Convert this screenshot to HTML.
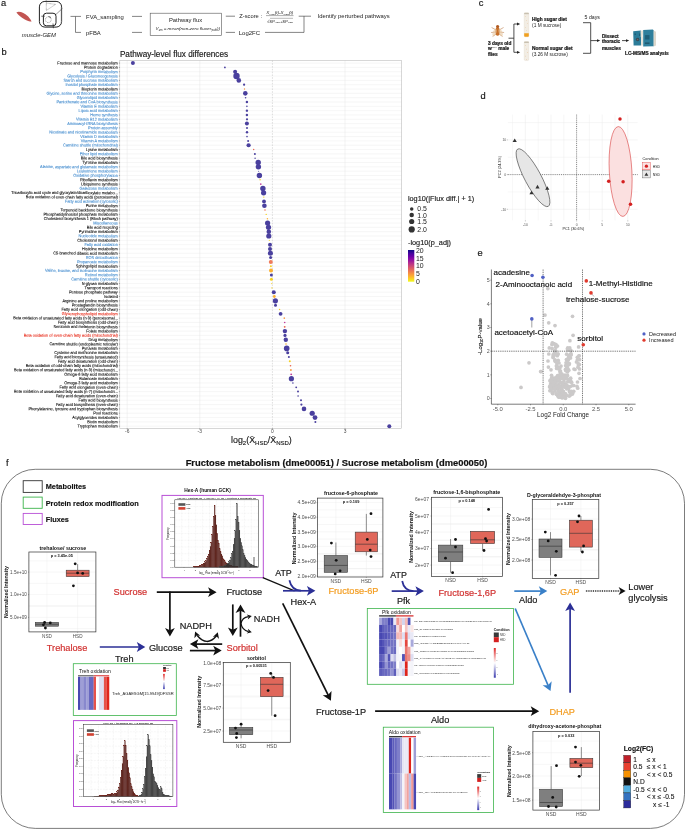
<!DOCTYPE html>
<html><head><meta charset="utf-8"><style>
html,body{margin:0;padding:0;background:#fff;}
svg{display:block;will-change:transform;}
text{font-family:"Liberation Sans", sans-serif;}
</style></head><body>
<svg width="685" height="829" viewBox="0 0 685 829" font-family='"Liberation Sans", sans-serif'>
<rect x="0" y="0" width="685" height="829" fill="#fff"/>
<text x="0.90" y="6.10" font-size="9.3" text-anchor="start" fill="#1a1a1a" stroke="#1a1a1a" stroke-width="0.186" >a</text>
<path d="M16.4,12.4 C18.5,10.6 24,12.2 28.2,16.6 C30,18.6 31,20.4 31.6,21.6 C27.5,21.2 21.5,18.6 16.4,12.4 Z" fill="#c25552"/>
<rect x="39.4" y="1.4" width="22.2" height="25.7" rx="5.5" fill="none" stroke="#222" stroke-width="1.0"/>
<path d="M61.2,7 L61.2,23" stroke="#999" stroke-width="0.6"/>
<rect x="43.4" y="13.2" width="12.6" height="12.6" rx="3" fill="none" stroke="#222" stroke-width="1.0"/>
<path d="M46.3,3.1 L55.5,4.4 L46.3,10.5 Z M46.3,0 L46.3,3.1" fill="none" stroke="#444" stroke-width="0.45" stroke-dasharray="0.8,0.5"/>
<circle cx="48.3" cy="19.7" r="2.9" fill="none" stroke="#555" stroke-width="0.5" stroke-dasharray="1,0.6"/>
<path d="M56,14.4 L62.5,8.3" stroke="#333" stroke-width="0.5"/>
<path d="M41.3,16.2 L44.8,16.2 M53,23.5 L53.4,28.2 M48.5,16.5 L51,17.5" stroke="#222" stroke-width="0.7"/>
<text x="21.80" y="36.71" font-size="5.9" text-anchor="start" font-style="italic" fill="#222" >muscle-GEM</text>
<path d="M70.5,16.4 L75.5,16.4 M75.5,16.4 L75.5,32.4 L81,32.4 M75.5,16.4 L81,16.4" fill="none" stroke="#333" stroke-width="0.6"/>
<text x="86.10" y="18.50" font-size="5.87" text-anchor="start" fill="#222" >FVA_sampling</text>
<text x="86.10" y="34.80" font-size="5.87" text-anchor="start" fill="#222" >pFBA</text>
<line x1="132.00" y1="16.40" x2="142.00" y2="16.40" stroke="#333" stroke-width="0.6" />
<line x1="132.00" y1="32.40" x2="142.00" y2="32.40" stroke="#333" stroke-width="0.6" />
<rect x="150.20" y="13.20" width="71.40" height="22.30" fill="none" stroke="#555" stroke-width="0.6" />
<text x="185.50" y="21.80" font-size="5.87" text-anchor="middle" fill="#222" >Pathway flux</text>
<text x="155.6" y="30.1" font-size="4.4" font-style="italic" fill="#222" textLength="64.5" lengthAdjust="spacingAndGlyphs">V<tspan font-size="2.6" dy="0.9">um</tspan><tspan dy="-0.9"> = mean(non-zero fluxes</tspan><tspan font-size="2.6" dy="0.9">path</tspan><tspan dy="-0.9">))</tspan></text>
<line x1="225.80" y1="16.20" x2="235.00" y2="16.20" stroke="#333" stroke-width="0.6" />
<line x1="225.80" y1="32.40" x2="235.00" y2="32.40" stroke="#333" stroke-width="0.6" />
<text x="239.30" y="18.26" font-size="5.75" text-anchor="start" fill="#222" >Z-score :</text>
<text x="266.3" y="14.2" font-size="4.3" font-style="italic" fill="#222" textLength="27" lengthAdjust="spacingAndGlyphs">X̄<tspan font-size="2.5" dy="0.8">HSD</tspan><tspan dy="-0.8">(t)-X̄</tspan><tspan font-size="2.5" dy="0.8">NSD</tspan><tspan dy="-0.8">(t)</tspan></text>
<line x1="266.00" y1="15.60" x2="293.50" y2="15.60" stroke="#333" stroke-width="0.4" />
<text x="267" y="22.6" font-size="4.3" font-style="italic" fill="#222" textLength="26" lengthAdjust="spacingAndGlyphs">√<tspan>SP</tspan><tspan font-size="2.5" dy="0.8">HSD</tspan><tspan dy="-0.8">+SP</tspan><tspan font-size="2.5" dy="0.8">NSD</tspan></text>
<line x1="270.00" y1="18.30" x2="293.00" y2="18.30" stroke="#333" stroke-width="0.35" />
<text x="238.80" y="34.83" font-size="5.96" text-anchor="start" fill="#222" >Log2FC</text>
<path d="M298.7,16.2 L311,16.2 M265,32.4 L304,32.4 L304,16.2" fill="none" stroke="#333" stroke-width="0.6"/>
<text x="317.60" y="18.30" font-size="5.87" text-anchor="start" fill="#222" >Identify perturbed pathways</text>
<text x="1.40" y="54.80" font-size="9.3" text-anchor="start" fill="#1a1a1a" stroke="#1a1a1a" stroke-width="0.186" >b</text>
<text x="119.90" y="57.30" font-size="8.2" text-anchor="start" fill="#1a1a1a" stroke="#1a1a1a" stroke-width="0.164" >Pathway-level flux differences</text>
<rect x="119.80" y="60.40" width="281.80" height="367.90" fill="#fff" stroke="none" stroke-width="1" />
<line x1="119.80" y1="63.10" x2="401.60" y2="63.10" stroke="#ebebeb" stroke-width="0.45" />
<line x1="119.80" y1="67.42" x2="401.60" y2="67.42" stroke="#ebebeb" stroke-width="0.45" />
<line x1="119.80" y1="71.75" x2="401.60" y2="71.75" stroke="#ebebeb" stroke-width="0.45" />
<line x1="119.80" y1="76.07" x2="401.60" y2="76.07" stroke="#ebebeb" stroke-width="0.45" />
<line x1="119.80" y1="80.39" x2="401.60" y2="80.39" stroke="#ebebeb" stroke-width="0.45" />
<line x1="119.80" y1="84.71" x2="401.60" y2="84.71" stroke="#ebebeb" stroke-width="0.45" />
<line x1="119.80" y1="89.04" x2="401.60" y2="89.04" stroke="#ebebeb" stroke-width="0.45" />
<line x1="119.80" y1="93.36" x2="401.60" y2="93.36" stroke="#ebebeb" stroke-width="0.45" />
<line x1="119.80" y1="97.68" x2="401.60" y2="97.68" stroke="#ebebeb" stroke-width="0.45" />
<line x1="119.80" y1="102.00" x2="401.60" y2="102.00" stroke="#ebebeb" stroke-width="0.45" />
<line x1="119.80" y1="106.33" x2="401.60" y2="106.33" stroke="#ebebeb" stroke-width="0.45" />
<line x1="119.80" y1="110.65" x2="401.60" y2="110.65" stroke="#ebebeb" stroke-width="0.45" />
<line x1="119.80" y1="114.97" x2="401.60" y2="114.97" stroke="#ebebeb" stroke-width="0.45" />
<line x1="119.80" y1="119.29" x2="401.60" y2="119.29" stroke="#ebebeb" stroke-width="0.45" />
<line x1="119.80" y1="123.62" x2="401.60" y2="123.62" stroke="#ebebeb" stroke-width="0.45" />
<line x1="119.80" y1="127.94" x2="401.60" y2="127.94" stroke="#ebebeb" stroke-width="0.45" />
<line x1="119.80" y1="132.26" x2="401.60" y2="132.26" stroke="#ebebeb" stroke-width="0.45" />
<line x1="119.80" y1="136.58" x2="401.60" y2="136.58" stroke="#ebebeb" stroke-width="0.45" />
<line x1="119.80" y1="140.91" x2="401.60" y2="140.91" stroke="#ebebeb" stroke-width="0.45" />
<line x1="119.80" y1="145.23" x2="401.60" y2="145.23" stroke="#ebebeb" stroke-width="0.45" />
<line x1="119.80" y1="149.55" x2="401.60" y2="149.55" stroke="#ebebeb" stroke-width="0.45" />
<line x1="119.80" y1="153.88" x2="401.60" y2="153.88" stroke="#ebebeb" stroke-width="0.45" />
<line x1="119.80" y1="158.20" x2="401.60" y2="158.20" stroke="#ebebeb" stroke-width="0.45" />
<line x1="119.80" y1="162.52" x2="401.60" y2="162.52" stroke="#ebebeb" stroke-width="0.45" />
<line x1="119.80" y1="166.84" x2="401.60" y2="166.84" stroke="#ebebeb" stroke-width="0.45" />
<line x1="119.80" y1="171.17" x2="401.60" y2="171.17" stroke="#ebebeb" stroke-width="0.45" />
<line x1="119.80" y1="175.49" x2="401.60" y2="175.49" stroke="#ebebeb" stroke-width="0.45" />
<line x1="119.80" y1="179.81" x2="401.60" y2="179.81" stroke="#ebebeb" stroke-width="0.45" />
<line x1="119.80" y1="184.13" x2="401.60" y2="184.13" stroke="#ebebeb" stroke-width="0.45" />
<line x1="119.80" y1="188.46" x2="401.60" y2="188.46" stroke="#ebebeb" stroke-width="0.45" />
<line x1="119.80" y1="192.78" x2="401.60" y2="192.78" stroke="#ebebeb" stroke-width="0.45" />
<line x1="119.80" y1="197.10" x2="401.60" y2="197.10" stroke="#ebebeb" stroke-width="0.45" />
<line x1="119.80" y1="201.42" x2="401.60" y2="201.42" stroke="#ebebeb" stroke-width="0.45" />
<line x1="119.80" y1="205.75" x2="401.60" y2="205.75" stroke="#ebebeb" stroke-width="0.45" />
<line x1="119.80" y1="210.07" x2="401.60" y2="210.07" stroke="#ebebeb" stroke-width="0.45" />
<line x1="119.80" y1="214.39" x2="401.60" y2="214.39" stroke="#ebebeb" stroke-width="0.45" />
<line x1="119.80" y1="218.71" x2="401.60" y2="218.71" stroke="#ebebeb" stroke-width="0.45" />
<line x1="119.80" y1="223.04" x2="401.60" y2="223.04" stroke="#ebebeb" stroke-width="0.45" />
<line x1="119.80" y1="227.36" x2="401.60" y2="227.36" stroke="#ebebeb" stroke-width="0.45" />
<line x1="119.80" y1="231.68" x2="401.60" y2="231.68" stroke="#ebebeb" stroke-width="0.45" />
<line x1="119.80" y1="236.00" x2="401.60" y2="236.00" stroke="#ebebeb" stroke-width="0.45" />
<line x1="119.80" y1="240.33" x2="401.60" y2="240.33" stroke="#ebebeb" stroke-width="0.45" />
<line x1="119.80" y1="244.65" x2="401.60" y2="244.65" stroke="#ebebeb" stroke-width="0.45" />
<line x1="119.80" y1="248.97" x2="401.60" y2="248.97" stroke="#ebebeb" stroke-width="0.45" />
<line x1="119.80" y1="253.30" x2="401.60" y2="253.30" stroke="#ebebeb" stroke-width="0.45" />
<line x1="119.80" y1="257.62" x2="401.60" y2="257.62" stroke="#ebebeb" stroke-width="0.45" />
<line x1="119.80" y1="261.94" x2="401.60" y2="261.94" stroke="#ebebeb" stroke-width="0.45" />
<line x1="119.80" y1="266.26" x2="401.60" y2="266.26" stroke="#ebebeb" stroke-width="0.45" />
<line x1="119.80" y1="270.59" x2="401.60" y2="270.59" stroke="#ebebeb" stroke-width="0.45" />
<line x1="119.80" y1="274.91" x2="401.60" y2="274.91" stroke="#ebebeb" stroke-width="0.45" />
<line x1="119.80" y1="279.23" x2="401.60" y2="279.23" stroke="#ebebeb" stroke-width="0.45" />
<line x1="119.80" y1="283.55" x2="401.60" y2="283.55" stroke="#ebebeb" stroke-width="0.45" />
<line x1="119.80" y1="287.88" x2="401.60" y2="287.88" stroke="#ebebeb" stroke-width="0.45" />
<line x1="119.80" y1="292.20" x2="401.60" y2="292.20" stroke="#ebebeb" stroke-width="0.45" />
<line x1="119.80" y1="296.52" x2="401.60" y2="296.52" stroke="#ebebeb" stroke-width="0.45" />
<line x1="119.80" y1="300.84" x2="401.60" y2="300.84" stroke="#ebebeb" stroke-width="0.45" />
<line x1="119.80" y1="305.17" x2="401.60" y2="305.17" stroke="#ebebeb" stroke-width="0.45" />
<line x1="119.80" y1="309.49" x2="401.60" y2="309.49" stroke="#ebebeb" stroke-width="0.45" />
<line x1="119.80" y1="313.81" x2="401.60" y2="313.81" stroke="#ebebeb" stroke-width="0.45" />
<line x1="119.80" y1="318.13" x2="401.60" y2="318.13" stroke="#ebebeb" stroke-width="0.45" />
<line x1="119.80" y1="322.46" x2="401.60" y2="322.46" stroke="#ebebeb" stroke-width="0.45" />
<line x1="119.80" y1="326.78" x2="401.60" y2="326.78" stroke="#ebebeb" stroke-width="0.45" />
<line x1="119.80" y1="331.10" x2="401.60" y2="331.10" stroke="#ebebeb" stroke-width="0.45" />
<line x1="119.80" y1="335.42" x2="401.60" y2="335.42" stroke="#ebebeb" stroke-width="0.45" />
<line x1="119.80" y1="339.75" x2="401.60" y2="339.75" stroke="#ebebeb" stroke-width="0.45" />
<line x1="119.80" y1="344.07" x2="401.60" y2="344.07" stroke="#ebebeb" stroke-width="0.45" />
<line x1="119.80" y1="348.39" x2="401.60" y2="348.39" stroke="#ebebeb" stroke-width="0.45" />
<line x1="119.80" y1="352.72" x2="401.60" y2="352.72" stroke="#ebebeb" stroke-width="0.45" />
<line x1="119.80" y1="357.04" x2="401.60" y2="357.04" stroke="#ebebeb" stroke-width="0.45" />
<line x1="119.80" y1="361.36" x2="401.60" y2="361.36" stroke="#ebebeb" stroke-width="0.45" />
<line x1="119.80" y1="365.68" x2="401.60" y2="365.68" stroke="#ebebeb" stroke-width="0.45" />
<line x1="119.80" y1="370.01" x2="401.60" y2="370.01" stroke="#ebebeb" stroke-width="0.45" />
<line x1="119.80" y1="374.33" x2="401.60" y2="374.33" stroke="#ebebeb" stroke-width="0.45" />
<line x1="119.80" y1="378.65" x2="401.60" y2="378.65" stroke="#ebebeb" stroke-width="0.45" />
<line x1="119.80" y1="382.97" x2="401.60" y2="382.97" stroke="#ebebeb" stroke-width="0.45" />
<line x1="119.80" y1="387.30" x2="401.60" y2="387.30" stroke="#ebebeb" stroke-width="0.45" />
<line x1="119.80" y1="391.62" x2="401.60" y2="391.62" stroke="#ebebeb" stroke-width="0.45" />
<line x1="119.80" y1="395.94" x2="401.60" y2="395.94" stroke="#ebebeb" stroke-width="0.45" />
<line x1="119.80" y1="400.26" x2="401.60" y2="400.26" stroke="#ebebeb" stroke-width="0.45" />
<line x1="119.80" y1="404.59" x2="401.60" y2="404.59" stroke="#ebebeb" stroke-width="0.45" />
<line x1="119.80" y1="408.91" x2="401.60" y2="408.91" stroke="#ebebeb" stroke-width="0.45" />
<line x1="119.80" y1="413.23" x2="401.60" y2="413.23" stroke="#ebebeb" stroke-width="0.45" />
<line x1="119.80" y1="417.55" x2="401.60" y2="417.55" stroke="#ebebeb" stroke-width="0.45" />
<line x1="119.80" y1="421.88" x2="401.60" y2="421.88" stroke="#ebebeb" stroke-width="0.45" />
<line x1="119.80" y1="426.20" x2="401.60" y2="426.20" stroke="#ebebeb" stroke-width="0.45" />
<line x1="127.20" y1="60.40" x2="127.20" y2="428.30" stroke="#e4e4e4" stroke-width="0.45" />
<line x1="199.80" y1="60.40" x2="199.80" y2="428.30" stroke="#e4e4e4" stroke-width="0.45" />
<line x1="345.00" y1="60.40" x2="345.00" y2="428.30" stroke="#e4e4e4" stroke-width="0.45" />
<line x1="272.40" y1="60.40" x2="272.40" y2="428.30" stroke="#bdbdbd" stroke-width="0.5" stroke-dasharray="1.6,1.2"/>
<rect x="119.80" y="60.40" width="281.80" height="367.90" fill="none" stroke="#b0b0b0" stroke-width="0.5" />
<line x1="118.90" y1="63.10" x2="119.80" y2="63.10" stroke="#333" stroke-width="0.4" />
<g transform="translate(117.8,64.50) rotate(0.1) scale(1,1.08)"><text x="0" y="0" font-size="3.89" text-anchor="end" fill="#111" stroke="#111" stroke-width="0.1">Fructose and mannose metabolism</text></g>
<line x1="118.90" y1="67.42" x2="119.80" y2="67.42" stroke="#333" stroke-width="0.4" />
<g transform="translate(117.8,68.82) rotate(0.1) scale(1,1.08)"><text x="0" y="0" font-size="3.89" text-anchor="end" fill="#111" stroke="#111" stroke-width="0.1">Protein degradation</text></g>
<line x1="118.90" y1="71.75" x2="119.80" y2="71.75" stroke="#333" stroke-width="0.4" />
<g transform="translate(117.8,73.15) rotate(0.1) scale(1,1.08)"><text x="0" y="0" font-size="3.89" text-anchor="end" fill="#4a90d0" stroke="#4a90d0" stroke-width="0.1">Porphyrin metabolism</text></g>
<line x1="118.90" y1="76.07" x2="119.80" y2="76.07" stroke="#333" stroke-width="0.4" />
<g transform="translate(117.8,77.47) rotate(0.1) scale(1,1.08)"><text x="0" y="0" font-size="3.89" text-anchor="end" fill="#4a90d0" stroke="#4a90d0" stroke-width="0.1">Glycolysis / Gluconeogenesis</text></g>
<line x1="118.90" y1="80.39" x2="119.80" y2="80.39" stroke="#333" stroke-width="0.4" />
<g transform="translate(117.8,81.79) rotate(0.1) scale(1,1.08)"><text x="0" y="0" font-size="3.89" text-anchor="end" fill="#4a90d0" stroke="#4a90d0" stroke-width="0.1">Starch and sucrose metabolism</text></g>
<line x1="118.90" y1="84.71" x2="119.80" y2="84.71" stroke="#333" stroke-width="0.4" />
<g transform="translate(117.8,86.11) rotate(0.1) scale(1,1.08)"><text x="0" y="0" font-size="3.89" text-anchor="end" fill="#4a90d0" stroke="#4a90d0" stroke-width="0.1">Inositol phosphate metabolism</text></g>
<line x1="118.90" y1="89.04" x2="119.80" y2="89.04" stroke="#333" stroke-width="0.4" />
<g transform="translate(117.8,90.44) rotate(0.1) scale(1,1.08)"><text x="0" y="0" font-size="3.89" text-anchor="end" fill="#111" stroke="#111" stroke-width="0.1">Biopterin metabolism</text></g>
<line x1="118.90" y1="93.36" x2="119.80" y2="93.36" stroke="#333" stroke-width="0.4" />
<g transform="translate(117.8,94.76) rotate(0.1) scale(1,1.08)"><text x="0" y="0" font-size="3.89" text-anchor="end" fill="#4a90d0" stroke="#4a90d0" stroke-width="0.1">Glycine, serine and threonine metabolism</text></g>
<line x1="118.90" y1="97.68" x2="119.80" y2="97.68" stroke="#333" stroke-width="0.4" />
<g transform="translate(117.8,99.08) rotate(0.1) scale(1,1.08)"><text x="0" y="0" font-size="3.89" text-anchor="end" fill="#4a90d0" stroke="#4a90d0" stroke-width="0.1">Glycerolipid metabolism</text></g>
<line x1="118.90" y1="102.00" x2="119.80" y2="102.00" stroke="#333" stroke-width="0.4" />
<g transform="translate(117.8,103.40) rotate(0.1) scale(1,1.08)"><text x="0" y="0" font-size="3.89" text-anchor="end" fill="#4a90d0" stroke="#4a90d0" stroke-width="0.1">Pantothenate and CoA biosynthesis</text></g>
<line x1="118.90" y1="106.33" x2="119.80" y2="106.33" stroke="#333" stroke-width="0.4" />
<g transform="translate(117.8,107.73) rotate(0.1) scale(1,1.08)"><text x="0" y="0" font-size="3.89" text-anchor="end" fill="#4a90d0" stroke="#4a90d0" stroke-width="0.1">Vitamin E metabolism</text></g>
<line x1="118.90" y1="110.65" x2="119.80" y2="110.65" stroke="#333" stroke-width="0.4" />
<g transform="translate(117.8,112.05) rotate(0.1) scale(1,1.08)"><text x="0" y="0" font-size="3.89" text-anchor="end" fill="#4a90d0" stroke="#4a90d0" stroke-width="0.1">Lipoic acid metabolism</text></g>
<line x1="118.90" y1="114.97" x2="119.80" y2="114.97" stroke="#333" stroke-width="0.4" />
<g transform="translate(117.8,116.37) rotate(0.1) scale(1,1.08)"><text x="0" y="0" font-size="3.89" text-anchor="end" fill="#4a90d0" stroke="#4a90d0" stroke-width="0.1">Heme synthesis</text></g>
<line x1="118.90" y1="119.29" x2="119.80" y2="119.29" stroke="#333" stroke-width="0.4" />
<g transform="translate(117.8,120.69) rotate(0.1) scale(1,1.08)"><text x="0" y="0" font-size="3.89" text-anchor="end" fill="#4a90d0" stroke="#4a90d0" stroke-width="0.1">Vitamin B12 metabolism</text></g>
<line x1="118.90" y1="123.62" x2="119.80" y2="123.62" stroke="#333" stroke-width="0.4" />
<g transform="translate(117.8,125.02) rotate(0.1) scale(1,1.08)"><text x="0" y="0" font-size="3.89" text-anchor="end" fill="#4a90d0" stroke="#4a90d0" stroke-width="0.1">Aminoacyl-tRNA biosynthesis</text></g>
<line x1="118.90" y1="127.94" x2="119.80" y2="127.94" stroke="#333" stroke-width="0.4" />
<g transform="translate(117.8,129.34) rotate(0.1) scale(1,1.08)"><text x="0" y="0" font-size="3.89" text-anchor="end" fill="#4a90d0" stroke="#4a90d0" stroke-width="0.1">Protein assembly</text></g>
<line x1="118.90" y1="132.26" x2="119.80" y2="132.26" stroke="#333" stroke-width="0.4" />
<g transform="translate(117.8,133.66) rotate(0.1) scale(1,1.08)"><text x="0" y="0" font-size="3.89" text-anchor="end" fill="#4a90d0" stroke="#4a90d0" stroke-width="0.1">Nicotinate and nicotinamide metabolism</text></g>
<line x1="118.90" y1="136.58" x2="119.80" y2="136.58" stroke="#333" stroke-width="0.4" />
<g transform="translate(117.8,137.98) rotate(0.1) scale(1,1.08)"><text x="0" y="0" font-size="3.89" text-anchor="end" fill="#4a90d0" stroke="#4a90d0" stroke-width="0.1">Vitamin D metabolism</text></g>
<line x1="118.90" y1="140.91" x2="119.80" y2="140.91" stroke="#333" stroke-width="0.4" />
<g transform="translate(117.8,142.31) rotate(0.1) scale(1,1.08)"><text x="0" y="0" font-size="3.89" text-anchor="end" fill="#4a90d0" stroke="#4a90d0" stroke-width="0.1">Vitamin A metabolism</text></g>
<line x1="118.90" y1="145.23" x2="119.80" y2="145.23" stroke="#333" stroke-width="0.4" />
<g transform="translate(117.8,146.63) rotate(0.1) scale(1,1.08)"><text x="0" y="0" font-size="3.89" text-anchor="end" fill="#4a90d0" stroke="#4a90d0" stroke-width="0.1">Carnitine shuttle (mitochondrial)</text></g>
<line x1="118.90" y1="149.55" x2="119.80" y2="149.55" stroke="#333" stroke-width="0.4" />
<g transform="translate(117.8,150.95) rotate(0.1) scale(1,1.08)"><text x="0" y="0" font-size="3.89" text-anchor="end" fill="#111" stroke="#111" stroke-width="0.1">Lysine metabolism</text></g>
<line x1="118.90" y1="153.88" x2="119.80" y2="153.88" stroke="#333" stroke-width="0.4" />
<g transform="translate(117.8,155.28) rotate(0.1) scale(1,1.08)"><text x="0" y="0" font-size="3.89" text-anchor="end" fill="#4a90d0" stroke="#4a90d0" stroke-width="0.1">Ether lipid metabolism</text></g>
<line x1="118.90" y1="158.20" x2="119.80" y2="158.20" stroke="#333" stroke-width="0.4" />
<g transform="translate(117.8,159.60) rotate(0.1) scale(1,1.08)"><text x="0" y="0" font-size="3.89" text-anchor="end" fill="#111" stroke="#111" stroke-width="0.1">Bile acid biosynthesis</text></g>
<line x1="118.90" y1="162.52" x2="119.80" y2="162.52" stroke="#333" stroke-width="0.4" />
<g transform="translate(117.8,163.92) rotate(0.1) scale(1,1.08)"><text x="0" y="0" font-size="3.89" text-anchor="end" fill="#111" stroke="#111" stroke-width="0.1">Tyrosine metabolism</text></g>
<line x1="118.90" y1="166.84" x2="119.80" y2="166.84" stroke="#333" stroke-width="0.4" />
<g transform="translate(117.8,168.24) rotate(0.1) scale(1,1.08)"><text x="0" y="0" font-size="3.89" text-anchor="end" fill="#4a90d0" stroke="#4a90d0" stroke-width="0.1">Alanine, aspartate and glutamate metabolism</text></g>
<line x1="118.90" y1="171.17" x2="119.80" y2="171.17" stroke="#333" stroke-width="0.4" />
<g transform="translate(117.8,172.57) rotate(0.1) scale(1,1.08)"><text x="0" y="0" font-size="3.89" text-anchor="end" fill="#4a90d0" stroke="#4a90d0" stroke-width="0.1">Leukotriene metabolism</text></g>
<line x1="118.90" y1="175.49" x2="119.80" y2="175.49" stroke="#333" stroke-width="0.4" />
<g transform="translate(117.8,176.89) rotate(0.1) scale(1,1.08)"><text x="0" y="0" font-size="3.89" text-anchor="end" fill="#4a90d0" stroke="#4a90d0" stroke-width="0.1">Oxidative phosphorylation</text></g>
<line x1="118.90" y1="179.81" x2="119.80" y2="179.81" stroke="#333" stroke-width="0.4" />
<g transform="translate(117.8,181.21) rotate(0.1) scale(1,1.08)"><text x="0" y="0" font-size="3.89" text-anchor="end" fill="#111" stroke="#111" stroke-width="0.1">Riboflavin metabolism</text></g>
<line x1="118.90" y1="184.13" x2="119.80" y2="184.13" stroke="#333" stroke-width="0.4" />
<g transform="translate(117.8,185.53) rotate(0.1) scale(1,1.08)"><text x="0" y="0" font-size="3.89" text-anchor="end" fill="#111" stroke="#111" stroke-width="0.1">Ubiquinone synthesis</text></g>
<line x1="118.90" y1="188.46" x2="119.80" y2="188.46" stroke="#333" stroke-width="0.4" />
<g transform="translate(117.8,189.86) rotate(0.1) scale(1,1.08)"><text x="0" y="0" font-size="3.89" text-anchor="end" fill="#4a90d0" stroke="#4a90d0" stroke-width="0.1">Galactose metabolism</text></g>
<line x1="118.90" y1="192.78" x2="119.80" y2="192.78" stroke="#333" stroke-width="0.4" />
<g transform="translate(117.8,194.18) rotate(0.1) scale(1,1.08)"><text x="0" y="0" font-size="3.89" text-anchor="end" fill="#111" stroke="#111" stroke-width="0.1">Tricarboxylic acid cycle and glyoxylate/dicarboxylate metabo...</text></g>
<line x1="118.90" y1="197.10" x2="119.80" y2="197.10" stroke="#333" stroke-width="0.4" />
<g transform="translate(117.8,198.50) rotate(0.1) scale(1,1.08)"><text x="0" y="0" font-size="3.89" text-anchor="end" fill="#111" stroke="#111" stroke-width="0.1">Beta oxidation of even-chain fatty acids (peroxisomal)</text></g>
<line x1="118.90" y1="201.42" x2="119.80" y2="201.42" stroke="#333" stroke-width="0.4" />
<g transform="translate(117.8,202.82) rotate(0.1) scale(1,1.08)"><text x="0" y="0" font-size="3.89" text-anchor="end" fill="#4a90d0" stroke="#4a90d0" stroke-width="0.1">Fatty acid activation (cytosolic)</text></g>
<line x1="118.90" y1="205.75" x2="119.80" y2="205.75" stroke="#333" stroke-width="0.4" />
<g transform="translate(117.8,207.15) rotate(0.1) scale(1,1.08)"><text x="0" y="0" font-size="3.89" text-anchor="end" fill="#111" stroke="#111" stroke-width="0.1">Purine metabolism</text></g>
<line x1="118.90" y1="210.07" x2="119.80" y2="210.07" stroke="#333" stroke-width="0.4" />
<g transform="translate(117.8,211.47) rotate(0.1) scale(1,1.08)"><text x="0" y="0" font-size="3.89" text-anchor="end" fill="#111" stroke="#111" stroke-width="0.1">Terpenoid backbone biosynthesis</text></g>
<line x1="118.90" y1="214.39" x2="119.80" y2="214.39" stroke="#333" stroke-width="0.4" />
<g transform="translate(117.8,215.79) rotate(0.1) scale(1,1.08)"><text x="0" y="0" font-size="3.89" text-anchor="end" fill="#111" stroke="#111" stroke-width="0.1">Phosphatidylinositol phosphate metabolism</text></g>
<line x1="118.90" y1="218.71" x2="119.80" y2="218.71" stroke="#333" stroke-width="0.4" />
<g transform="translate(117.8,220.11) rotate(0.1) scale(1,1.08)"><text x="0" y="0" font-size="3.89" text-anchor="end" fill="#111" stroke="#111" stroke-width="0.1">Cholesterol biosynthesis 1 (Bloch pathway)</text></g>
<line x1="118.90" y1="223.04" x2="119.80" y2="223.04" stroke="#333" stroke-width="0.4" />
<g transform="translate(117.8,224.44) rotate(0.1) scale(1,1.08)"><text x="0" y="0" font-size="3.89" text-anchor="end" fill="#4a90d0" stroke="#4a90d0" stroke-width="0.1">Miscellaneous</text></g>
<line x1="118.90" y1="227.36" x2="119.80" y2="227.36" stroke="#333" stroke-width="0.4" />
<g transform="translate(117.8,228.76) rotate(0.1) scale(1,1.08)"><text x="0" y="0" font-size="3.89" text-anchor="end" fill="#111" stroke="#111" stroke-width="0.1">Bile acid recycling</text></g>
<line x1="118.90" y1="231.68" x2="119.80" y2="231.68" stroke="#333" stroke-width="0.4" />
<g transform="translate(117.8,233.08) rotate(0.1) scale(1,1.08)"><text x="0" y="0" font-size="3.89" text-anchor="end" fill="#111" stroke="#111" stroke-width="0.1">Pyrimidine metabolism</text></g>
<line x1="118.90" y1="236.00" x2="119.80" y2="236.00" stroke="#333" stroke-width="0.4" />
<g transform="translate(117.8,237.40) rotate(0.1) scale(1,1.08)"><text x="0" y="0" font-size="3.89" text-anchor="end" fill="#4a90d0" stroke="#4a90d0" stroke-width="0.1">Nucleotide metabolism</text></g>
<line x1="118.90" y1="240.33" x2="119.80" y2="240.33" stroke="#333" stroke-width="0.4" />
<g transform="translate(117.8,241.73) rotate(0.1) scale(1,1.08)"><text x="0" y="0" font-size="3.89" text-anchor="end" fill="#111" stroke="#111" stroke-width="0.1">Cholesterol metabolism</text></g>
<line x1="118.90" y1="244.65" x2="119.80" y2="244.65" stroke="#333" stroke-width="0.4" />
<g transform="translate(117.8,246.05) rotate(0.1) scale(1,1.08)"><text x="0" y="0" font-size="3.89" text-anchor="end" fill="#4a90d0" stroke="#4a90d0" stroke-width="0.1">Fatty acid oxidation</text></g>
<line x1="118.90" y1="248.97" x2="119.80" y2="248.97" stroke="#333" stroke-width="0.4" />
<g transform="translate(117.8,250.37) rotate(0.1) scale(1,1.08)"><text x="0" y="0" font-size="3.89" text-anchor="end" fill="#111" stroke="#111" stroke-width="0.1">Histidine metabolism</text></g>
<line x1="118.90" y1="253.30" x2="119.80" y2="253.30" stroke="#333" stroke-width="0.4" />
<g transform="translate(117.8,254.70) rotate(0.1) scale(1,1.08)"><text x="0" y="0" font-size="3.89" text-anchor="end" fill="#111" stroke="#111" stroke-width="0.1">C5-branched dibasic acid metabolism</text></g>
<line x1="118.90" y1="257.62" x2="119.80" y2="257.62" stroke="#333" stroke-width="0.4" />
<g transform="translate(117.8,259.02) rotate(0.1) scale(1,1.08)"><text x="0" y="0" font-size="3.89" text-anchor="end" fill="#4a90d0" stroke="#4a90d0" stroke-width="0.1">ROS detoxification</text></g>
<line x1="118.90" y1="261.94" x2="119.80" y2="261.94" stroke="#333" stroke-width="0.4" />
<g transform="translate(117.8,263.34) rotate(0.1) scale(1,1.08)"><text x="0" y="0" font-size="3.89" text-anchor="end" fill="#4a90d0" stroke="#4a90d0" stroke-width="0.1">Propanoate metabolism</text></g>
<line x1="118.90" y1="266.26" x2="119.80" y2="266.26" stroke="#333" stroke-width="0.4" />
<g transform="translate(117.8,267.66) rotate(0.1) scale(1,1.08)"><text x="0" y="0" font-size="3.89" text-anchor="end" fill="#111" stroke="#111" stroke-width="0.1">Sphingolipid metabolism</text></g>
<line x1="118.90" y1="270.59" x2="119.80" y2="270.59" stroke="#333" stroke-width="0.4" />
<g transform="translate(117.8,271.99) rotate(0.1) scale(1,1.08)"><text x="0" y="0" font-size="3.89" text-anchor="end" fill="#4a90d0" stroke="#4a90d0" stroke-width="0.1">Valine, leucine, and isoleucine metabolism</text></g>
<line x1="118.90" y1="274.91" x2="119.80" y2="274.91" stroke="#333" stroke-width="0.4" />
<g transform="translate(117.8,276.31) rotate(0.1) scale(1,1.08)"><text x="0" y="0" font-size="3.89" text-anchor="end" fill="#4a90d0" stroke="#4a90d0" stroke-width="0.1">Retinol metabolism</text></g>
<line x1="118.90" y1="279.23" x2="119.80" y2="279.23" stroke="#333" stroke-width="0.4" />
<g transform="translate(117.8,280.63) rotate(0.1) scale(1,1.08)"><text x="0" y="0" font-size="3.89" text-anchor="end" fill="#4a90d0" stroke="#4a90d0" stroke-width="0.1">Carnitine shuttle (cytosolic)</text></g>
<line x1="118.90" y1="283.55" x2="119.80" y2="283.55" stroke="#333" stroke-width="0.4" />
<g transform="translate(117.8,284.95) rotate(0.1) scale(1,1.08)"><text x="0" y="0" font-size="3.89" text-anchor="end" fill="#111" stroke="#111" stroke-width="0.1">N-glycan metabolism</text></g>
<line x1="118.90" y1="287.88" x2="119.80" y2="287.88" stroke="#333" stroke-width="0.4" />
<g transform="translate(117.8,289.28) rotate(0.1) scale(1,1.08)"><text x="0" y="0" font-size="3.89" text-anchor="end" fill="#111" stroke="#111" stroke-width="0.1">Transport reactions</text></g>
<line x1="118.90" y1="292.20" x2="119.80" y2="292.20" stroke="#333" stroke-width="0.4" />
<g transform="translate(117.8,293.60) rotate(0.1) scale(1,1.08)"><text x="0" y="0" font-size="3.89" text-anchor="end" fill="#111" stroke="#111" stroke-width="0.1">Pentose phosphate pathway</text></g>
<line x1="118.90" y1="296.52" x2="119.80" y2="296.52" stroke="#333" stroke-width="0.4" />
<g transform="translate(117.8,297.92) rotate(0.1) scale(1,1.08)"><text x="0" y="0" font-size="3.89" text-anchor="end" fill="#111" stroke="#111" stroke-width="0.1">Isolated</text></g>
<line x1="118.90" y1="300.84" x2="119.80" y2="300.84" stroke="#333" stroke-width="0.4" />
<g transform="translate(117.8,302.24) rotate(0.1) scale(1,1.08)"><text x="0" y="0" font-size="3.89" text-anchor="end" fill="#111" stroke="#111" stroke-width="0.1">Arginine and proline metabolism</text></g>
<line x1="118.90" y1="305.17" x2="119.80" y2="305.17" stroke="#333" stroke-width="0.4" />
<g transform="translate(117.8,306.57) rotate(0.1) scale(1,1.08)"><text x="0" y="0" font-size="3.89" text-anchor="end" fill="#111" stroke="#111" stroke-width="0.1">Prostaglandin biosynthesis</text></g>
<line x1="118.90" y1="309.49" x2="119.80" y2="309.49" stroke="#333" stroke-width="0.4" />
<g transform="translate(117.8,310.89) rotate(0.1) scale(1,1.08)"><text x="0" y="0" font-size="3.89" text-anchor="end" fill="#111" stroke="#111" stroke-width="0.1">Fatty acid elongation (odd-chain)</text></g>
<line x1="118.90" y1="313.81" x2="119.80" y2="313.81" stroke="#333" stroke-width="0.4" />
<g transform="translate(117.8,315.21) rotate(0.1) scale(1,1.08)"><text x="0" y="0" font-size="3.89" text-anchor="end" fill="#e8301f" stroke="#e8301f" stroke-width="0.1">Glycerophospholipid metabolism</text></g>
<line x1="118.90" y1="318.13" x2="119.80" y2="318.13" stroke="#333" stroke-width="0.4" />
<g transform="translate(117.8,319.53) rotate(0.1) scale(1,1.08)"><text x="0" y="0" font-size="3.89" text-anchor="end" fill="#111" stroke="#111" stroke-width="0.1">Beta oxidation of unsaturated fatty acids (n-9) (peroxisomal...</text></g>
<line x1="118.90" y1="322.46" x2="119.80" y2="322.46" stroke="#333" stroke-width="0.4" />
<g transform="translate(117.8,323.86) rotate(0.1) scale(1,1.08)"><text x="0" y="0" font-size="3.89" text-anchor="end" fill="#111" stroke="#111" stroke-width="0.1">Fatty acid biosynthesis (odd-chain)</text></g>
<line x1="118.90" y1="326.78" x2="119.80" y2="326.78" stroke="#333" stroke-width="0.4" />
<g transform="translate(117.8,328.18) rotate(0.1) scale(1,1.08)"><text x="0" y="0" font-size="3.89" text-anchor="end" fill="#111" stroke="#111" stroke-width="0.1">Serotonin and melatonin biosynthesis</text></g>
<line x1="118.90" y1="331.10" x2="119.80" y2="331.10" stroke="#333" stroke-width="0.4" />
<g transform="translate(117.8,332.50) rotate(0.1) scale(1,1.08)"><text x="0" y="0" font-size="3.89" text-anchor="end" fill="#111" stroke="#111" stroke-width="0.1">Folate metabolism</text></g>
<line x1="118.90" y1="335.42" x2="119.80" y2="335.42" stroke="#333" stroke-width="0.4" />
<g transform="translate(117.8,336.82) rotate(0.1) scale(1,1.08)"><text x="0" y="0" font-size="3.89" text-anchor="end" fill="#e8301f" stroke="#e8301f" stroke-width="0.1">Beta oxidation of even-chain fatty acids (mitochondrial)</text></g>
<line x1="118.90" y1="339.75" x2="119.80" y2="339.75" stroke="#333" stroke-width="0.4" />
<g transform="translate(117.8,341.15) rotate(0.1) scale(1,1.08)"><text x="0" y="0" font-size="3.89" text-anchor="end" fill="#111" stroke="#111" stroke-width="0.1">Drug metabolism</text></g>
<line x1="118.90" y1="344.07" x2="119.80" y2="344.07" stroke="#333" stroke-width="0.4" />
<g transform="translate(117.8,345.47) rotate(0.1) scale(1,1.08)"><text x="0" y="0" font-size="3.89" text-anchor="end" fill="#111" stroke="#111" stroke-width="0.1">Carnitine shuttle (endoplasmic reticular)</text></g>
<line x1="118.90" y1="348.39" x2="119.80" y2="348.39" stroke="#333" stroke-width="0.4" />
<g transform="translate(117.8,349.79) rotate(0.1) scale(1,1.08)"><text x="0" y="0" font-size="3.89" text-anchor="end" fill="#111" stroke="#111" stroke-width="0.1">Pyruvate metabolism</text></g>
<line x1="118.90" y1="352.72" x2="119.80" y2="352.72" stroke="#333" stroke-width="0.4" />
<g transform="translate(117.8,354.12) rotate(0.1) scale(1,1.08)"><text x="0" y="0" font-size="3.89" text-anchor="end" fill="#111" stroke="#111" stroke-width="0.1">Cysteine and methionine metabolism</text></g>
<line x1="118.90" y1="357.04" x2="119.80" y2="357.04" stroke="#333" stroke-width="0.4" />
<g transform="translate(117.8,358.44) rotate(0.1) scale(1,1.08)"><text x="0" y="0" font-size="3.89" text-anchor="end" fill="#111" stroke="#111" stroke-width="0.1">Fatty acid biosynthesis (unsaturated)</text></g>
<line x1="118.90" y1="361.36" x2="119.80" y2="361.36" stroke="#333" stroke-width="0.4" />
<g transform="translate(117.8,362.76) rotate(0.1) scale(1,1.08)"><text x="0" y="0" font-size="3.89" text-anchor="end" fill="#111" stroke="#111" stroke-width="0.1">Fatty acid desaturation (odd-chain)</text></g>
<line x1="118.90" y1="365.68" x2="119.80" y2="365.68" stroke="#333" stroke-width="0.4" />
<g transform="translate(117.8,367.08) rotate(0.1) scale(1,1.08)"><text x="0" y="0" font-size="3.89" text-anchor="end" fill="#111" stroke="#111" stroke-width="0.1">Beta oxidation of odd-chain fatty acids (mitochondrial)</text></g>
<line x1="118.90" y1="370.01" x2="119.80" y2="370.01" stroke="#333" stroke-width="0.4" />
<g transform="translate(117.8,371.41) rotate(0.1) scale(1,1.08)"><text x="0" y="0" font-size="3.89" text-anchor="end" fill="#111" stroke="#111" stroke-width="0.1">Beta oxidation of unsaturated fatty acids (n-9) (mitochondri...</text></g>
<line x1="118.90" y1="374.33" x2="119.80" y2="374.33" stroke="#333" stroke-width="0.4" />
<g transform="translate(117.8,375.73) rotate(0.1) scale(1,1.08)"><text x="0" y="0" font-size="3.89" text-anchor="end" fill="#111" stroke="#111" stroke-width="0.1">Omega-6 fatty acid metabolism</text></g>
<line x1="118.90" y1="378.65" x2="119.80" y2="378.65" stroke="#333" stroke-width="0.4" />
<g transform="translate(117.8,380.05) rotate(0.1) scale(1,1.08)"><text x="0" y="0" font-size="3.89" text-anchor="end" fill="#111" stroke="#111" stroke-width="0.1">Butanoate metabolism</text></g>
<line x1="118.90" y1="382.97" x2="119.80" y2="382.97" stroke="#333" stroke-width="0.4" />
<g transform="translate(117.8,384.37) rotate(0.1) scale(1,1.08)"><text x="0" y="0" font-size="3.89" text-anchor="end" fill="#111" stroke="#111" stroke-width="0.1">Omega-3 fatty acid metabolism</text></g>
<line x1="118.90" y1="387.30" x2="119.80" y2="387.30" stroke="#333" stroke-width="0.4" />
<g transform="translate(117.8,388.70) rotate(0.1) scale(1,1.08)"><text x="0" y="0" font-size="3.89" text-anchor="end" fill="#111" stroke="#111" stroke-width="0.1">Fatty acid elongation (even-chain)</text></g>
<line x1="118.90" y1="391.62" x2="119.80" y2="391.62" stroke="#333" stroke-width="0.4" />
<g transform="translate(117.8,393.02) rotate(0.1) scale(1,1.08)"><text x="0" y="0" font-size="3.89" text-anchor="end" fill="#111" stroke="#111" stroke-width="0.1">Beta oxidation of unsaturated fatty acids (n-7) (mitochondri...</text></g>
<line x1="118.90" y1="395.94" x2="119.80" y2="395.94" stroke="#333" stroke-width="0.4" />
<g transform="translate(117.8,397.34) rotate(0.1) scale(1,1.08)"><text x="0" y="0" font-size="3.89" text-anchor="end" fill="#111" stroke="#111" stroke-width="0.1">Fatty acid desaturation (even-chain)</text></g>
<line x1="118.90" y1="400.26" x2="119.80" y2="400.26" stroke="#333" stroke-width="0.4" />
<g transform="translate(117.8,401.66) rotate(0.1) scale(1,1.08)"><text x="0" y="0" font-size="3.89" text-anchor="end" fill="#111" stroke="#111" stroke-width="0.1">Fatty acid biosynthesis</text></g>
<line x1="118.90" y1="404.59" x2="119.80" y2="404.59" stroke="#333" stroke-width="0.4" />
<g transform="translate(117.8,405.99) rotate(0.1) scale(1,1.08)"><text x="0" y="0" font-size="3.89" text-anchor="end" fill="#111" stroke="#111" stroke-width="0.1">Fatty acid biosynthesis (even-chain)</text></g>
<line x1="118.90" y1="408.91" x2="119.80" y2="408.91" stroke="#333" stroke-width="0.4" />
<g transform="translate(117.8,410.31) rotate(0.1) scale(1,1.08)"><text x="0" y="0" font-size="3.89" text-anchor="end" fill="#111" stroke="#111" stroke-width="0.1">Phenylalanine, tyrosine and tryptophan biosynthesis</text></g>
<line x1="118.90" y1="413.23" x2="119.80" y2="413.23" stroke="#333" stroke-width="0.4" />
<g transform="translate(117.8,414.63) rotate(0.1) scale(1,1.08)"><text x="0" y="0" font-size="3.89" text-anchor="end" fill="#111" stroke="#111" stroke-width="0.1">Pool reactions</text></g>
<line x1="118.90" y1="417.55" x2="119.80" y2="417.55" stroke="#333" stroke-width="0.4" />
<g transform="translate(117.8,418.95) rotate(0.1) scale(1,1.08)"><text x="0" y="0" font-size="3.89" text-anchor="end" fill="#111" stroke="#111" stroke-width="0.1">Acylglycerides metabolism</text></g>
<line x1="118.90" y1="421.88" x2="119.80" y2="421.88" stroke="#333" stroke-width="0.4" />
<g transform="translate(117.8,423.28) rotate(0.1) scale(1,1.08)"><text x="0" y="0" font-size="3.89" text-anchor="end" fill="#111" stroke="#111" stroke-width="0.1">Biotin metabolism</text></g>
<line x1="118.90" y1="426.20" x2="119.80" y2="426.20" stroke="#333" stroke-width="0.4" />
<g transform="translate(117.8,427.60) rotate(0.1) scale(1,1.08)"><text x="0" y="0" font-size="3.89" text-anchor="end" fill="#111" stroke="#111" stroke-width="0.1">Tryptophan metabolism</text></g>
<line x1="127.20" y1="428.30" x2="127.20" y2="429.30" stroke="#333" stroke-width="0.4" />
<text x="127.20" y="433.30" font-size="4.9" text-anchor="middle" fill="#4d4d4d" >-6</text>
<line x1="199.80" y1="428.30" x2="199.80" y2="429.30" stroke="#333" stroke-width="0.4" />
<text x="199.80" y="433.30" font-size="4.9" text-anchor="middle" fill="#4d4d4d" >-3</text>
<line x1="272.40" y1="428.30" x2="272.40" y2="429.30" stroke="#333" stroke-width="0.4" />
<text x="272.40" y="433.30" font-size="4.9" text-anchor="middle" fill="#4d4d4d" >0</text>
<line x1="345.00" y1="428.30" x2="345.00" y2="429.30" stroke="#333" stroke-width="0.4" />
<text x="345.00" y="433.30" font-size="4.9" text-anchor="middle" fill="#4d4d4d" >3</text>
<text x="231" y="443.2" font-size="8.9" fill="#1a1a1a" stroke="#1a1a1a" stroke-width="0.15">log<tspan font-size="6" dy="1.6">2</tspan><tspan dy="-1.6">(X̄</tspan><tspan font-size="6" dy="1.6">HSD</tspan><tspan dy="-1.6">/X̄</tspan><tspan font-size="6" dy="1.6">NSD</tspan><tspan dy="-1.6">)</tspan></text>
<circle cx="132.90" cy="63.10" r="2.00" fill="#4a409e" stroke="none" stroke-width="0" />
<circle cx="224.90" cy="67.42" r="0.90" fill="#4a409e" stroke="none" stroke-width="0" />
<circle cx="235.10" cy="71.75" r="2.00" fill="#4a409e" stroke="none" stroke-width="0" />
<circle cx="236.50" cy="76.07" r="3.20" fill="#4a409e" stroke="none" stroke-width="0" />
<circle cx="238.80" cy="80.39" r="2.30" fill="#4a409e" stroke="none" stroke-width="0" />
<circle cx="244.10" cy="84.71" r="1.10" fill="#4a409e" stroke="none" stroke-width="0" />
<circle cx="244.50" cy="89.04" r="0.70" fill="#f89540" stroke="none" stroke-width="0" />
<circle cx="245.30" cy="93.36" r="2.30" fill="#4a409e" stroke="none" stroke-width="0" />
<circle cx="245.60" cy="97.68" r="0.80" fill="#4a409e" stroke="none" stroke-width="0" />
<circle cx="246.90" cy="102.00" r="1.20" fill="#4a409e" stroke="none" stroke-width="0" />
<circle cx="246.90" cy="106.33" r="0.80" fill="#4a409e" stroke="none" stroke-width="0" />
<circle cx="246.90" cy="110.65" r="1.20" fill="#4a409e" stroke="none" stroke-width="0" />
<circle cx="246.90" cy="114.97" r="1.20" fill="#4a409e" stroke="none" stroke-width="0" />
<circle cx="247.00" cy="119.29" r="1.10" fill="#4a409e" stroke="none" stroke-width="0" />
<circle cx="246.90" cy="123.62" r="2.00" fill="#4a409e" stroke="none" stroke-width="0" />
<circle cx="247.00" cy="127.94" r="1.00" fill="#4a409e" stroke="none" stroke-width="0" />
<circle cx="247.00" cy="132.26" r="1.20" fill="#4a409e" stroke="none" stroke-width="0" />
<circle cx="247.00" cy="136.58" r="0.80" fill="#4a409e" stroke="none" stroke-width="0" />
<circle cx="248.10" cy="140.91" r="1.00" fill="#4a409e" stroke="none" stroke-width="0" />
<circle cx="248.60" cy="145.23" r="2.10" fill="#4a409e" stroke="none" stroke-width="0" />
<circle cx="253.70" cy="149.55" r="0.70" fill="#e8604a" stroke="none" stroke-width="0" />
<circle cx="254.90" cy="153.88" r="1.00" fill="#4a409e" stroke="none" stroke-width="0" />
<circle cx="255.10" cy="158.20" r="0.70" fill="#4a409e" stroke="none" stroke-width="0" />
<circle cx="258.20" cy="162.52" r="2.70" fill="#4a409e" stroke="none" stroke-width="0" />
<circle cx="258.40" cy="166.84" r="2.70" fill="#4a409e" stroke="none" stroke-width="0" />
<circle cx="258.60" cy="171.17" r="0.50" fill="#4a409e" stroke="none" stroke-width="0" />
<circle cx="259.40" cy="175.49" r="2.70" fill="#4a409e" stroke="none" stroke-width="0" />
<circle cx="260.10" cy="179.81" r="0.70" fill="#f5d020" stroke="none" stroke-width="0" />
<circle cx="260.80" cy="184.13" r="0.80" fill="#c03a9a" stroke="none" stroke-width="0" />
<circle cx="262.90" cy="188.46" r="2.70" fill="#4a409e" stroke="none" stroke-width="0" />
<circle cx="263.60" cy="192.78" r="2.60" fill="#4a409e" stroke="none" stroke-width="0" />
<circle cx="263.80" cy="197.10" r="0.70" fill="#f5d020" stroke="none" stroke-width="0" />
<circle cx="264.00" cy="201.42" r="1.90" fill="#4a409e" stroke="none" stroke-width="0" />
<circle cx="264.40" cy="205.75" r="2.30" fill="#4a409e" stroke="none" stroke-width="0" />
<circle cx="265.00" cy="210.07" r="0.80" fill="#f07a5a" stroke="none" stroke-width="0" />
<circle cx="266.20" cy="214.39" r="0.70" fill="#f5d020" stroke="none" stroke-width="0" />
<circle cx="267.40" cy="218.71" r="0.70" fill="#fbb030" stroke="none" stroke-width="0" />
<circle cx="267.60" cy="223.04" r="2.60" fill="#4a409e" stroke="none" stroke-width="0" />
<circle cx="268.50" cy="227.36" r="2.60" fill="#4a409e" stroke="none" stroke-width="0" />
<circle cx="268.80" cy="231.68" r="2.30" fill="#4a409e" stroke="none" stroke-width="0" />
<circle cx="268.80" cy="236.00" r="2.60" fill="#4a409e" stroke="none" stroke-width="0" />
<circle cx="269.30" cy="240.33" r="0.60" fill="#f5d020" stroke="none" stroke-width="0" />
<circle cx="270.00" cy="244.65" r="2.00" fill="#4a409e" stroke="none" stroke-width="0" />
<circle cx="270.00" cy="248.97" r="2.00" fill="#4a409e" stroke="none" stroke-width="0" />
<circle cx="270.40" cy="253.30" r="2.50" fill="#4a409e" stroke="none" stroke-width="0" />
<circle cx="270.60" cy="257.62" r="1.50" fill="#4a409e" stroke="none" stroke-width="0" />
<circle cx="270.80" cy="261.94" r="2.00" fill="#f07a5a" stroke="none" stroke-width="0" />
<circle cx="270.90" cy="266.26" r="1.00" fill="#f5d020" stroke="none" stroke-width="0" />
<circle cx="271.00" cy="270.59" r="2.00" fill="#fbb030" stroke="none" stroke-width="0" />
<circle cx="271.40" cy="274.91" r="1.50" fill="#4a409e" stroke="none" stroke-width="0" />
<circle cx="271.40" cy="279.23" r="1.50" fill="#f5d020" stroke="none" stroke-width="0" />
<circle cx="271.80" cy="283.55" r="0.60" fill="#f5d020" stroke="none" stroke-width="0" />
<circle cx="271.90" cy="287.88" r="0.60" fill="#f5d020" stroke="none" stroke-width="0" />
<circle cx="273.80" cy="292.20" r="2.00" fill="#4a409e" stroke="none" stroke-width="0" />
<circle cx="274.30" cy="296.52" r="1.40" fill="#fbb030" stroke="none" stroke-width="0" />
<circle cx="275.40" cy="300.84" r="2.60" fill="#4a409e" stroke="none" stroke-width="0" />
<circle cx="275.50" cy="305.17" r="1.50" fill="#4a409e" stroke="none" stroke-width="0" />
<circle cx="279.60" cy="309.49" r="0.70" fill="#f5d020" stroke="none" stroke-width="0" />
<circle cx="280.60" cy="313.81" r="1.90" fill="#4a409e" stroke="none" stroke-width="0" />
<circle cx="284.30" cy="318.13" r="0.80" fill="#f89540" stroke="none" stroke-width="0" />
<circle cx="284.70" cy="322.46" r="0.80" fill="#c03a9a" stroke="none" stroke-width="0" />
<circle cx="284.70" cy="326.78" r="0.90" fill="#e8604a" stroke="none" stroke-width="0" />
<circle cx="284.90" cy="331.10" r="2.20" fill="#4a409e" stroke="none" stroke-width="0" />
<circle cx="285.00" cy="335.42" r="1.60" fill="#4a409e" stroke="none" stroke-width="0" />
<circle cx="285.80" cy="339.75" r="2.20" fill="#4a409e" stroke="none" stroke-width="0" />
<circle cx="286.00" cy="344.07" r="0.80" fill="#fbb030" stroke="none" stroke-width="0" />
<circle cx="286.70" cy="348.39" r="2.80" fill="#4a409e" stroke="none" stroke-width="0" />
<circle cx="287.70" cy="352.72" r="1.50" fill="#4a409e" stroke="none" stroke-width="0" />
<circle cx="288.90" cy="357.04" r="1.00" fill="#4a409e" stroke="none" stroke-width="0" />
<circle cx="289.80" cy="361.36" r="1.00" fill="#f5d020" stroke="none" stroke-width="0" />
<circle cx="290.50" cy="365.68" r="0.80" fill="#e8604a" stroke="none" stroke-width="0" />
<circle cx="290.90" cy="370.01" r="0.90" fill="#f89540" stroke="none" stroke-width="0" />
<circle cx="291.20" cy="374.33" r="0.90" fill="#c03a9a" stroke="none" stroke-width="0" />
<circle cx="291.40" cy="378.65" r="2.60" fill="#4a409e" stroke="none" stroke-width="0" />
<circle cx="292.90" cy="382.97" r="0.80" fill="#4a409e" stroke="none" stroke-width="0" />
<circle cx="296.20" cy="387.30" r="0.90" fill="#4a409e" stroke="none" stroke-width="0" />
<circle cx="298.00" cy="391.62" r="1.00" fill="#4a409e" stroke="none" stroke-width="0" />
<circle cx="298.10" cy="395.94" r="0.80" fill="#4a409e" stroke="none" stroke-width="0" />
<circle cx="301.00" cy="400.26" r="1.00" fill="#4a409e" stroke="none" stroke-width="0" />
<circle cx="301.40" cy="404.59" r="1.10" fill="#4a409e" stroke="none" stroke-width="0" />
<circle cx="304.00" cy="408.91" r="2.30" fill="#4a409e" stroke="none" stroke-width="0" />
<circle cx="312.20" cy="413.23" r="2.60" fill="#4a409e" stroke="none" stroke-width="0" />
<circle cx="315.00" cy="417.55" r="2.40" fill="#4a409e" stroke="none" stroke-width="0" />
<circle cx="315.40" cy="421.88" r="1.00" fill="#4a409e" stroke="none" stroke-width="0" />
<circle cx="389.30" cy="426.20" r="2.00" fill="#4a409e" stroke="none" stroke-width="0" />
<text x="407.90" y="200.60" font-size="7.3" text-anchor="start" fill="#1a1a1a" stroke="#1a1a1a" stroke-width="0.146" >log10(|Flux diff.| + 1)</text>
<circle cx="411.70" cy="208.90" r="1.75" fill="#333" stroke="none" stroke-width="0" />
<text x="417.30" y="211.40" font-size="6.9" text-anchor="start" fill="#1a1a1a" >0.5</text>
<circle cx="411.70" cy="215.10" r="2.25" fill="#333" stroke="none" stroke-width="0" />
<text x="417.30" y="217.60" font-size="6.9" text-anchor="start" fill="#1a1a1a" >1.0</text>
<circle cx="411.70" cy="221.50" r="2.60" fill="#333" stroke="none" stroke-width="0" />
<text x="417.30" y="224.00" font-size="6.9" text-anchor="start" fill="#1a1a1a" >1.5</text>
<circle cx="411.70" cy="229.40" r="3.10" fill="#333" stroke="none" stroke-width="0" />
<text x="417.30" y="231.90" font-size="6.9" text-anchor="start" fill="#1a1a1a" >2.0</text>
<text x="408.00" y="245.20" font-size="7.3" text-anchor="start" fill="#1a1a1a" stroke="#1a1a1a" stroke-width="0.146" >-log10(p_adj)</text>
<defs><linearGradient id="plasma" x1="0" y1="0" x2="0" y2="1"><stop offset="0" stop-color="#0d0887"/><stop offset="0.1" stop-color="#41049d"/><stop offset="0.2" stop-color="#6a00a8"/><stop offset="0.3" stop-color="#8f0da4"/><stop offset="0.4" stop-color="#b12a90"/><stop offset="0.5" stop-color="#cc4778"/><stop offset="0.6" stop-color="#e16462"/><stop offset="0.7" stop-color="#f2844b"/><stop offset="0.8" stop-color="#fca636"/><stop offset="0.9" stop-color="#fcce25"/><stop offset="1" stop-color="#f0f921"/></linearGradient></defs>
<rect x="408.00" y="250.00" width="6.30" height="31.70" fill="url(#plasma)" stroke="none" stroke-width="1" />
<text x="415.90" y="252.65" font-size="6.9" text-anchor="start" fill="#1a1a1a" >20</text>
<text x="415.90" y="260.55" font-size="6.9" text-anchor="start" fill="#1a1a1a" >15</text>
<text x="415.90" y="268.45" font-size="6.9" text-anchor="start" fill="#1a1a1a" >10</text>
<text x="415.90" y="276.35" font-size="6.9" text-anchor="start" fill="#1a1a1a" >5</text>
<text x="415.90" y="284.15" font-size="6.9" text-anchor="start" fill="#1a1a1a" >0</text>
<text x="478.70" y="6.10" font-size="9.3" text-anchor="start" fill="#1a1a1a" stroke="#1a1a1a" stroke-width="0.186" >c</text>
<g transform="translate(497.6,31)"><ellipse cx="0" cy="0.5" rx="2.2" ry="4.2" fill="#c8702a"/><circle cx="0" cy="-4.5" r="1.6" fill="#b05a20"/><path d="M-1.5,-1 L-6,-3.5 M1.5,-1 L6,-3.5 M-1.5,1 L-6.5,1.5 M1.5,1 L6.5,1.5 M-1.5,3 L-5,5.5 M1.5,3 L5,5.5" stroke="#b06830" stroke-width="0.5"/><ellipse cx="-3" cy="1.5" rx="1.8" ry="3.8" fill="#e8c8a0" opacity="0.6" transform="rotate(20 -3 1.5)"/><ellipse cx="3" cy="1.5" rx="1.8" ry="3.8" fill="#e8c8a0" opacity="0.6" transform="rotate(-20 3 1.5)"/></g>
<text x="488.00" y="44.51" font-size="4.78" text-anchor="start" font-weight="bold" fill="#1a1a1a" stroke="#1a1a1a" stroke-width="0.22" >3 days old</text>
<text x="488" y="49.91" font-size="4.78" font-weight="bold" fill="#1a1a1a" stroke="#1a1a1a" stroke-width="0.22">w<tspan font-size="2.4" font-weight="normal" stroke="none" fill="#555" dy="-1.9">1118</tspan><tspan dy="1.9" dx="0.3"> male</tspan></text>
<text x="488.00" y="56.01" font-size="4.78" text-anchor="start" font-weight="bold" fill="#1a1a1a" stroke="#1a1a1a" stroke-width="0.22" >flies</text>
<path d="M508.5,38.2 L513.9,38.2 M513.9,24 L513.9,52.3 M513.9,24 L518,24 M513.9,52.3 L518,52.3" fill="none" stroke="#222" stroke-width="0.8"/>
<path d="M517,22.6 L520.2,24 L517,25.4 Z M517,50.9 L520.2,52.3 L517,53.7 Z" fill="#222"/>
<rect x="524.2" y="12.8" width="4.6" height="23.999999999999996" rx="1.2" fill="#f2ede4" stroke="#d8d0c0" stroke-width="0.3"/>
<rect x="524.2" y="12.8" width="4.6" height="1.4" fill="#c8c0b0"/>
<circle cx="525.3" cy="16.8" r="0.3" fill="#e0a060"/>
<circle cx="526.4" cy="20.3" r="0.3" fill="#e0a060"/>
<circle cx="527.5" cy="23.8" r="0.3" fill="#e0a060"/>
<circle cx="525.3" cy="27.3" r="0.3" fill="#e0a060"/>
<circle cx="526.4" cy="30.8" r="0.3" fill="#e0a060"/>
<path d="M524.2,33.199999999999996 L528.8,33.199999999999996 L528.8,36.0 Q528.8,36.8 528,36.8 L525,36.8 Q524.2,36.8 524.2,36.0 Z" fill="#f0a020"/>
<rect x="524.2" y="41.6" width="4.6" height="18.9" rx="1.2" fill="#f2ede4" stroke="#d8d0c0" stroke-width="0.3"/>
<rect x="524.2" y="41.6" width="4.6" height="1.4" fill="#c8c0b0"/>
<circle cx="525.3" cy="45.6" r="0.3" fill="#e0a060"/>
<circle cx="526.4" cy="49.1" r="0.3" fill="#e0a060"/>
<circle cx="527.5" cy="52.6" r="0.3" fill="#e0a060"/>
<circle cx="525.3" cy="56.1" r="0.3" fill="#e0a060"/>
<circle cx="526.4" cy="59.6" r="0.3" fill="#e0a060"/>
<text x="532.10" y="21.01" font-size="4.78" text-anchor="start" font-weight="bold" fill="#1a1a1a" stroke="#1a1a1a" stroke-width="0.22" >High sugar diet</text>
<text x="532.10" y="26.81" font-size="4.78" text-anchor="start" fill="#222" >(1 M sucrose)</text>
<text x="532.10" y="49.91" font-size="4.78" text-anchor="start" font-weight="bold" fill="#1a1a1a" stroke="#1a1a1a" stroke-width="0.22" >Normal sugar diet</text>
<text x="532.10" y="56.01" font-size="4.78" text-anchor="start" fill="#222" >(3.26 M sucrose)</text>
<text x="584.60" y="19.06" font-size="5.2" text-anchor="start" fill="#222" >5 days</text>
<path d="M583,22.7 L590.7,22.7 L590.7,53.3 L583,53.3 M590.7,40.6 L597.5,40.6" fill="none" stroke="#222" stroke-width="0.8"/>
<path d="M597,39.2 L600.2,40.6 L597,42 Z" fill="#222"/>
<text x="601.90" y="38.00" font-size="4.74" text-anchor="start" font-weight="bold" fill="#1a1a1a" stroke="#1a1a1a" stroke-width="0.22" >Dissect</text>
<text x="601.90" y="43.40" font-size="4.74" text-anchor="start" font-weight="bold" fill="#1a1a1a" stroke="#1a1a1a" stroke-width="0.22" >thoracic</text>
<text x="601.90" y="49.50" font-size="4.74" text-anchor="start" font-weight="bold" fill="#1a1a1a" stroke="#1a1a1a" stroke-width="0.22" >muscles</text>
<path d="M622,40.6 L626.5,40.6" stroke="#222" stroke-width="0.8"/><path d="M626,39.2 L629.2,40.6 L626,42 Z" fill="#222"/>
<g><path d="M633.2,31.2 L640.8,30.6 L641.4,32 L641,45.4 L633.6,45.6 Z" fill="#2b7c99"/><path d="M640.6,30.8 L643.6,30.4 L642.6,36 L643.6,40 L642.8,45.4 L640.8,45.4 L641.6,40 L640.6,36 Z" fill="#e6e2d6"/><path d="M643.2,30 L652.8,29.6 L653.8,30.6 L653.8,46.2 L643.2,46.6 Z" fill="#2f7f9c"/><path d="M653.6,30.4 L656,31.8 L656,45.4 L653.6,46.4 Z" fill="#ddd8cc"/><rect x="645.1" y="35.1" width="4.4" height="4.4" fill="#1f5f78"/><rect x="644.9" y="42.6" width="4.6" height="1.1" fill="#1a4a5e"/><circle cx="637.6" cy="39.5" r="1.8" fill="#3a4a55"/><circle cx="637.6" cy="39.5" r="0.8" fill="#6a6a6a"/><rect x="634.5" y="33.5" width="1.5" height="1.5" fill="#1f5f78"/><rect x="639" y="33.5" width="1.2" height="2.5" fill="#1f5f78"/></g>
<text x="625.00" y="54.91" font-size="4.78" text-anchor="start" font-weight="bold" fill="#1a1a1a" stroke="#1a1a1a" stroke-width="0.22" >LC-MS/MS analysis</text>
<text x="480.40" y="98.90" font-size="9.3" text-anchor="start" fill="#1a1a1a" stroke="#1a1a1a" stroke-width="0.186" >d</text>
<line x1="512.60" y1="114.60" x2="512.60" y2="220.40" stroke="#ececec" stroke-width="0.4" />
<line x1="525.40" y1="114.60" x2="525.40" y2="220.40" stroke="#e6e6e6" stroke-width="0.4" />
<line x1="538.20" y1="114.60" x2="538.20" y2="220.40" stroke="#ececec" stroke-width="0.4" />
<line x1="551.00" y1="114.60" x2="551.00" y2="220.40" stroke="#e6e6e6" stroke-width="0.4" />
<line x1="563.80" y1="114.60" x2="563.80" y2="220.40" stroke="#ececec" stroke-width="0.4" />
<line x1="589.40" y1="114.60" x2="589.40" y2="220.40" stroke="#ececec" stroke-width="0.4" />
<line x1="602.20" y1="114.60" x2="602.20" y2="220.40" stroke="#e6e6e6" stroke-width="0.4" />
<line x1="615.00" y1="114.60" x2="615.00" y2="220.40" stroke="#ececec" stroke-width="0.4" />
<line x1="627.80" y1="114.60" x2="627.80" y2="220.40" stroke="#e6e6e6" stroke-width="0.4" />
<line x1="507.80" y1="209.30" x2="637.70" y2="209.30" stroke="#e6e6e6" stroke-width="0.4" />
<line x1="507.80" y1="191.95" x2="637.70" y2="191.95" stroke="#ececec" stroke-width="0.4" />
<line x1="507.80" y1="157.25" x2="637.70" y2="157.25" stroke="#ececec" stroke-width="0.4" />
<line x1="507.80" y1="139.90" x2="637.70" y2="139.90" stroke="#e6e6e6" stroke-width="0.4" />
<line x1="507.80" y1="122.55" x2="637.70" y2="122.55" stroke="#ececec" stroke-width="0.4" />
<line x1="576.60" y1="114.60" x2="576.60" y2="220.40" stroke="#333" stroke-width="0.6" stroke-dasharray="1,0.9"/>
<line x1="507.80" y1="174.60" x2="637.70" y2="174.60" stroke="#333" stroke-width="0.6" stroke-dasharray="1,0.9"/>
<ellipse cx="533" cy="177.7" rx="8.2" ry="32.5" transform="rotate(-28 533 177.7)" fill="#e6e6e6" stroke="#333" stroke-width="0.55"/>
<ellipse cx="620.6" cy="171.5" rx="11.3" ry="45" transform="rotate(-3 620.6 171.5)" fill="#fbe0e0" stroke="#d63030" stroke-width="0.55"/>
<path d="M514.7,138.4 L516.8,142.0 L512.6,142.0 Z" fill="#333"/>
<path d="M537.5,184.8 L539.6,188.4 L535.4,188.4 Z" fill="#333"/>
<path d="M531.5,190.7 L533.6,194.3 L529.4,194.3 Z" fill="#333"/>
<path d="M547.3,186.2 L549.4,189.8 L545.2,189.8 Z" fill="#333"/>
<circle cx="620.00" cy="118.90" r="1.75" fill="#d42020" stroke="none" stroke-width="0" />
<circle cx="608.70" cy="181.20" r="1.75" fill="#d42020" stroke="none" stroke-width="0" />
<circle cx="623.10" cy="181.80" r="1.75" fill="#d42020" stroke="none" stroke-width="0" />
<circle cx="630.50" cy="204.20" r="1.75" fill="#d42020" stroke="none" stroke-width="0" />
<line x1="506.80" y1="139.90" x2="507.80" y2="139.90" stroke="#444" stroke-width="0.35" />
<text x="506.20" y="141.10" font-size="3.4" text-anchor="end" fill="#555" >10</text>
<line x1="506.80" y1="174.60" x2="507.80" y2="174.60" stroke="#444" stroke-width="0.35" />
<text x="506.20" y="175.80" font-size="3.4" text-anchor="end" fill="#555" >0</text>
<line x1="506.80" y1="209.30" x2="507.80" y2="209.30" stroke="#444" stroke-width="0.35" />
<text x="506.20" y="210.50" font-size="3.4" text-anchor="end" fill="#555" >-10</text>
<line x1="525.40" y1="220.40" x2="525.40" y2="221.40" stroke="#444" stroke-width="0.35" />
<text x="525.40" y="225.50" font-size="3.4" text-anchor="middle" fill="#555" >-10</text>
<line x1="551.00" y1="220.40" x2="551.00" y2="221.40" stroke="#444" stroke-width="0.35" />
<text x="551.00" y="225.50" font-size="3.4" text-anchor="middle" fill="#555" >-5</text>
<line x1="576.60" y1="220.40" x2="576.60" y2="221.40" stroke="#444" stroke-width="0.35" />
<text x="576.60" y="225.50" font-size="3.4" text-anchor="middle" fill="#555" >0</text>
<line x1="602.20" y1="220.40" x2="602.20" y2="221.40" stroke="#444" stroke-width="0.35" />
<text x="602.20" y="225.50" font-size="3.4" text-anchor="middle" fill="#555" >5</text>
<line x1="627.80" y1="220.40" x2="627.80" y2="221.40" stroke="#444" stroke-width="0.35" />
<text x="627.80" y="225.50" font-size="3.4" text-anchor="middle" fill="#555" >10</text>
<text x="573.40" y="229.80" font-size="3.82" text-anchor="middle" fill="#222" >PC1 (30.6%)</text>
<text x="0" y="0" font-size="3.82" text-anchor="middle" fill="#222" transform="translate(500.8,166.8) rotate(-90)">PC2 (24.3%)</text>
<text x="642.50" y="159.70" font-size="3.83" text-anchor="start" fill="#222" >Condition</text>
<rect x="642.60" y="162.60" width="7.60" height="7.20" fill="#fbe1e1" stroke="#d33" stroke-width="0.4" />
<circle cx="646.40" cy="166.20" r="1.60" fill="#d42020" stroke="none" stroke-width="0" />
<rect x="642.60" y="170.70" width="7.60" height="7.20" fill="#e8e8e8" stroke="#555" stroke-width="0.4" />
<path d="M646.4,172.4 L648.3,175.8 L644.5,175.8 Z" fill="#333"/>
<text x="652.70" y="167.50" font-size="3.5" text-anchor="start" fill="#222" >HSD</text>
<text x="652.70" y="175.60" font-size="3.5" text-anchor="start" fill="#222" >NSD</text>
<text x="477.40" y="256.00" font-size="9.3" text-anchor="start" fill="#1a1a1a" stroke="#1a1a1a" stroke-width="0.186" >e</text>
<circle cx="547.80" cy="288.60" r="1.85" fill="#cbc9c9" stroke="none" stroke-width="0" />
<circle cx="545.00" cy="315.10" r="1.85" fill="#cbc9c9" stroke="none" stroke-width="0" />
<circle cx="572.50" cy="316.30" r="1.85" fill="#cbc9c9" stroke="none" stroke-width="0" />
<circle cx="548.70" cy="322.80" r="1.85" fill="#cbc9c9" stroke="none" stroke-width="0" />
<circle cx="555.00" cy="325.60" r="1.85" fill="#cbc9c9" stroke="none" stroke-width="0" />
<circle cx="573.10" cy="335.30" r="1.85" fill="#cbc9c9" stroke="none" stroke-width="0" />
<circle cx="569.90" cy="340.70" r="1.85" fill="#cbc9c9" stroke="none" stroke-width="0" />
<circle cx="578.60" cy="346.90" r="1.85" fill="#cbc9c9" stroke="none" stroke-width="0" />
<circle cx="529.00" cy="362.80" r="1.85" fill="#cbc9c9" stroke="none" stroke-width="0" />
<circle cx="540.70" cy="371.60" r="1.85" fill="#cbc9c9" stroke="none" stroke-width="0" />
<circle cx="521.00" cy="387.40" r="1.85" fill="#cbc9c9" stroke="none" stroke-width="0" />
<circle cx="553.60" cy="343.50" r="1.85" fill="#cbc9c9" stroke="none" stroke-width="0" />
<circle cx="556.00" cy="344.50" r="1.85" fill="#cbc9c9" stroke="none" stroke-width="0" />
<circle cx="557.50" cy="346.00" r="1.85" fill="#cbc9c9" stroke="none" stroke-width="0" />
<circle cx="549.30" cy="347.90" r="1.85" fill="#cbc9c9" stroke="none" stroke-width="0" />
<circle cx="555.50" cy="350.50" r="1.85" fill="#cbc9c9" stroke="none" stroke-width="0" />
<circle cx="554.50" cy="353.10" r="1.85" fill="#cbc9c9" stroke="none" stroke-width="0" />
<circle cx="558.00" cy="354.00" r="1.85" fill="#cbc9c9" stroke="none" stroke-width="0" />
<circle cx="548.80" cy="354.00" r="1.85" fill="#cbc9c9" stroke="none" stroke-width="0" />
<circle cx="553.00" cy="357.50" r="1.85" fill="#cbc9c9" stroke="none" stroke-width="0" />
<circle cx="556.30" cy="361.90" r="1.85" fill="#cbc9c9" stroke="none" stroke-width="0" />
<circle cx="548.00" cy="361.00" r="1.85" fill="#cbc9c9" stroke="none" stroke-width="0" />
<circle cx="559.00" cy="363.00" r="1.85" fill="#cbc9c9" stroke="none" stroke-width="0" />
<circle cx="558.90" cy="368.90" r="1.85" fill="#cbc9c9" stroke="none" stroke-width="0" />
<circle cx="548.40" cy="367.10" r="1.85" fill="#cbc9c9" stroke="none" stroke-width="0" />
<circle cx="551.00" cy="369.80" r="1.85" fill="#cbc9c9" stroke="none" stroke-width="0" />
<circle cx="561.00" cy="366.00" r="1.85" fill="#cbc9c9" stroke="none" stroke-width="0" />
<circle cx="560.50" cy="371.00" r="1.85" fill="#cbc9c9" stroke="none" stroke-width="0" />
<circle cx="541.00" cy="371.50" r="1.85" fill="#cbc9c9" stroke="none" stroke-width="0" />
<circle cx="569.80" cy="347.90" r="1.85" fill="#cbc9c9" stroke="none" stroke-width="0" />
<circle cx="571.00" cy="350.50" r="1.85" fill="#cbc9c9" stroke="none" stroke-width="0" />
<circle cx="569.50" cy="355.00" r="1.85" fill="#cbc9c9" stroke="none" stroke-width="0" />
<circle cx="570.50" cy="358.00" r="1.85" fill="#cbc9c9" stroke="none" stroke-width="0" />
<circle cx="568.50" cy="359.30" r="1.85" fill="#cbc9c9" stroke="none" stroke-width="0" />
<circle cx="567.50" cy="363.00" r="1.85" fill="#cbc9c9" stroke="none" stroke-width="0" />
<circle cx="569.00" cy="364.50" r="1.85" fill="#cbc9c9" stroke="none" stroke-width="0" />
<circle cx="566.80" cy="366.30" r="1.85" fill="#cbc9c9" stroke="none" stroke-width="0" />
<circle cx="566.00" cy="369.50" r="1.85" fill="#cbc9c9" stroke="none" stroke-width="0" />
<circle cx="567.50" cy="371.00" r="1.85" fill="#cbc9c9" stroke="none" stroke-width="0" />
<circle cx="565.00" cy="375.00" r="1.85" fill="#cbc9c9" stroke="none" stroke-width="0" />
<circle cx="566.50" cy="377.00" r="1.85" fill="#cbc9c9" stroke="none" stroke-width="0" />
<circle cx="579.00" cy="355.80" r="1.85" fill="#cbc9c9" stroke="none" stroke-width="0" />
<circle cx="577.30" cy="360.10" r="1.85" fill="#cbc9c9" stroke="none" stroke-width="0" />
<circle cx="576.50" cy="362.00" r="1.85" fill="#cbc9c9" stroke="none" stroke-width="0" />
<circle cx="578.50" cy="365.00" r="1.85" fill="#cbc9c9" stroke="none" stroke-width="0" />
<circle cx="575.00" cy="369.50" r="1.85" fill="#cbc9c9" stroke="none" stroke-width="0" />
<circle cx="579.00" cy="373.30" r="1.85" fill="#cbc9c9" stroke="none" stroke-width="0" />
<circle cx="580.00" cy="378.50" r="1.85" fill="#cbc9c9" stroke="none" stroke-width="0" />
<circle cx="577.50" cy="382.00" r="1.85" fill="#cbc9c9" stroke="none" stroke-width="0" />
<circle cx="577.70" cy="388.20" r="1.85" fill="#cbc9c9" stroke="none" stroke-width="0" />
<circle cx="574.00" cy="369.00" r="1.85" fill="#cbc9c9" stroke="none" stroke-width="0" />
<circle cx="562.00" cy="374.00" r="1.85" fill="#cbc9c9" stroke="none" stroke-width="0" />
<circle cx="563.00" cy="378.00" r="1.85" fill="#cbc9c9" stroke="none" stroke-width="0" />
<circle cx="556.74" cy="378.54" r="1.85" fill="#cbc9c9" stroke="none" stroke-width="0" />
<circle cx="565.58" cy="376.70" r="1.85" fill="#cbc9c9" stroke="none" stroke-width="0" />
<circle cx="562.47" cy="383.59" r="1.85" fill="#cbc9c9" stroke="none" stroke-width="0" />
<circle cx="549.57" cy="386.92" r="1.85" fill="#cbc9c9" stroke="none" stroke-width="0" />
<circle cx="559.46" cy="394.43" r="1.85" fill="#cbc9c9" stroke="none" stroke-width="0" />
<circle cx="551.34" cy="380.25" r="1.85" fill="#cbc9c9" stroke="none" stroke-width="0" />
<circle cx="564.94" cy="397.27" r="1.85" fill="#cbc9c9" stroke="none" stroke-width="0" />
<circle cx="563.58" cy="384.32" r="1.85" fill="#cbc9c9" stroke="none" stroke-width="0" />
<circle cx="571.18" cy="381.81" r="1.85" fill="#cbc9c9" stroke="none" stroke-width="0" />
<circle cx="551.89" cy="377.77" r="1.85" fill="#cbc9c9" stroke="none" stroke-width="0" />
<circle cx="556.33" cy="394.18" r="1.85" fill="#cbc9c9" stroke="none" stroke-width="0" />
<circle cx="552.88" cy="388.67" r="1.85" fill="#cbc9c9" stroke="none" stroke-width="0" />
<circle cx="565.25" cy="383.75" r="1.85" fill="#cbc9c9" stroke="none" stroke-width="0" />
<circle cx="562.79" cy="376.48" r="1.85" fill="#cbc9c9" stroke="none" stroke-width="0" />
<circle cx="566.37" cy="385.05" r="1.85" fill="#cbc9c9" stroke="none" stroke-width="0" />
<circle cx="556.48" cy="388.76" r="1.85" fill="#cbc9c9" stroke="none" stroke-width="0" />
<circle cx="560.24" cy="382.04" r="1.85" fill="#cbc9c9" stroke="none" stroke-width="0" />
<circle cx="569.45" cy="391.43" r="1.85" fill="#cbc9c9" stroke="none" stroke-width="0" />
<circle cx="554.59" cy="388.50" r="1.85" fill="#cbc9c9" stroke="none" stroke-width="0" />
<circle cx="562.18" cy="395.57" r="1.85" fill="#cbc9c9" stroke="none" stroke-width="0" />
<circle cx="567.70" cy="381.77" r="1.85" fill="#cbc9c9" stroke="none" stroke-width="0" />
<circle cx="559.29" cy="392.79" r="1.85" fill="#cbc9c9" stroke="none" stroke-width="0" />
<circle cx="552.10" cy="386.49" r="1.85" fill="#cbc9c9" stroke="none" stroke-width="0" />
<circle cx="568.64" cy="388.47" r="1.85" fill="#cbc9c9" stroke="none" stroke-width="0" />
<circle cx="571.64" cy="382.37" r="1.85" fill="#cbc9c9" stroke="none" stroke-width="0" />
<circle cx="566.77" cy="388.97" r="1.85" fill="#cbc9c9" stroke="none" stroke-width="0" />
<circle cx="563.66" cy="385.72" r="1.85" fill="#cbc9c9" stroke="none" stroke-width="0" />
<circle cx="560.80" cy="390.61" r="1.85" fill="#cbc9c9" stroke="none" stroke-width="0" />
<circle cx="565.47" cy="398.34" r="1.85" fill="#cbc9c9" stroke="none" stroke-width="0" />
<circle cx="570.19" cy="381.69" r="1.85" fill="#cbc9c9" stroke="none" stroke-width="0" />
<circle cx="558.42" cy="390.71" r="1.85" fill="#cbc9c9" stroke="none" stroke-width="0" />
<circle cx="552.54" cy="377.75" r="1.85" fill="#cbc9c9" stroke="none" stroke-width="0" />
<circle cx="551.49" cy="380.82" r="1.85" fill="#cbc9c9" stroke="none" stroke-width="0" />
<circle cx="558.56" cy="395.48" r="1.85" fill="#cbc9c9" stroke="none" stroke-width="0" />
<circle cx="550.18" cy="385.56" r="1.85" fill="#cbc9c9" stroke="none" stroke-width="0" />
<circle cx="562.83" cy="395.76" r="1.85" fill="#cbc9c9" stroke="none" stroke-width="0" />
<circle cx="570.12" cy="395.30" r="1.85" fill="#cbc9c9" stroke="none" stroke-width="0" />
<circle cx="555.52" cy="384.76" r="1.85" fill="#cbc9c9" stroke="none" stroke-width="0" />
<circle cx="557.69" cy="395.78" r="1.85" fill="#cbc9c9" stroke="none" stroke-width="0" />
<circle cx="552.76" cy="380.45" r="1.85" fill="#cbc9c9" stroke="none" stroke-width="0" />
<circle cx="554.30" cy="386.40" r="1.85" fill="#cbc9c9" stroke="none" stroke-width="0" />
<circle cx="563.91" cy="381.17" r="1.85" fill="#cbc9c9" stroke="none" stroke-width="0" />
<circle cx="557.97" cy="388.31" r="1.85" fill="#cbc9c9" stroke="none" stroke-width="0" />
<circle cx="573.73" cy="391.23" r="1.85" fill="#cbc9c9" stroke="none" stroke-width="0" />
<circle cx="561.92" cy="389.51" r="1.85" fill="#cbc9c9" stroke="none" stroke-width="0" />
<circle cx="566.26" cy="376.27" r="1.85" fill="#cbc9c9" stroke="none" stroke-width="0" />
<circle cx="572.29" cy="393.33" r="1.85" fill="#cbc9c9" stroke="none" stroke-width="0" />
<circle cx="571.61" cy="393.75" r="1.85" fill="#cbc9c9" stroke="none" stroke-width="0" />
<circle cx="558.59" cy="384.38" r="1.85" fill="#cbc9c9" stroke="none" stroke-width="0" />
<circle cx="550.80" cy="389.91" r="1.85" fill="#cbc9c9" stroke="none" stroke-width="0" />
<circle cx="553.64" cy="378.81" r="1.85" fill="#cbc9c9" stroke="none" stroke-width="0" />
<circle cx="557.18" cy="376.24" r="1.85" fill="#cbc9c9" stroke="none" stroke-width="0" />
<circle cx="550.74" cy="383.54" r="1.85" fill="#cbc9c9" stroke="none" stroke-width="0" />
<circle cx="564.58" cy="378.49" r="1.85" fill="#cbc9c9" stroke="none" stroke-width="0" />
<circle cx="554.81" cy="383.16" r="1.85" fill="#cbc9c9" stroke="none" stroke-width="0" />
<circle cx="557.83" cy="377.89" r="1.85" fill="#cbc9c9" stroke="none" stroke-width="0" />
<circle cx="560.58" cy="386.37" r="1.85" fill="#cbc9c9" stroke="none" stroke-width="0" />
<circle cx="557.25" cy="381.22" r="1.85" fill="#cbc9c9" stroke="none" stroke-width="0" />
<circle cx="570.38" cy="378.79" r="1.85" fill="#cbc9c9" stroke="none" stroke-width="0" />
<circle cx="562.26" cy="378.45" r="1.85" fill="#cbc9c9" stroke="none" stroke-width="0" />
<circle cx="562.67" cy="375.64" r="1.85" fill="#cbc9c9" stroke="none" stroke-width="0" />
<circle cx="562.26" cy="397.99" r="1.85" fill="#cbc9c9" stroke="none" stroke-width="0" />
<circle cx="571.31" cy="391.36" r="1.85" fill="#cbc9c9" stroke="none" stroke-width="0" />
<circle cx="555.05" cy="383.62" r="1.85" fill="#cbc9c9" stroke="none" stroke-width="0" />
<circle cx="552.51" cy="393.14" r="1.85" fill="#cbc9c9" stroke="none" stroke-width="0" />
<circle cx="562.38" cy="393.31" r="1.85" fill="#cbc9c9" stroke="none" stroke-width="0" />
<circle cx="556.90" cy="380.24" r="1.85" fill="#cbc9c9" stroke="none" stroke-width="0" />
<circle cx="571.02" cy="393.94" r="1.85" fill="#cbc9c9" stroke="none" stroke-width="0" />
<circle cx="570.09" cy="392.39" r="1.85" fill="#cbc9c9" stroke="none" stroke-width="0" />
<circle cx="554.12" cy="387.16" r="1.85" fill="#cbc9c9" stroke="none" stroke-width="0" />
<circle cx="557.60" cy="375.68" r="1.85" fill="#cbc9c9" stroke="none" stroke-width="0" />
<circle cx="555.00" cy="391.27" r="1.85" fill="#cbc9c9" stroke="none" stroke-width="0" />
<circle cx="573.83" cy="385.51" r="1.85" fill="#cbc9c9" stroke="none" stroke-width="0" />
<circle cx="553.95" cy="380.33" r="1.85" fill="#cbc9c9" stroke="none" stroke-width="0" />
<circle cx="553.31" cy="379.80" r="1.85" fill="#cbc9c9" stroke="none" stroke-width="0" />
<circle cx="564.85" cy="396.16" r="1.85" fill="#cbc9c9" stroke="none" stroke-width="0" />
<circle cx="570.69" cy="386.27" r="1.85" fill="#cbc9c9" stroke="none" stroke-width="0" />
<circle cx="565.63" cy="393.79" r="1.85" fill="#cbc9c9" stroke="none" stroke-width="0" />
<circle cx="550.29" cy="390.52" r="1.85" fill="#cbc9c9" stroke="none" stroke-width="0" />
<circle cx="572.56" cy="393.38" r="1.85" fill="#cbc9c9" stroke="none" stroke-width="0" />
<circle cx="568.25" cy="386.23" r="1.85" fill="#cbc9c9" stroke="none" stroke-width="0" />
<circle cx="552.82" cy="393.54" r="1.85" fill="#cbc9c9" stroke="none" stroke-width="0" />
<circle cx="556.98" cy="393.82" r="1.85" fill="#cbc9c9" stroke="none" stroke-width="0" />
<circle cx="558.84" cy="397.25" r="1.85" fill="#cbc9c9" stroke="none" stroke-width="0" />
<circle cx="567.57" cy="379.00" r="1.85" fill="#cbc9c9" stroke="none" stroke-width="0" />
<circle cx="551.43" cy="378.55" r="1.85" fill="#cbc9c9" stroke="none" stroke-width="0" />
<circle cx="572.43" cy="393.95" r="1.85" fill="#cbc9c9" stroke="none" stroke-width="0" />
<circle cx="557.46" cy="387.89" r="1.85" fill="#cbc9c9" stroke="none" stroke-width="0" />
<circle cx="551.54" cy="375.33" r="1.85" fill="#cbc9c9" stroke="none" stroke-width="0" />
<circle cx="562.22" cy="396.94" r="1.85" fill="#cbc9c9" stroke="none" stroke-width="0" />
<circle cx="559.71" cy="395.49" r="1.85" fill="#cbc9c9" stroke="none" stroke-width="0" />
<circle cx="570.31" cy="379.96" r="1.85" fill="#cbc9c9" stroke="none" stroke-width="0" />
<circle cx="554.80" cy="381.88" r="1.85" fill="#cbc9c9" stroke="none" stroke-width="0" />
<circle cx="554.49" cy="388.78" r="1.85" fill="#cbc9c9" stroke="none" stroke-width="0" />
<circle cx="555.00" cy="384.85" r="1.85" fill="#cbc9c9" stroke="none" stroke-width="0" />
<circle cx="557.55" cy="385.77" r="1.85" fill="#cbc9c9" stroke="none" stroke-width="0" />
<circle cx="563.75" cy="396.25" r="1.85" fill="#cbc9c9" stroke="none" stroke-width="0" />
<circle cx="559.36" cy="396.57" r="1.85" fill="#cbc9c9" stroke="none" stroke-width="0" />
<circle cx="561.54" cy="387.50" r="1.85" fill="#cbc9c9" stroke="none" stroke-width="0" />
<circle cx="562.13" cy="375.44" r="1.85" fill="#cbc9c9" stroke="none" stroke-width="0" />
<circle cx="559.88" cy="379.30" r="1.85" fill="#cbc9c9" stroke="none" stroke-width="0" />
<circle cx="552.65" cy="386.13" r="1.85" fill="#cbc9c9" stroke="none" stroke-width="0" />
<circle cx="567.58" cy="388.08" r="1.85" fill="#cbc9c9" stroke="none" stroke-width="0" />
<circle cx="556.80" cy="387.18" r="1.85" fill="#cbc9c9" stroke="none" stroke-width="0" />
<circle cx="563.00" cy="393.43" r="1.85" fill="#cbc9c9" stroke="none" stroke-width="0" />
<circle cx="550.86" cy="388.17" r="1.85" fill="#cbc9c9" stroke="none" stroke-width="0" />
<circle cx="554.71" cy="381.51" r="1.85" fill="#cbc9c9" stroke="none" stroke-width="0" />
<circle cx="568.85" cy="386.93" r="1.85" fill="#cbc9c9" stroke="none" stroke-width="0" />
<circle cx="563.17" cy="392.86" r="1.85" fill="#cbc9c9" stroke="none" stroke-width="0" />
<circle cx="572.64" cy="385.42" r="1.85" fill="#cbc9c9" stroke="none" stroke-width="0" />
<circle cx="564.54" cy="386.88" r="1.85" fill="#cbc9c9" stroke="none" stroke-width="0" />
<circle cx="561.83" cy="391.28" r="1.85" fill="#cbc9c9" stroke="none" stroke-width="0" />
<circle cx="560.21" cy="387.53" r="1.85" fill="#cbc9c9" stroke="none" stroke-width="0" />
<circle cx="560.91" cy="397.13" r="1.85" fill="#cbc9c9" stroke="none" stroke-width="0" />
<circle cx="566.88" cy="395.60" r="1.85" fill="#cbc9c9" stroke="none" stroke-width="0" />
<circle cx="563.11" cy="397.17" r="1.85" fill="#cbc9c9" stroke="none" stroke-width="0" />
<circle cx="570.68" cy="378.22" r="1.85" fill="#cbc9c9" stroke="none" stroke-width="0" />
<circle cx="551.28" cy="385.39" r="1.85" fill="#cbc9c9" stroke="none" stroke-width="0" />
<circle cx="549.96" cy="380.66" r="1.85" fill="#cbc9c9" stroke="none" stroke-width="0" />
<circle cx="549.97" cy="390.73" r="1.85" fill="#cbc9c9" stroke="none" stroke-width="0" />
<circle cx="569.17" cy="396.08" r="1.85" fill="#cbc9c9" stroke="none" stroke-width="0" />
<circle cx="552.17" cy="391.83" r="1.85" fill="#cbc9c9" stroke="none" stroke-width="0" />
<circle cx="565.83" cy="378.36" r="1.85" fill="#cbc9c9" stroke="none" stroke-width="0" />
<circle cx="558.75" cy="386.45" r="1.85" fill="#cbc9c9" stroke="none" stroke-width="0" />
<circle cx="552.36" cy="385.14" r="1.85" fill="#cbc9c9" stroke="none" stroke-width="0" />
<circle cx="561.92" cy="382.97" r="1.85" fill="#cbc9c9" stroke="none" stroke-width="0" />
<circle cx="553.29" cy="382.49" r="1.85" fill="#cbc9c9" stroke="none" stroke-width="0" />
<circle cx="567.50" cy="375.46" r="1.85" fill="#cbc9c9" stroke="none" stroke-width="0" />
<circle cx="562.96" cy="385.35" r="1.85" fill="#cbc9c9" stroke="none" stroke-width="0" />
<circle cx="564.85" cy="387.04" r="1.85" fill="#cbc9c9" stroke="none" stroke-width="0" />
<circle cx="550.83" cy="381.24" r="1.85" fill="#cbc9c9" stroke="none" stroke-width="0" />
<circle cx="555.30" cy="378.04" r="1.85" fill="#cbc9c9" stroke="none" stroke-width="0" />
<circle cx="559.40" cy="396.42" r="1.85" fill="#cbc9c9" stroke="none" stroke-width="0" />
<circle cx="570.11" cy="381.08" r="1.85" fill="#cbc9c9" stroke="none" stroke-width="0" />
<circle cx="563.41" cy="391.46" r="1.85" fill="#cbc9c9" stroke="none" stroke-width="0" />
<circle cx="566.58" cy="384.99" r="1.85" fill="#cbc9c9" stroke="none" stroke-width="0" />
<circle cx="565.13" cy="393.84" r="1.85" fill="#cbc9c9" stroke="none" stroke-width="0" />
<circle cx="560.25" cy="382.97" r="1.85" fill="#cbc9c9" stroke="none" stroke-width="0" />
<circle cx="562.93" cy="396.78" r="1.85" fill="#cbc9c9" stroke="none" stroke-width="0" />
<circle cx="555.23" cy="378.04" r="1.85" fill="#cbc9c9" stroke="none" stroke-width="0" />
<circle cx="555.30" cy="360.90" r="1.85" fill="#cbc9c9" stroke="none" stroke-width="0" />
<circle cx="552.13" cy="348.47" r="1.85" fill="#cbc9c9" stroke="none" stroke-width="0" />
<circle cx="554.36" cy="354.78" r="1.85" fill="#cbc9c9" stroke="none" stroke-width="0" />
<circle cx="555.24" cy="352.86" r="1.85" fill="#cbc9c9" stroke="none" stroke-width="0" />
<circle cx="553.08" cy="354.97" r="1.85" fill="#cbc9c9" stroke="none" stroke-width="0" />
<circle cx="554.80" cy="344.13" r="1.85" fill="#cbc9c9" stroke="none" stroke-width="0" />
<circle cx="554.51" cy="350.91" r="1.85" fill="#cbc9c9" stroke="none" stroke-width="0" />
<circle cx="555.80" cy="347.03" r="1.85" fill="#cbc9c9" stroke="none" stroke-width="0" />
<circle cx="558.21" cy="360.36" r="1.85" fill="#cbc9c9" stroke="none" stroke-width="0" />
<circle cx="557.52" cy="361.95" r="1.85" fill="#cbc9c9" stroke="none" stroke-width="0" />
<circle cx="557.28" cy="355.74" r="1.85" fill="#cbc9c9" stroke="none" stroke-width="0" />
<circle cx="556.82" cy="365.14" r="1.85" fill="#cbc9c9" stroke="none" stroke-width="0" />
<circle cx="551.90" cy="344.52" r="1.85" fill="#cbc9c9" stroke="none" stroke-width="0" />
<circle cx="556.67" cy="368.39" r="1.85" fill="#cbc9c9" stroke="none" stroke-width="0" />
<circle cx="555.78" cy="347.16" r="1.85" fill="#cbc9c9" stroke="none" stroke-width="0" />
<circle cx="556.39" cy="366.12" r="1.85" fill="#cbc9c9" stroke="none" stroke-width="0" />
<circle cx="555.05" cy="352.93" r="1.85" fill="#cbc9c9" stroke="none" stroke-width="0" />
<circle cx="554.94" cy="359.80" r="1.85" fill="#cbc9c9" stroke="none" stroke-width="0" />
<circle cx="559.58" cy="376.54" r="1.85" fill="#cbc9c9" stroke="none" stroke-width="0" />
<circle cx="558.30" cy="376.53" r="1.85" fill="#cbc9c9" stroke="none" stroke-width="0" />
<circle cx="552.89" cy="343.49" r="1.85" fill="#cbc9c9" stroke="none" stroke-width="0" />
<circle cx="554.96" cy="360.85" r="1.85" fill="#cbc9c9" stroke="none" stroke-width="0" />
<circle cx="552.30" cy="342.85" r="1.85" fill="#cbc9c9" stroke="none" stroke-width="0" />
<circle cx="553.51" cy="356.33" r="1.85" fill="#cbc9c9" stroke="none" stroke-width="0" />
<circle cx="553.94" cy="354.17" r="1.85" fill="#cbc9c9" stroke="none" stroke-width="0" />
<circle cx="557.98" cy="362.07" r="1.85" fill="#cbc9c9" stroke="none" stroke-width="0" />
<circle cx="559.77" cy="367.98" r="1.85" fill="#cbc9c9" stroke="none" stroke-width="0" />
<circle cx="557.98" cy="354.05" r="1.85" fill="#cbc9c9" stroke="none" stroke-width="0" />
<circle cx="558.59" cy="367.57" r="1.85" fill="#cbc9c9" stroke="none" stroke-width="0" />
<circle cx="560.55" cy="372.57" r="1.85" fill="#cbc9c9" stroke="none" stroke-width="0" />
<circle cx="559.53" cy="368.10" r="1.85" fill="#cbc9c9" stroke="none" stroke-width="0" />
<circle cx="556.67" cy="362.24" r="1.85" fill="#cbc9c9" stroke="none" stroke-width="0" />
<circle cx="560.03" cy="371.43" r="1.85" fill="#cbc9c9" stroke="none" stroke-width="0" />
<circle cx="559.81" cy="374.69" r="1.85" fill="#cbc9c9" stroke="none" stroke-width="0" />
<circle cx="566.65" cy="354.16" r="1.85" fill="#cbc9c9" stroke="none" stroke-width="0" />
<circle cx="566.43" cy="359.49" r="1.85" fill="#cbc9c9" stroke="none" stroke-width="0" />
<circle cx="567.99" cy="365.01" r="1.85" fill="#cbc9c9" stroke="none" stroke-width="0" />
<circle cx="566.82" cy="367.43" r="1.85" fill="#cbc9c9" stroke="none" stroke-width="0" />
<circle cx="567.51" cy="371.94" r="1.85" fill="#cbc9c9" stroke="none" stroke-width="0" />
<circle cx="568.23" cy="363.19" r="1.85" fill="#cbc9c9" stroke="none" stroke-width="0" />
<circle cx="565.49" cy="369.25" r="1.85" fill="#cbc9c9" stroke="none" stroke-width="0" />
<circle cx="569.71" cy="355.38" r="1.85" fill="#cbc9c9" stroke="none" stroke-width="0" />
<circle cx="568.81" cy="370.18" r="1.85" fill="#cbc9c9" stroke="none" stroke-width="0" />
<circle cx="568.06" cy="359.84" r="1.85" fill="#cbc9c9" stroke="none" stroke-width="0" />
<circle cx="567.04" cy="371.29" r="1.85" fill="#cbc9c9" stroke="none" stroke-width="0" />
<circle cx="567.85" cy="349.83" r="1.85" fill="#cbc9c9" stroke="none" stroke-width="0" />
<circle cx="565.70" cy="370.43" r="1.85" fill="#cbc9c9" stroke="none" stroke-width="0" />
<circle cx="567.73" cy="347.91" r="1.85" fill="#cbc9c9" stroke="none" stroke-width="0" />
<circle cx="567.79" cy="368.51" r="1.85" fill="#cbc9c9" stroke="none" stroke-width="0" />
<circle cx="568.63" cy="356.66" r="1.85" fill="#cbc9c9" stroke="none" stroke-width="0" />
<circle cx="566.04" cy="362.78" r="1.85" fill="#cbc9c9" stroke="none" stroke-width="0" />
<circle cx="571.14" cy="354.85" r="1.85" fill="#cbc9c9" stroke="none" stroke-width="0" />
<circle cx="569.54" cy="349.16" r="1.85" fill="#cbc9c9" stroke="none" stroke-width="0" />
<circle cx="565.40" cy="376.58" r="1.85" fill="#cbc9c9" stroke="none" stroke-width="0" />
<circle cx="570.95" cy="353.72" r="1.85" fill="#cbc9c9" stroke="none" stroke-width="0" />
<circle cx="565.65" cy="365.49" r="1.85" fill="#cbc9c9" stroke="none" stroke-width="0" />
<circle cx="564.01" cy="377.22" r="1.85" fill="#cbc9c9" stroke="none" stroke-width="0" />
<circle cx="569.39" cy="363.67" r="1.85" fill="#cbc9c9" stroke="none" stroke-width="0" />
<circle cx="570.63" cy="354.91" r="1.85" fill="#cbc9c9" stroke="none" stroke-width="0" />
<circle cx="567.41" cy="348.73" r="1.85" fill="#cbc9c9" stroke="none" stroke-width="0" />
<circle cx="566.95" cy="360.80" r="1.85" fill="#cbc9c9" stroke="none" stroke-width="0" />
<circle cx="567.47" cy="359.00" r="1.85" fill="#cbc9c9" stroke="none" stroke-width="0" />
<circle cx="579.20" cy="355.74" r="1.85" fill="#cbc9c9" stroke="none" stroke-width="0" />
<circle cx="579.57" cy="359.63" r="1.85" fill="#cbc9c9" stroke="none" stroke-width="0" />
<circle cx="577.01" cy="386.30" r="1.85" fill="#cbc9c9" stroke="none" stroke-width="0" />
<circle cx="579.50" cy="368.93" r="1.85" fill="#cbc9c9" stroke="none" stroke-width="0" />
<circle cx="577.94" cy="367.18" r="1.85" fill="#cbc9c9" stroke="none" stroke-width="0" />
<circle cx="577.34" cy="357.36" r="1.85" fill="#cbc9c9" stroke="none" stroke-width="0" />
<circle cx="579.43" cy="364.50" r="1.85" fill="#cbc9c9" stroke="none" stroke-width="0" />
<circle cx="578.26" cy="363.68" r="1.85" fill="#cbc9c9" stroke="none" stroke-width="0" />
<line x1="491.40" y1="269.50" x2="491.40" y2="404.20" stroke="#222" stroke-width="0.6" />
<line x1="491.40" y1="404.20" x2="635.60" y2="404.20" stroke="#222" stroke-width="0.6" />
<line x1="490.30" y1="398.50" x2="491.40" y2="398.50" stroke="#222" stroke-width="0.4" />
<text x="489.60" y="400.40" font-size="5.3" text-anchor="end" fill="#555" >0</text>
<line x1="490.30" y1="374.83" x2="491.40" y2="374.83" stroke="#222" stroke-width="0.4" />
<text x="489.60" y="376.73" font-size="5.3" text-anchor="end" fill="#555" >1</text>
<line x1="490.30" y1="351.16" x2="491.40" y2="351.16" stroke="#222" stroke-width="0.4" />
<text x="489.60" y="353.06" font-size="5.3" text-anchor="end" fill="#555" >2</text>
<line x1="490.30" y1="327.49" x2="491.40" y2="327.49" stroke="#222" stroke-width="0.4" />
<text x="489.60" y="329.39" font-size="5.3" text-anchor="end" fill="#555" >3</text>
<line x1="490.30" y1="303.82" x2="491.40" y2="303.82" stroke="#222" stroke-width="0.4" />
<text x="489.60" y="305.72" font-size="5.3" text-anchor="end" fill="#555" >4</text>
<line x1="490.30" y1="280.15" x2="491.40" y2="280.15" stroke="#222" stroke-width="0.4" />
<text x="489.60" y="282.05" font-size="5.3" text-anchor="end" fill="#555" >5</text>
<line x1="497.80" y1="404.20" x2="497.80" y2="405.30" stroke="#222" stroke-width="0.4" />
<text x="497.80" y="411.00" font-size="5.9" text-anchor="middle" fill="#555" >-5.0</text>
<line x1="530.55" y1="404.20" x2="530.55" y2="405.30" stroke="#222" stroke-width="0.4" />
<text x="530.55" y="411.00" font-size="5.9" text-anchor="middle" fill="#555" >-2.5</text>
<line x1="563.30" y1="404.20" x2="563.30" y2="405.30" stroke="#222" stroke-width="0.4" />
<text x="563.30" y="411.00" font-size="5.9" text-anchor="middle" fill="#555" >0.0</text>
<line x1="596.05" y1="404.20" x2="596.05" y2="405.30" stroke="#222" stroke-width="0.4" />
<text x="596.05" y="411.00" font-size="5.9" text-anchor="middle" fill="#555" >2.5</text>
<line x1="628.80" y1="404.20" x2="628.80" y2="405.30" stroke="#222" stroke-width="0.4" />
<text x="628.80" y="411.00" font-size="5.9" text-anchor="middle" fill="#555" >5.0</text>
<text x="563.10" y="417.10" font-size="6.32" text-anchor="middle" fill="#222" >Log2 Fold Change</text>
<text x="0" y="0" font-size="6" text-anchor="middle" fill="#111" stroke="#111" stroke-width="0.12" transform="translate(482.4,336.5) rotate(-90)">-Log<tspan font-size="4" dy="1">10</tspan><tspan dy="-1">P-value</tspan></text>
<line x1="543.10" y1="269.50" x2="543.10" y2="404.20" stroke="#222" stroke-width="0.6" stroke-dasharray="1.3,0.9"/>
<line x1="582.50" y1="269.50" x2="582.50" y2="404.20" stroke="#222" stroke-width="0.6" stroke-dasharray="1.3,0.9"/>
<line x1="491.40" y1="351.20" x2="635.60" y2="351.20" stroke="#222" stroke-width="0.6" stroke-dasharray="1.3,0.9"/>
<line x1="531.80" y1="318.90" x2="531.80" y2="327.50" stroke="#333" stroke-width="0.45" />
<line x1="591.00" y1="292.90" x2="594.00" y2="296.50" stroke="#333" stroke-width="0.35" />
<circle cx="532.10" cy="275.50" r="1.80" fill="#5060c4" stroke="none" stroke-width="0" />
<circle cx="542.90" cy="277.30" r="1.80" fill="#5060c4" stroke="none" stroke-width="0" />
<circle cx="586.30" cy="280.90" r="1.80" fill="#e03a2e" stroke="none" stroke-width="0" />
<circle cx="591.00" cy="292.90" r="1.80" fill="#e03a2e" stroke="none" stroke-width="0" />
<circle cx="531.80" cy="318.90" r="1.80" fill="#5060c4" stroke="none" stroke-width="0" />
<circle cx="583.30" cy="344.70" r="1.80" fill="#e03a2e" stroke="none" stroke-width="0" />
<text x="493.50" y="274.96" font-size="8.0" text-anchor="start" fill="#111" stroke="#111" stroke-width="0.16" >acadesine</text>
<text x="495.60" y="286.66" font-size="8.0" text-anchor="start" fill="#111" stroke="#111" stroke-width="0.16" >2-Aminooctanoic acid</text>
<text x="588.70" y="286.06" font-size="8.0" text-anchor="start" fill="#111" stroke="#111" stroke-width="0.16" >1-Methyl-Histidine</text>
<text x="565.90" y="301.96" font-size="8.0" text-anchor="start" fill="#111" stroke="#111" stroke-width="0.16" >trehalose-sucrose</text>
<text x="494.40" y="334.86" font-size="8.0" text-anchor="start" fill="#111" stroke="#111" stroke-width="0.16" >acetoacetyl-CoA</text>
<text x="577.30" y="340.86" font-size="8.0" text-anchor="start" fill="#111" stroke="#111" stroke-width="0.16" >sorbitol</text>
<circle cx="644.00" cy="333.90" r="1.60" fill="#5060c4" stroke="none" stroke-width="0" />
<circle cx="644.00" cy="340.20" r="1.60" fill="#e03a2e" stroke="none" stroke-width="0" />
<text x="649.10" y="335.90" font-size="5.57" text-anchor="start" fill="#222" >Decreased</text>
<text x="649.10" y="342.20" font-size="5.57" text-anchor="start" fill="#222" >Increased</text>
<text x="6.00" y="465.70" font-size="9.3" text-anchor="start" fill="#1a1a1a" stroke="#1a1a1a" stroke-width="0.186" >f</text>
<text x="336.50" y="465.65" font-size="9.37" text-anchor="middle" font-weight="bold" fill="#111" stroke="#111" stroke-width="0.187" >Fructose metabolism (dme00051) / Sucrose metabolism (dme00050)</text>
<rect x="1.3" y="469.3" width="683.2" height="359.1" rx="34" ry="34" fill="none" stroke="#444" stroke-width="0.7"/>
<rect x="23.20" y="480.70" width="19.00" height="11.70" fill="none" stroke="#333" stroke-width="0.9" />
<rect x="23.20" y="497.10" width="19.00" height="11.20" fill="none" stroke="#3cb44b" stroke-width="0.9" />
<rect x="23.20" y="513.40" width="19.00" height="11.10" fill="none" stroke="#b84fd6" stroke-width="0.9" />
<text x="45.70" y="488.83" font-size="7.35" text-anchor="start" font-weight="bold" fill="#111" stroke="#111" stroke-width="0.147" >Metabolites</text>
<text x="45.70" y="506.23" font-size="7.35" text-anchor="start" font-weight="bold" fill="#111" stroke="#111" stroke-width="0.147" >Protein redox modification</text>
<text x="45.70" y="521.93" font-size="7.35" text-anchor="start" font-weight="bold" fill="#111" stroke="#111" stroke-width="0.147" >Fluxes</text>
<text x="62.85" y="549.90" font-size="5.3" text-anchor="middle" font-weight="bold" fill="#111" >trehalose/ sucrose</text>
<rect x="28.90" y="552.00" width="67.00" height="79.90" fill="#fff" stroke="none" stroke-width="1" />
<line x1="28.90" y1="560.85" x2="95.90" y2="560.85" stroke="#ececec" stroke-width="0.4" />
<line x1="28.90" y1="572.10" x2="95.90" y2="572.10" stroke="#ececec" stroke-width="0.4" />
<line x1="28.90" y1="583.35" x2="95.90" y2="583.35" stroke="#ececec" stroke-width="0.4" />
<line x1="28.90" y1="594.60" x2="95.90" y2="594.60" stroke="#ececec" stroke-width="0.4" />
<line x1="28.90" y1="605.85" x2="95.90" y2="605.85" stroke="#ececec" stroke-width="0.4" />
<line x1="28.90" y1="606.15" x2="95.90" y2="606.15" stroke="#ececec" stroke-width="0.4" />
<line x1="28.90" y1="617.40" x2="95.90" y2="617.40" stroke="#ececec" stroke-width="0.4" />
<line x1="28.90" y1="628.65" x2="95.90" y2="628.65" stroke="#ececec" stroke-width="0.4" />
<line x1="46.95" y1="552.00" x2="46.95" y2="631.90" stroke="#ececec" stroke-width="0.4" />
<line x1="77.65" y1="552.00" x2="77.65" y2="631.90" stroke="#ececec" stroke-width="0.4" />
<rect x="28.90" y="552.00" width="67.00" height="79.90" fill="none" stroke="#333" stroke-width="0.7" />
<line x1="28.00" y1="572.10" x2="28.90" y2="572.10" stroke="#333" stroke-width="0.35" />
<text x="26.80" y="573.76" font-size="4.6" text-anchor="end" fill="#4d4d4d" >1.5e+10</text>
<line x1="28.00" y1="594.60" x2="28.90" y2="594.60" stroke="#333" stroke-width="0.35" />
<text x="26.80" y="596.26" font-size="4.6" text-anchor="end" fill="#4d4d4d" >1.0e+10</text>
<line x1="28.00" y1="617.40" x2="28.90" y2="617.40" stroke="#333" stroke-width="0.35" />
<text x="26.80" y="619.06" font-size="4.6" text-anchor="end" fill="#4d4d4d" >5.0e+09</text>
<text x="0" y="0" font-size="5.3" font-weight="bold" text-anchor="middle" fill="#111" transform="translate(7.51,592.00) rotate(-90)">Normalized Intensity</text>
<text x="61.80" y="557.40" font-size="3.9" text-anchor="middle" font-weight="bold" fill="#111" >p = 3.45e-05</text>
<rect x="35.30" y="622.40" width="23.30" height="3.80" fill="#7f7f7f" stroke="#333" stroke-width="0.55" />
<line x1="35.30" y1="624.30" x2="58.60" y2="624.30" stroke="#333" stroke-width="0.6" />
<line x1="77.65" y1="564.10" x2="77.65" y2="570.20" stroke="#333" stroke-width="0.55" />
<rect x="66.20" y="570.20" width="22.90" height="6.40" fill="#e0675a" stroke="#333" stroke-width="0.55" />
<line x1="66.20" y1="573.20" x2="89.10" y2="573.20" stroke="#333" stroke-width="0.6" />
<circle cx="44.60" cy="622.50" r="1.40" fill="#111" stroke="none" stroke-width="0" />
<circle cx="43.40" cy="624.80" r="1.40" fill="#111" stroke="none" stroke-width="0" />
<circle cx="50.30" cy="622.90" r="1.40" fill="#111" stroke="none" stroke-width="0" />
<circle cx="45.40" cy="628.00" r="1.40" fill="#111" stroke="none" stroke-width="0" />
<circle cx="75.20" cy="563.80" r="1.40" fill="#111" stroke="none" stroke-width="0" />
<circle cx="77.60" cy="572.90" r="1.40" fill="#111" stroke="none" stroke-width="0" />
<circle cx="82.70" cy="573.40" r="1.40" fill="#111" stroke="none" stroke-width="0" />
<circle cx="73.40" cy="585.80" r="1.40" fill="#111" stroke="none" stroke-width="0" />
<text x="46.95" y="637.66" font-size="4.6" text-anchor="middle" fill="#4d4d4d" >NSD</text>
<text x="77.65" y="637.66" font-size="4.6" text-anchor="middle" fill="#4d4d4d" >HSD</text>
<line x1="46.95" y1="631.90" x2="46.95" y2="632.80" stroke="#333" stroke-width="0.35" />
<line x1="77.65" y1="631.90" x2="77.65" y2="632.80" stroke="#333" stroke-width="0.35" />
<text x="350.90" y="495.29" font-size="5.29" text-anchor="middle" font-weight="bold" fill="#111" >fructose-6-phosphate</text>
<rect x="317.40" y="498.10" width="65.50" height="78.90" fill="#fff" stroke="none" stroke-width="1" />
<line x1="317.40" y1="502.60" x2="382.90" y2="502.60" stroke="#ececec" stroke-width="0.4" />
<line x1="317.40" y1="509.90" x2="382.90" y2="509.90" stroke="#ececec" stroke-width="0.4" />
<line x1="317.40" y1="517.20" x2="382.90" y2="517.20" stroke="#ececec" stroke-width="0.4" />
<line x1="317.40" y1="524.50" x2="382.90" y2="524.50" stroke="#ececec" stroke-width="0.4" />
<line x1="317.40" y1="531.80" x2="382.90" y2="531.80" stroke="#ececec" stroke-width="0.4" />
<line x1="317.40" y1="539.10" x2="382.90" y2="539.10" stroke="#ececec" stroke-width="0.4" />
<line x1="317.40" y1="546.40" x2="382.90" y2="546.40" stroke="#ececec" stroke-width="0.4" />
<line x1="317.40" y1="553.70" x2="382.90" y2="553.70" stroke="#ececec" stroke-width="0.4" />
<line x1="317.40" y1="554.00" x2="382.90" y2="554.00" stroke="#ececec" stroke-width="0.4" />
<line x1="317.40" y1="561.30" x2="382.90" y2="561.30" stroke="#ececec" stroke-width="0.4" />
<line x1="317.40" y1="568.60" x2="382.90" y2="568.60" stroke="#ececec" stroke-width="0.4" />
<line x1="317.40" y1="568.70" x2="382.90" y2="568.70" stroke="#ececec" stroke-width="0.4" />
<line x1="317.40" y1="576.00" x2="382.90" y2="576.00" stroke="#ececec" stroke-width="0.4" />
<line x1="335.90" y1="498.10" x2="335.90" y2="577.00" stroke="#ececec" stroke-width="0.4" />
<line x1="366.35" y1="498.10" x2="366.35" y2="577.00" stroke="#ececec" stroke-width="0.4" />
<rect x="317.40" y="498.10" width="65.50" height="78.90" fill="none" stroke="#333" stroke-width="0.7" />
<line x1="316.50" y1="502.60" x2="317.40" y2="502.60" stroke="#333" stroke-width="0.35" />
<text x="315.80" y="504.40" font-size="5.0" text-anchor="end" fill="#4d4d4d" >4.5e+09</text>
<line x1="316.50" y1="517.20" x2="317.40" y2="517.20" stroke="#333" stroke-width="0.35" />
<text x="315.80" y="519.00" font-size="5.0" text-anchor="end" fill="#4d4d4d" >4.0e+09</text>
<line x1="316.50" y1="531.80" x2="317.40" y2="531.80" stroke="#333" stroke-width="0.35" />
<text x="315.80" y="533.60" font-size="5.0" text-anchor="end" fill="#4d4d4d" >3.5e+09</text>
<line x1="316.50" y1="546.40" x2="317.40" y2="546.40" stroke="#333" stroke-width="0.35" />
<text x="315.80" y="548.20" font-size="5.0" text-anchor="end" fill="#4d4d4d" >3.0e+09</text>
<line x1="316.50" y1="561.30" x2="317.40" y2="561.30" stroke="#333" stroke-width="0.35" />
<text x="315.80" y="563.10" font-size="5.0" text-anchor="end" fill="#4d4d4d" >2.5e+09</text>
<line x1="316.50" y1="576.00" x2="317.40" y2="576.00" stroke="#333" stroke-width="0.35" />
<text x="315.80" y="577.80" font-size="5.0" text-anchor="end" fill="#4d4d4d" >2.0e+09</text>
<text x="0" y="0" font-size="5.3" font-weight="bold" text-anchor="middle" fill="#111" transform="translate(296.11,538.40) rotate(-90)">Normalized Intensity</text>
<text x="351.10" y="503.30" font-size="3.9" text-anchor="middle" font-weight="bold" fill="#111" >p = 0.109</text>
<line x1="335.90" y1="542.50" x2="335.90" y2="555.50" stroke="#333" stroke-width="0.55" />
<rect x="324.20" y="555.50" width="23.40" height="16.80" fill="#7f7f7f" stroke="#333" stroke-width="0.55" />
<line x1="324.20" y1="565.40" x2="347.60" y2="565.40" stroke="#333" stroke-width="0.6" />
<line x1="366.35" y1="513.90" x2="366.35" y2="532.10" stroke="#333" stroke-width="0.55" />
<line x1="366.35" y1="551.80" x2="366.35" y2="555.60" stroke="#333" stroke-width="0.55" />
<rect x="355.20" y="532.10" width="22.30" height="19.70" fill="#e0675a" stroke="#333" stroke-width="0.55" />
<line x1="355.20" y1="544.20" x2="377.50" y2="544.20" stroke="#333" stroke-width="0.6" />
<circle cx="331.40" cy="543.10" r="1.40" fill="#111" stroke="none" stroke-width="0" />
<circle cx="336.20" cy="560.30" r="1.40" fill="#111" stroke="none" stroke-width="0" />
<circle cx="340.10" cy="570.80" r="1.40" fill="#111" stroke="none" stroke-width="0" />
<circle cx="335.20" cy="573.90" r="1.40" fill="#111" stroke="none" stroke-width="0" />
<circle cx="371.00" cy="513.70" r="1.40" fill="#111" stroke="none" stroke-width="0" />
<circle cx="367.30" cy="539.40" r="1.40" fill="#111" stroke="none" stroke-width="0" />
<circle cx="370.20" cy="550.10" r="1.40" fill="#111" stroke="none" stroke-width="0" />
<circle cx="371.00" cy="556.60" r="1.40" fill="#111" stroke="none" stroke-width="0" />
<text x="335.90" y="582.80" font-size="5.0" text-anchor="middle" fill="#4d4d4d" >NSD</text>
<text x="366.35" y="582.80" font-size="5.0" text-anchor="middle" fill="#4d4d4d" >HSD</text>
<line x1="335.90" y1="577.00" x2="335.90" y2="577.90" stroke="#333" stroke-width="0.35" />
<line x1="366.35" y1="577.00" x2="366.35" y2="577.90" stroke="#333" stroke-width="0.35" />
<text x="466.70" y="494.22" font-size="5.37" text-anchor="middle" font-weight="bold" fill="#111" >fructose-1,6-bisphosphate</text>
<rect x="431.40" y="497.30" width="71.00" height="79.30" fill="#fff" stroke="none" stroke-width="1" />
<line x1="431.40" y1="499.20" x2="502.40" y2="499.20" stroke="#ececec" stroke-width="0.4" />
<line x1="431.40" y1="507.60" x2="502.40" y2="507.60" stroke="#ececec" stroke-width="0.4" />
<line x1="431.40" y1="516.00" x2="502.40" y2="516.00" stroke="#ececec" stroke-width="0.4" />
<line x1="431.40" y1="523.70" x2="502.40" y2="523.70" stroke="#ececec" stroke-width="0.4" />
<line x1="431.40" y1="524.40" x2="502.40" y2="524.40" stroke="#ececec" stroke-width="0.4" />
<line x1="431.40" y1="532.10" x2="502.40" y2="532.10" stroke="#ececec" stroke-width="0.4" />
<line x1="431.40" y1="540.10" x2="502.40" y2="540.10" stroke="#ececec" stroke-width="0.4" />
<line x1="431.40" y1="540.50" x2="502.40" y2="540.50" stroke="#ececec" stroke-width="0.4" />
<line x1="431.40" y1="548.50" x2="502.40" y2="548.50" stroke="#ececec" stroke-width="0.4" />
<line x1="431.40" y1="556.70" x2="502.40" y2="556.70" stroke="#ececec" stroke-width="0.4" />
<line x1="431.40" y1="556.90" x2="502.40" y2="556.90" stroke="#ececec" stroke-width="0.4" />
<line x1="431.40" y1="565.10" x2="502.40" y2="565.10" stroke="#ececec" stroke-width="0.4" />
<line x1="431.40" y1="573.50" x2="502.40" y2="573.50" stroke="#ececec" stroke-width="0.4" />
<line x1="450.55" y1="497.30" x2="450.55" y2="576.60" stroke="#ececec" stroke-width="0.4" />
<line x1="482.60" y1="497.30" x2="482.60" y2="576.60" stroke="#ececec" stroke-width="0.4" />
<rect x="431.40" y="497.30" width="71.00" height="79.30" fill="none" stroke="#333" stroke-width="0.7" />
<line x1="430.50" y1="499.20" x2="431.40" y2="499.20" stroke="#333" stroke-width="0.35" />
<text x="429.10" y="501.00" font-size="5.0" text-anchor="end" fill="#4d4d4d" >6e+07</text>
<line x1="430.50" y1="516.00" x2="431.40" y2="516.00" stroke="#333" stroke-width="0.35" />
<text x="429.10" y="517.80" font-size="5.0" text-anchor="end" fill="#4d4d4d" >5e+07</text>
<line x1="430.50" y1="532.10" x2="431.40" y2="532.10" stroke="#333" stroke-width="0.35" />
<text x="429.10" y="533.90" font-size="5.0" text-anchor="end" fill="#4d4d4d" >4e+07</text>
<line x1="430.50" y1="548.50" x2="431.40" y2="548.50" stroke="#333" stroke-width="0.35" />
<text x="429.10" y="550.30" font-size="5.0" text-anchor="end" fill="#4d4d4d" >3e+07</text>
<line x1="430.50" y1="565.10" x2="431.40" y2="565.10" stroke="#333" stroke-width="0.35" />
<text x="429.10" y="566.90" font-size="5.0" text-anchor="end" fill="#4d4d4d" >2e+07</text>
<text x="0" y="0" font-size="5.3" font-weight="bold" text-anchor="middle" fill="#111" transform="translate(413.41,536.90) rotate(-90)">Normalized Intensity</text>
<text x="466.70" y="502.10" font-size="3.9" text-anchor="middle" font-weight="bold" fill="#111" >p = 0.148</text>
<line x1="450.55" y1="539.00" x2="450.55" y2="545.10" stroke="#333" stroke-width="0.55" />
<line x1="450.55" y1="561.70" x2="450.55" y2="572.70" stroke="#333" stroke-width="0.55" />
<rect x="438.30" y="545.10" width="24.50" height="16.60" fill="#7f7f7f" stroke="#333" stroke-width="0.55" />
<line x1="438.30" y1="552.00" x2="462.80" y2="552.00" stroke="#333" stroke-width="0.6" />
<line x1="482.60" y1="543.60" x2="482.60" y2="550.50" stroke="#333" stroke-width="0.55" />
<rect x="470.50" y="531.30" width="24.20" height="12.30" fill="#e0675a" stroke="#333" stroke-width="0.55" />
<line x1="470.50" y1="539.80" x2="494.70" y2="539.80" stroke="#333" stroke-width="0.6" />
<circle cx="455.50" cy="539.50" r="1.40" fill="#111" stroke="none" stroke-width="0" />
<circle cx="455.50" cy="547.00" r="1.40" fill="#111" stroke="none" stroke-width="0" />
<circle cx="445.50" cy="558.20" r="1.40" fill="#111" stroke="none" stroke-width="0" />
<circle cx="452.60" cy="572.70" r="1.40" fill="#111" stroke="none" stroke-width="0" />
<circle cx="488.60" cy="509.40" r="1.40" fill="#111" stroke="none" stroke-width="0" />
<circle cx="485.50" cy="538.70" r="1.40" fill="#111" stroke="none" stroke-width="0" />
<circle cx="486.60" cy="541.00" r="1.40" fill="#111" stroke="none" stroke-width="0" />
<circle cx="484.00" cy="550.50" r="1.40" fill="#111" stroke="none" stroke-width="0" />
<text x="450.55" y="582.20" font-size="5.0" text-anchor="middle" fill="#4d4d4d" >NSD</text>
<text x="482.60" y="582.20" font-size="5.0" text-anchor="middle" fill="#4d4d4d" >HSD</text>
<line x1="450.55" y1="576.60" x2="450.55" y2="577.50" stroke="#333" stroke-width="0.35" />
<line x1="482.60" y1="576.60" x2="482.60" y2="577.50" stroke="#333" stroke-width="0.35" />
<text x="564.00" y="496.89" font-size="5.27" text-anchor="middle" font-weight="bold" fill="#111" >D-glyceraldehdye-3-phosphat</text>
<rect x="532.30" y="499.60" width="66.50" height="78.80" fill="#fff" stroke="none" stroke-width="1" />
<line x1="532.30" y1="508.90" x2="598.80" y2="508.90" stroke="#ececec" stroke-width="0.4" />
<line x1="532.30" y1="519.10" x2="598.80" y2="519.10" stroke="#ececec" stroke-width="0.4" />
<line x1="532.30" y1="529.30" x2="598.80" y2="529.30" stroke="#ececec" stroke-width="0.4" />
<line x1="532.30" y1="539.50" x2="598.80" y2="539.50" stroke="#ececec" stroke-width="0.4" />
<line x1="532.30" y1="549.70" x2="598.80" y2="549.70" stroke="#ececec" stroke-width="0.4" />
<line x1="532.30" y1="549.80" x2="598.80" y2="549.80" stroke="#ececec" stroke-width="0.4" />
<line x1="532.30" y1="560.00" x2="598.80" y2="560.00" stroke="#ececec" stroke-width="0.4" />
<line x1="532.30" y1="570.20" x2="598.80" y2="570.20" stroke="#ececec" stroke-width="0.4" />
<line x1="550.50" y1="499.60" x2="550.50" y2="578.40" stroke="#ececec" stroke-width="0.4" />
<line x1="580.90" y1="499.60" x2="580.90" y2="578.40" stroke="#ececec" stroke-width="0.4" />
<rect x="532.30" y="499.60" width="66.50" height="78.80" fill="none" stroke="#333" stroke-width="0.7" />
<line x1="531.40" y1="519.10" x2="532.30" y2="519.10" stroke="#333" stroke-width="0.35" />
<text x="530.30" y="520.90" font-size="5.0" text-anchor="end" fill="#4d4d4d" >3.0e+08</text>
<line x1="531.40" y1="539.50" x2="532.30" y2="539.50" stroke="#333" stroke-width="0.35" />
<text x="530.30" y="541.30" font-size="5.0" text-anchor="end" fill="#4d4d4d" >2.5e+08</text>
<line x1="531.40" y1="560.00" x2="532.30" y2="560.00" stroke="#333" stroke-width="0.35" />
<text x="530.30" y="561.80" font-size="5.0" text-anchor="end" fill="#4d4d4d" >2.0e+08</text>
<text x="0" y="0" font-size="5.3" font-weight="bold" text-anchor="middle" fill="#111" transform="translate(510.31,539.00) rotate(-90)">Normalized Intensity</text>
<text x="565.50" y="505.20" font-size="3.9" text-anchor="middle" font-weight="bold" fill="#111" >p = 0.257</text>
<line x1="550.50" y1="532.10" x2="550.50" y2="539.00" stroke="#333" stroke-width="0.55" />
<line x1="550.50" y1="557.40" x2="550.50" y2="575.30" stroke="#333" stroke-width="0.55" />
<rect x="539.00" y="539.00" width="23.00" height="18.40" fill="#7f7f7f" stroke="#333" stroke-width="0.55" />
<line x1="539.00" y1="546.20" x2="562.00" y2="546.20" stroke="#333" stroke-width="0.6" />
<line x1="580.90" y1="516.00" x2="580.90" y2="520.20" stroke="#333" stroke-width="0.55" />
<line x1="580.90" y1="547.10" x2="580.90" y2="552.00" stroke="#333" stroke-width="0.55" />
<rect x="569.40" y="520.20" width="23.00" height="26.90" fill="#e0675a" stroke="#333" stroke-width="0.55" />
<line x1="569.40" y1="533.30" x2="592.40" y2="533.30" stroke="#333" stroke-width="0.6" />
<circle cx="545.30" cy="532.10" r="1.40" fill="#111" stroke="none" stroke-width="0" />
<circle cx="548.20" cy="540.90" r="1.40" fill="#111" stroke="none" stroke-width="0" />
<circle cx="556.30" cy="551.30" r="1.40" fill="#111" stroke="none" stroke-width="0" />
<circle cx="555.60" cy="575.30" r="1.40" fill="#111" stroke="none" stroke-width="0" />
<circle cx="579.00" cy="516.00" r="1.40" fill="#111" stroke="none" stroke-width="0" />
<circle cx="577.50" cy="521.80" r="1.40" fill="#111" stroke="none" stroke-width="0" />
<circle cx="583.60" cy="545.90" r="1.40" fill="#111" stroke="none" stroke-width="0" />
<circle cx="582.40" cy="552.00" r="1.40" fill="#111" stroke="none" stroke-width="0" />
<text x="550.50" y="584.20" font-size="5.0" text-anchor="middle" fill="#4d4d4d" >NSD</text>
<text x="580.90" y="584.20" font-size="5.0" text-anchor="middle" fill="#4d4d4d" >HSD</text>
<line x1="550.50" y1="578.40" x2="550.50" y2="579.30" stroke="#333" stroke-width="0.35" />
<line x1="580.90" y1="578.40" x2="580.90" y2="579.30" stroke="#333" stroke-width="0.35" />
<text x="256.40" y="659.84" font-size="5.15" text-anchor="middle" font-weight="bold" fill="#111" >sorbitol</text>
<rect x="223.30" y="662.40" width="67.00" height="79.90" fill="#fff" stroke="none" stroke-width="1" />
<line x1="223.30" y1="662.80" x2="290.30" y2="662.80" stroke="#ececec" stroke-width="0.4" />
<line x1="223.30" y1="673.90" x2="290.30" y2="673.90" stroke="#ececec" stroke-width="0.4" />
<line x1="223.30" y1="685.00" x2="290.30" y2="685.00" stroke="#ececec" stroke-width="0.4" />
<line x1="223.30" y1="696.10" x2="290.30" y2="696.10" stroke="#ececec" stroke-width="0.4" />
<line x1="223.30" y1="697.00" x2="290.30" y2="697.00" stroke="#ececec" stroke-width="0.4" />
<line x1="223.30" y1="708.10" x2="290.30" y2="708.10" stroke="#ececec" stroke-width="0.4" />
<line x1="223.30" y1="719.20" x2="290.30" y2="719.20" stroke="#ececec" stroke-width="0.4" />
<line x1="223.30" y1="719.90" x2="290.30" y2="719.90" stroke="#ececec" stroke-width="0.4" />
<line x1="223.30" y1="731.00" x2="290.30" y2="731.00" stroke="#ececec" stroke-width="0.4" />
<line x1="223.30" y1="742.10" x2="290.30" y2="742.10" stroke="#ececec" stroke-width="0.4" />
<line x1="241.10" y1="662.40" x2="241.10" y2="742.30" stroke="#ececec" stroke-width="0.4" />
<line x1="271.75" y1="662.40" x2="271.75" y2="742.30" stroke="#ececec" stroke-width="0.4" />
<rect x="223.30" y="662.40" width="67.00" height="79.90" fill="none" stroke="#333" stroke-width="0.7" />
<line x1="222.40" y1="662.80" x2="223.30" y2="662.80" stroke="#333" stroke-width="0.35" />
<text x="221.40" y="664.60" font-size="5.0" text-anchor="end" fill="#4d4d4d" >1.0e+08</text>
<line x1="222.40" y1="685.00" x2="223.30" y2="685.00" stroke="#333" stroke-width="0.35" />
<text x="221.40" y="686.80" font-size="5.0" text-anchor="end" fill="#4d4d4d" >7.5e+07</text>
<line x1="222.40" y1="708.10" x2="223.30" y2="708.10" stroke="#333" stroke-width="0.35" />
<text x="221.40" y="709.90" font-size="5.0" text-anchor="end" fill="#4d4d4d" >5.0e+07</text>
<line x1="222.40" y1="731.00" x2="223.30" y2="731.00" stroke="#333" stroke-width="0.35" />
<text x="221.40" y="732.80" font-size="5.0" text-anchor="end" fill="#4d4d4d" >2.5e+07</text>
<text x="0" y="0" font-size="5.3" font-weight="bold" text-anchor="middle" fill="#111" transform="translate(200.91,701.80) rotate(-90)">Normalized Intensity</text>
<text x="256.40" y="667.40" font-size="3.9" text-anchor="middle" font-weight="bold" fill="#111" >p = 0.00531</text>
<line x1="241.10" y1="723.70" x2="241.10" y2="727.40" stroke="#333" stroke-width="0.55" />
<line x1="241.10" y1="734.70" x2="241.10" y2="738.30" stroke="#333" stroke-width="0.55" />
<rect x="229.40" y="727.40" width="23.40" height="7.30" fill="#7f7f7f" stroke="#333" stroke-width="0.55" />
<line x1="229.40" y1="730.00" x2="252.80" y2="730.00" stroke="#333" stroke-width="0.6" />
<line x1="271.75" y1="673.40" x2="271.75" y2="677.30" stroke="#333" stroke-width="0.55" />
<line x1="271.75" y1="696.70" x2="271.75" y2="715.70" stroke="#333" stroke-width="0.55" />
<rect x="260.40" y="677.30" width="22.70" height="19.40" fill="#e0675a" stroke="#333" stroke-width="0.55" />
<line x1="260.40" y1="684.30" x2="283.10" y2="684.30" stroke="#333" stroke-width="0.6" />
<circle cx="241.10" cy="724.20" r="1.40" fill="#111" stroke="none" stroke-width="0" />
<circle cx="235.50" cy="728.10" r="1.40" fill="#111" stroke="none" stroke-width="0" />
<circle cx="236.70" cy="733.50" r="1.40" fill="#111" stroke="none" stroke-width="0" />
<circle cx="236.40" cy="737.60" r="1.40" fill="#111" stroke="none" stroke-width="0" />
<circle cx="270.70" cy="673.40" r="1.40" fill="#111" stroke="none" stroke-width="0" />
<circle cx="273.50" cy="677.40" r="1.40" fill="#111" stroke="none" stroke-width="0" />
<circle cx="268.10" cy="690.60" r="1.40" fill="#111" stroke="none" stroke-width="0" />
<circle cx="275.10" cy="715.70" r="1.40" fill="#111" stroke="none" stroke-width="0" />
<text x="241.10" y="747.70" font-size="5.0" text-anchor="middle" fill="#4d4d4d" >NSD</text>
<text x="271.75" y="747.70" font-size="5.0" text-anchor="middle" fill="#4d4d4d" >HSD</text>
<line x1="241.10" y1="742.30" x2="241.10" y2="743.20" stroke="#333" stroke-width="0.35" />
<line x1="271.75" y1="742.30" x2="271.75" y2="743.20" stroke="#333" stroke-width="0.35" />
<text x="564.80" y="728.10" font-size="5.32" text-anchor="middle" font-weight="bold" fill="#111" >dihydroxy-acetone-phosphat</text>
<rect x="532.90" y="731.40" width="66.70" height="78.70" fill="#fff" stroke="none" stroke-width="1" />
<line x1="532.90" y1="741.05" x2="599.60" y2="741.05" stroke="#ececec" stroke-width="0.4" />
<line x1="532.90" y1="752.70" x2="599.60" y2="752.70" stroke="#ececec" stroke-width="0.4" />
<line x1="532.90" y1="764.35" x2="599.60" y2="764.35" stroke="#ececec" stroke-width="0.4" />
<line x1="532.90" y1="776.00" x2="599.60" y2="776.00" stroke="#ececec" stroke-width="0.4" />
<line x1="532.90" y1="787.65" x2="599.60" y2="787.65" stroke="#ececec" stroke-width="0.4" />
<line x1="532.90" y1="788.45" x2="599.60" y2="788.45" stroke="#ececec" stroke-width="0.4" />
<line x1="532.90" y1="800.10" x2="599.60" y2="800.10" stroke="#ececec" stroke-width="0.4" />
<line x1="551.15" y1="731.40" x2="551.15" y2="810.10" stroke="#ececec" stroke-width="0.4" />
<line x1="581.35" y1="731.40" x2="581.35" y2="810.10" stroke="#ececec" stroke-width="0.4" />
<rect x="532.90" y="731.40" width="66.70" height="78.70" fill="none" stroke="#333" stroke-width="0.7" />
<line x1="532.00" y1="752.70" x2="532.90" y2="752.70" stroke="#333" stroke-width="0.35" />
<text x="530.50" y="754.50" font-size="5.0" text-anchor="end" fill="#4d4d4d" >2.5e+08</text>
<line x1="532.00" y1="776.00" x2="532.90" y2="776.00" stroke="#333" stroke-width="0.35" />
<text x="530.50" y="777.80" font-size="5.0" text-anchor="end" fill="#4d4d4d" >2.0e+08</text>
<line x1="532.00" y1="800.10" x2="532.90" y2="800.10" stroke="#333" stroke-width="0.35" />
<text x="530.50" y="801.90" font-size="5.0" text-anchor="end" fill="#4d4d4d" >1.5e+08</text>
<text x="0" y="0" font-size="5.3" font-weight="bold" text-anchor="middle" fill="#111" transform="translate(510.71,771.20) rotate(-90)">Normalized Intensity</text>
<text x="566.20" y="736.50" font-size="3.9" text-anchor="middle" font-weight="bold" fill="#111" >p = 0.033</text>
<line x1="551.15" y1="766.10" x2="551.15" y2="789.40" stroke="#333" stroke-width="0.55" />
<rect x="539.70" y="789.40" width="22.90" height="17.10" fill="#7f7f7f" stroke="#333" stroke-width="0.55" />
<line x1="539.70" y1="802.50" x2="562.60" y2="802.50" stroke="#333" stroke-width="0.6" />
<line x1="581.35" y1="747.10" x2="581.35" y2="758.40" stroke="#333" stroke-width="0.55" />
<line x1="581.35" y1="767.70" x2="581.35" y2="776.00" stroke="#333" stroke-width="0.55" />
<rect x="569.90" y="758.40" width="22.90" height="9.30" fill="#e0675a" stroke="#333" stroke-width="0.55" />
<line x1="569.90" y1="763.20" x2="592.80" y2="763.20" stroke="#333" stroke-width="0.6" />
<circle cx="556.50" cy="765.70" r="1.40" fill="#111" stroke="none" stroke-width="0" />
<circle cx="552.70" cy="797.40" r="1.40" fill="#111" stroke="none" stroke-width="0" />
<circle cx="548.50" cy="806.50" r="1.40" fill="#111" stroke="none" stroke-width="0" />
<circle cx="556.20" cy="807.00" r="1.40" fill="#111" stroke="none" stroke-width="0" />
<circle cx="575.50" cy="747.10" r="1.40" fill="#111" stroke="none" stroke-width="0" />
<circle cx="575.50" cy="762.10" r="1.40" fill="#111" stroke="none" stroke-width="0" />
<circle cx="580.80" cy="765.30" r="1.40" fill="#111" stroke="none" stroke-width="0" />
<circle cx="579.20" cy="776.30" r="1.40" fill="#111" stroke="none" stroke-width="0" />
<text x="551.15" y="815.90" font-size="5.0" text-anchor="middle" fill="#4d4d4d" >NSD</text>
<text x="581.35" y="815.90" font-size="5.0" text-anchor="middle" fill="#4d4d4d" >HSD</text>
<line x1="551.15" y1="810.10" x2="551.15" y2="811.00" stroke="#333" stroke-width="0.35" />
<line x1="581.35" y1="810.10" x2="581.35" y2="811.00" stroke="#333" stroke-width="0.35" />
<rect x="162.00" y="495.40" width="101.30" height="82.30" fill="#fff" stroke="#b84fd6" stroke-width="1.0" />
<text x="207.60" y="492.14" font-size="4.86" text-anchor="middle" font-weight="bold" fill="#111" >Hex-A (human GCK)</text>
<line x1="174.80" y1="506.54" x2="258.30" y2="506.54" stroke="#c4c4c4" stroke-width="0.3" stroke-dasharray="0.5,1"/>
<line x1="174.80" y1="513.28" x2="258.30" y2="513.28" stroke="#c4c4c4" stroke-width="0.3" stroke-dasharray="0.5,1"/>
<line x1="174.80" y1="520.02" x2="258.30" y2="520.02" stroke="#c4c4c4" stroke-width="0.3" stroke-dasharray="0.5,1"/>
<line x1="174.80" y1="526.76" x2="258.30" y2="526.76" stroke="#c4c4c4" stroke-width="0.3" stroke-dasharray="0.5,1"/>
<line x1="174.80" y1="533.50" x2="258.30" y2="533.50" stroke="#c4c4c4" stroke-width="0.3" stroke-dasharray="0.5,1"/>
<line x1="174.80" y1="540.24" x2="258.30" y2="540.24" stroke="#c4c4c4" stroke-width="0.3" stroke-dasharray="0.5,1"/>
<line x1="174.80" y1="546.98" x2="258.30" y2="546.98" stroke="#c4c4c4" stroke-width="0.3" stroke-dasharray="0.5,1"/>
<line x1="174.80" y1="553.72" x2="258.30" y2="553.72" stroke="#c4c4c4" stroke-width="0.3" stroke-dasharray="0.5,1"/>
<line x1="174.80" y1="560.46" x2="258.30" y2="560.46" stroke="#c4c4c4" stroke-width="0.3" stroke-dasharray="0.5,1"/>
<line x1="181.76" y1="499.80" x2="181.76" y2="567.20" stroke="#c4c4c4" stroke-width="0.3" stroke-dasharray="0.5,1"/>
<line x1="188.72" y1="499.80" x2="188.72" y2="567.20" stroke="#c4c4c4" stroke-width="0.3" stroke-dasharray="0.5,1"/>
<line x1="195.68" y1="499.80" x2="195.68" y2="567.20" stroke="#c4c4c4" stroke-width="0.3" stroke-dasharray="0.5,1"/>
<line x1="202.63" y1="499.80" x2="202.63" y2="567.20" stroke="#c4c4c4" stroke-width="0.3" stroke-dasharray="0.5,1"/>
<line x1="209.59" y1="499.80" x2="209.59" y2="567.20" stroke="#c4c4c4" stroke-width="0.3" stroke-dasharray="0.5,1"/>
<line x1="216.55" y1="499.80" x2="216.55" y2="567.20" stroke="#c4c4c4" stroke-width="0.3" stroke-dasharray="0.5,1"/>
<line x1="223.51" y1="499.80" x2="223.51" y2="567.20" stroke="#c4c4c4" stroke-width="0.3" stroke-dasharray="0.5,1"/>
<line x1="230.47" y1="499.80" x2="230.47" y2="567.20" stroke="#c4c4c4" stroke-width="0.3" stroke-dasharray="0.5,1"/>
<line x1="237.43" y1="499.80" x2="237.43" y2="567.20" stroke="#c4c4c4" stroke-width="0.3" stroke-dasharray="0.5,1"/>
<line x1="244.38" y1="499.80" x2="244.38" y2="567.20" stroke="#c4c4c4" stroke-width="0.3" stroke-dasharray="0.5,1"/>
<line x1="251.34" y1="499.80" x2="251.34" y2="567.20" stroke="#c4c4c4" stroke-width="0.3" stroke-dasharray="0.5,1"/>
<rect x="193.87" y="566.89" width="0.85" height="0.31" fill="#4a140e" stroke="#6a1c14" stroke-width="0.12"/>
<rect x="194.72" y="566.78" width="0.85" height="0.42" fill="#4a140e" stroke="#6a1c14" stroke-width="0.12"/>
<rect x="195.57" y="566.68" width="0.85" height="0.52" fill="#4a140e" stroke="#6a1c14" stroke-width="0.12"/>
<rect x="196.42" y="566.59" width="0.85" height="0.61" fill="#4a140e" stroke="#6a1c14" stroke-width="0.12"/>
<rect x="197.27" y="566.41" width="0.85" height="0.79" fill="#4a140e" stroke="#6a1c14" stroke-width="0.12"/>
<rect x="198.12" y="566.21" width="0.85" height="0.99" fill="#4a140e" stroke="#6a1c14" stroke-width="0.12"/>
<rect x="198.97" y="566.01" width="0.85" height="1.19" fill="#4a140e" stroke="#6a1c14" stroke-width="0.12"/>
<rect x="199.82" y="565.64" width="0.85" height="1.56" fill="#4a140e" stroke="#6a1c14" stroke-width="0.12"/>
<rect x="200.67" y="565.29" width="0.85" height="1.91" fill="#4a140e" stroke="#6a1c14" stroke-width="0.12"/>
<rect x="201.52" y="564.75" width="0.85" height="2.45" fill="#4a140e" stroke="#6a1c14" stroke-width="0.12"/>
<rect x="202.37" y="564.29" width="0.85" height="2.91" fill="#4a140e" stroke="#6a1c14" stroke-width="0.12"/>
<rect x="203.22" y="563.46" width="0.85" height="3.74" fill="#4a140e" stroke="#6a1c14" stroke-width="0.12"/>
<rect x="204.07" y="562.81" width="0.85" height="4.39" fill="#4a140e" stroke="#6a1c14" stroke-width="0.12"/>
<rect x="204.92" y="561.87" width="0.85" height="5.33" fill="#4a140e" stroke="#6a1c14" stroke-width="0.12"/>
<rect x="205.77" y="560.49" width="0.85" height="6.71" fill="#4a140e" stroke="#6a1c14" stroke-width="0.12"/>
<rect x="206.62" y="558.15" width="0.85" height="9.05" fill="#4a140e" stroke="#6a1c14" stroke-width="0.12"/>
<rect x="207.47" y="556.64" width="0.85" height="10.56" fill="#4a140e" stroke="#6a1c14" stroke-width="0.12"/>
<rect x="208.32" y="554.29" width="0.85" height="12.91" fill="#4a140e" stroke="#6a1c14" stroke-width="0.12"/>
<rect x="209.17" y="550.28" width="0.85" height="16.92" fill="#4a140e" stroke="#6a1c14" stroke-width="0.12"/>
<rect x="210.02" y="546.36" width="0.85" height="20.84" fill="#4a140e" stroke="#6a1c14" stroke-width="0.12"/>
<rect x="210.87" y="542.08" width="0.85" height="25.12" fill="#4a140e" stroke="#6a1c14" stroke-width="0.12"/>
<rect x="211.72" y="534.25" width="0.85" height="32.95" fill="#4a140e" stroke="#6a1c14" stroke-width="0.12"/>
<rect x="212.57" y="526.10" width="0.85" height="41.10" fill="#4a140e" stroke="#6a1c14" stroke-width="0.12"/>
<rect x="213.42" y="516.59" width="0.85" height="50.61" fill="#4a140e" stroke="#6a1c14" stroke-width="0.12"/>
<rect x="214.27" y="505.20" width="0.85" height="62.00" fill="#4a140e" stroke="#6a1c14" stroke-width="0.12"/>
<rect x="215.12" y="515.38" width="0.85" height="51.82" fill="#4a140e" stroke="#6a1c14" stroke-width="0.12"/>
<rect x="215.97" y="524.77" width="0.85" height="42.43" fill="#4a140e" stroke="#6a1c14" stroke-width="0.12"/>
<rect x="216.82" y="533.24" width="0.85" height="33.96" fill="#4a140e" stroke="#6a1c14" stroke-width="0.12"/>
<rect x="217.67" y="540.07" width="0.85" height="27.13" fill="#4a140e" stroke="#6a1c14" stroke-width="0.12"/>
<rect x="218.52" y="543.02" width="0.85" height="24.18" fill="#4a140e" stroke="#6a1c14" stroke-width="0.12"/>
<rect x="219.37" y="548.50" width="0.85" height="18.70" fill="#4a140e" stroke="#6a1c14" stroke-width="0.12"/>
<rect x="220.22" y="551.78" width="0.85" height="15.42" fill="#4a140e" stroke="#6a1c14" stroke-width="0.12"/>
<rect x="221.07" y="554.00" width="0.85" height="13.20" fill="#4a140e" stroke="#6a1c14" stroke-width="0.12"/>
<rect x="221.92" y="555.87" width="0.85" height="11.33" fill="#4a140e" stroke="#6a1c14" stroke-width="0.12"/>
<rect x="222.77" y="558.67" width="0.85" height="8.53" fill="#4a140e" stroke="#6a1c14" stroke-width="0.12"/>
<rect x="223.62" y="559.69" width="0.85" height="7.51" fill="#4a140e" stroke="#6a1c14" stroke-width="0.12"/>
<rect x="224.47" y="560.89" width="0.85" height="6.31" fill="#4a140e" stroke="#6a1c14" stroke-width="0.12"/>
<rect x="225.32" y="562.40" width="0.85" height="4.80" fill="#4a140e" stroke="#6a1c14" stroke-width="0.12"/>
<rect x="226.17" y="563.05" width="0.85" height="4.15" fill="#4a140e" stroke="#6a1c14" stroke-width="0.12"/>
<rect x="227.02" y="563.94" width="0.85" height="3.26" fill="#4a140e" stroke="#6a1c14" stroke-width="0.12"/>
<rect x="227.87" y="564.54" width="0.85" height="2.66" fill="#4a140e" stroke="#6a1c14" stroke-width="0.12"/>
<rect x="228.72" y="564.81" width="0.85" height="2.39" fill="#4a140e" stroke="#6a1c14" stroke-width="0.12"/>
<rect x="229.57" y="565.25" width="0.85" height="1.95" fill="#4a140e" stroke="#6a1c14" stroke-width="0.12"/>
<rect x="230.42" y="565.56" width="0.85" height="1.64" fill="#4a140e" stroke="#6a1c14" stroke-width="0.12"/>
<rect x="231.27" y="565.87" width="0.85" height="1.33" fill="#4a140e" stroke="#6a1c14" stroke-width="0.12"/>
<rect x="232.12" y="566.17" width="0.85" height="1.03" fill="#4a140e" stroke="#6a1c14" stroke-width="0.12"/>
<rect x="232.97" y="566.32" width="0.85" height="0.88" fill="#4a140e" stroke="#6a1c14" stroke-width="0.12"/>
<rect x="233.82" y="566.49" width="0.85" height="0.71" fill="#4a140e" stroke="#6a1c14" stroke-width="0.12"/>
<rect x="234.67" y="566.63" width="0.85" height="0.57" fill="#4a140e" stroke="#6a1c14" stroke-width="0.12"/>
<rect x="235.52" y="566.69" width="0.85" height="0.51" fill="#4a140e" stroke="#6a1c14" stroke-width="0.12"/>
<rect x="236.37" y="566.79" width="0.85" height="0.41" fill="#4a140e" stroke="#6a1c14" stroke-width="0.12"/>
<rect x="237.22" y="566.88" width="0.85" height="0.32" fill="#4a140e" stroke="#6a1c14" stroke-width="0.12"/>
<rect x="219.57" y="566.89" width="0.85" height="0.31" fill="#2e2e2e" stroke="#444" stroke-width="0.12"/>
<rect x="220.42" y="566.80" width="0.85" height="0.40" fill="#2e2e2e" stroke="#444" stroke-width="0.12"/>
<rect x="221.27" y="566.68" width="0.85" height="0.52" fill="#2e2e2e" stroke="#444" stroke-width="0.12"/>
<rect x="222.12" y="566.52" width="0.85" height="0.68" fill="#2e2e2e" stroke="#444" stroke-width="0.12"/>
<rect x="222.97" y="566.34" width="0.85" height="0.86" fill="#2e2e2e" stroke="#444" stroke-width="0.12"/>
<rect x="223.82" y="565.98" width="0.85" height="1.22" fill="#2e2e2e" stroke="#444" stroke-width="0.12"/>
<rect x="224.67" y="565.71" width="0.85" height="1.49" fill="#2e2e2e" stroke="#444" stroke-width="0.12"/>
<rect x="225.52" y="565.13" width="0.85" height="2.07" fill="#2e2e2e" stroke="#444" stroke-width="0.12"/>
<rect x="226.37" y="564.61" width="0.85" height="2.59" fill="#2e2e2e" stroke="#444" stroke-width="0.12"/>
<rect x="227.22" y="563.72" width="0.85" height="3.48" fill="#2e2e2e" stroke="#444" stroke-width="0.12"/>
<rect x="228.07" y="562.77" width="0.85" height="4.43" fill="#2e2e2e" stroke="#444" stroke-width="0.12"/>
<rect x="228.92" y="561.56" width="0.85" height="5.64" fill="#2e2e2e" stroke="#444" stroke-width="0.12"/>
<rect x="229.77" y="559.95" width="0.85" height="7.25" fill="#2e2e2e" stroke="#444" stroke-width="0.12"/>
<rect x="230.62" y="557.58" width="0.85" height="9.62" fill="#2e2e2e" stroke="#444" stroke-width="0.12"/>
<rect x="231.47" y="553.79" width="0.85" height="13.41" fill="#2e2e2e" stroke="#444" stroke-width="0.12"/>
<rect x="232.32" y="551.22" width="0.85" height="15.98" fill="#2e2e2e" stroke="#444" stroke-width="0.12"/>
<rect x="233.17" y="544.91" width="0.85" height="22.29" fill="#2e2e2e" stroke="#444" stroke-width="0.12"/>
<rect x="234.02" y="538.07" width="0.85" height="29.13" fill="#2e2e2e" stroke="#444" stroke-width="0.12"/>
<rect x="234.87" y="530.59" width="0.85" height="36.61" fill="#2e2e2e" stroke="#444" stroke-width="0.12"/>
<rect x="235.72" y="519.39" width="0.85" height="47.81" fill="#2e2e2e" stroke="#444" stroke-width="0.12"/>
<rect x="236.57" y="503.30" width="0.85" height="63.90" fill="#2e2e2e" stroke="#444" stroke-width="0.12"/>
<rect x="237.42" y="516.10" width="0.85" height="51.10" fill="#2e2e2e" stroke="#444" stroke-width="0.12"/>
<rect x="238.27" y="522.03" width="0.85" height="45.17" fill="#2e2e2e" stroke="#444" stroke-width="0.12"/>
<rect x="239.12" y="530.34" width="0.85" height="36.86" fill="#2e2e2e" stroke="#444" stroke-width="0.12"/>
<rect x="239.97" y="538.17" width="0.85" height="29.03" fill="#2e2e2e" stroke="#444" stroke-width="0.12"/>
<rect x="240.82" y="542.35" width="0.85" height="24.85" fill="#2e2e2e" stroke="#444" stroke-width="0.12"/>
<rect x="241.67" y="545.89" width="0.85" height="21.31" fill="#2e2e2e" stroke="#444" stroke-width="0.12"/>
<rect x="242.52" y="549.56" width="0.85" height="17.64" fill="#2e2e2e" stroke="#444" stroke-width="0.12"/>
<rect x="243.37" y="553.34" width="0.85" height="13.86" fill="#2e2e2e" stroke="#444" stroke-width="0.12"/>
<rect x="244.22" y="555.37" width="0.85" height="11.83" fill="#2e2e2e" stroke="#444" stroke-width="0.12"/>
<rect x="245.07" y="557.29" width="0.85" height="9.91" fill="#2e2e2e" stroke="#444" stroke-width="0.12"/>
<rect x="245.92" y="558.96" width="0.85" height="8.24" fill="#2e2e2e" stroke="#444" stroke-width="0.12"/>
<rect x="246.77" y="559.99" width="0.85" height="7.21" fill="#2e2e2e" stroke="#444" stroke-width="0.12"/>
<rect x="247.62" y="561.56" width="0.85" height="5.64" fill="#2e2e2e" stroke="#444" stroke-width="0.12"/>
<rect x="248.47" y="562.68" width="0.85" height="4.52" fill="#2e2e2e" stroke="#444" stroke-width="0.12"/>
<rect x="249.32" y="563.40" width="0.85" height="3.80" fill="#2e2e2e" stroke="#444" stroke-width="0.12"/>
<rect x="250.17" y="563.97" width="0.85" height="3.23" fill="#2e2e2e" stroke="#444" stroke-width="0.12"/>
<rect x="251.02" y="564.36" width="0.85" height="2.84" fill="#2e2e2e" stroke="#444" stroke-width="0.12"/>
<rect x="251.87" y="564.87" width="0.85" height="2.33" fill="#2e2e2e" stroke="#444" stroke-width="0.12"/>
<rect x="252.72" y="565.34" width="0.85" height="1.86" fill="#2e2e2e" stroke="#444" stroke-width="0.12"/>
<rect x="253.57" y="565.64" width="0.85" height="1.56" fill="#2e2e2e" stroke="#444" stroke-width="0.12"/>
<rect x="254.42" y="565.96" width="0.85" height="1.24" fill="#2e2e2e" stroke="#444" stroke-width="0.12"/>
<rect x="255.27" y="566.12" width="0.85" height="1.08" fill="#2e2e2e" stroke="#444" stroke-width="0.12"/>
<rect x="256.12" y="566.34" width="0.85" height="0.86" fill="#2e2e2e" stroke="#444" stroke-width="0.12"/>
<rect x="256.97" y="566.43" width="0.85" height="0.77" fill="#2e2e2e" stroke="#444" stroke-width="0.12"/>
<rect x="253.60" y="557.00" width="0.80" height="10.20" fill="#3b3b3b" stroke="none" stroke-width="1" />
<rect x="174.80" y="499.80" width="83.50" height="67.40" fill="none" stroke="#222" stroke-width="0.5" />
<text x="216.55" y="499.30" font-size="2.3" text-anchor="middle" font-weight="bold" fill="#222" textLength="79" lengthAdjust="spacingAndGlyphs">ATP [c] + Fructose [c] -> ADP [c] + H+ [c] + Fructose 6-phosphate [c]</text>
<rect x="178.40" y="503.20" width="7.00" height="2.60" fill="#555" stroke="none" stroke-width="1" />
<rect x="178.40" y="507.10" width="7.00" height="2.60" fill="#d04030" stroke="none" stroke-width="1" />
<text x="185.90" y="505.40" font-size="2.2" text-anchor="start" fill="#111" >NSD</text>
<text x="185.90" y="509.30" font-size="2.2" text-anchor="start" fill="#111" >HSD</text>
<line x1="174.10" y1="567.20" x2="174.80" y2="567.20" stroke="#333" stroke-width="0.3" />
<text x="173.80" y="567.80" font-size="1.8" text-anchor="end" fill="#333" >0.00</text>
<line x1="174.10" y1="560.11" x2="174.80" y2="560.11" stroke="#333" stroke-width="0.3" />
<text x="173.80" y="560.71" font-size="1.8" text-anchor="end" fill="#333" >0.01</text>
<line x1="174.10" y1="553.01" x2="174.80" y2="553.01" stroke="#333" stroke-width="0.3" />
<text x="173.80" y="553.61" font-size="1.8" text-anchor="end" fill="#333" >0.02</text>
<line x1="174.10" y1="545.92" x2="174.80" y2="545.92" stroke="#333" stroke-width="0.3" />
<text x="173.80" y="546.52" font-size="1.8" text-anchor="end" fill="#333" >0.03</text>
<line x1="174.10" y1="538.82" x2="174.80" y2="538.82" stroke="#333" stroke-width="0.3" />
<text x="173.80" y="539.42" font-size="1.8" text-anchor="end" fill="#333" >0.04</text>
<line x1="174.10" y1="531.73" x2="174.80" y2="531.73" stroke="#333" stroke-width="0.3" />
<text x="173.80" y="532.33" font-size="1.8" text-anchor="end" fill="#333" >0.05</text>
<line x1="174.10" y1="524.63" x2="174.80" y2="524.63" stroke="#333" stroke-width="0.3" />
<text x="173.80" y="525.23" font-size="1.8" text-anchor="end" fill="#333" >0.06</text>
<line x1="174.10" y1="517.54" x2="174.80" y2="517.54" stroke="#333" stroke-width="0.3" />
<text x="173.80" y="518.14" font-size="1.8" text-anchor="end" fill="#333" >0.07</text>
<line x1="174.10" y1="510.44" x2="174.80" y2="510.44" stroke="#333" stroke-width="0.3" />
<text x="173.80" y="511.04" font-size="1.8" text-anchor="end" fill="#333" >0.08</text>
<line x1="174.10" y1="503.35" x2="174.80" y2="503.35" stroke="#333" stroke-width="0.3" />
<text x="173.80" y="503.95" font-size="1.8" text-anchor="end" fill="#333" >0.09</text>
<line x1="184.00" y1="567.20" x2="184.00" y2="567.90" stroke="#333" stroke-width="0.3" />
<text x="184.00" y="570.90" font-size="2.4" text-anchor="middle" fill="#333" >-4</text>
<line x1="195.00" y1="567.20" x2="195.00" y2="567.90" stroke="#333" stroke-width="0.3" />
<text x="195.00" y="570.90" font-size="2.4" text-anchor="middle" fill="#333" >-3</text>
<line x1="206.00" y1="567.20" x2="206.00" y2="567.90" stroke="#333" stroke-width="0.3" />
<text x="206.00" y="570.90" font-size="2.4" text-anchor="middle" fill="#333" >-2</text>
<line x1="217.00" y1="567.20" x2="217.00" y2="567.90" stroke="#333" stroke-width="0.3" />
<text x="217.00" y="570.90" font-size="2.4" text-anchor="middle" fill="#333" >-1</text>
<line x1="228.00" y1="567.20" x2="228.00" y2="567.90" stroke="#333" stroke-width="0.3" />
<text x="228.00" y="570.90" font-size="2.4" text-anchor="middle" fill="#333" >0</text>
<line x1="239.00" y1="567.20" x2="239.00" y2="567.90" stroke="#333" stroke-width="0.3" />
<text x="239.00" y="570.90" font-size="2.4" text-anchor="middle" fill="#333" >1</text>
<line x1="250.00" y1="567.20" x2="250.00" y2="567.90" stroke="#333" stroke-width="0.3" />
<text x="250.00" y="570.90" font-size="2.4" text-anchor="middle" fill="#333" >2</text>
<text x="0" y="0" font-size="2.6" text-anchor="middle" fill="#111" transform="translate(169.20,533.50) rotate(-90)">Frequency</text>
<text x="216.55" y="574.10" font-size="2.6" text-anchor="middle" fill="#111" >log<tspan font-size="1.7" dy="0.6">10</tspan><tspan dy="-0.6"> Flux (mmol/g DCW</tspan><tspan font-size="1.6" dy="-0.9">-1</tspan><tspan dy="0.9"> hr</tspan><tspan font-size="1.6" dy="-0.9">-1</tspan><tspan dy="0.9">)</tspan></text>
<rect x="73.50" y="720.60" width="103.30" height="85.90" fill="#fff" stroke="#b84fd6" stroke-width="1.0" />
<line x1="83.60" y1="731.79" x2="172.90" y2="731.79" stroke="#c4c4c4" stroke-width="0.3" stroke-dasharray="0.5,1"/>
<line x1="83.60" y1="738.98" x2="172.90" y2="738.98" stroke="#c4c4c4" stroke-width="0.3" stroke-dasharray="0.5,1"/>
<line x1="83.60" y1="746.17" x2="172.90" y2="746.17" stroke="#c4c4c4" stroke-width="0.3" stroke-dasharray="0.5,1"/>
<line x1="83.60" y1="753.36" x2="172.90" y2="753.36" stroke="#c4c4c4" stroke-width="0.3" stroke-dasharray="0.5,1"/>
<line x1="83.60" y1="760.55" x2="172.90" y2="760.55" stroke="#c4c4c4" stroke-width="0.3" stroke-dasharray="0.5,1"/>
<line x1="83.60" y1="767.74" x2="172.90" y2="767.74" stroke="#c4c4c4" stroke-width="0.3" stroke-dasharray="0.5,1"/>
<line x1="83.60" y1="774.93" x2="172.90" y2="774.93" stroke="#c4c4c4" stroke-width="0.3" stroke-dasharray="0.5,1"/>
<line x1="83.60" y1="782.12" x2="172.90" y2="782.12" stroke="#c4c4c4" stroke-width="0.3" stroke-dasharray="0.5,1"/>
<line x1="83.60" y1="789.31" x2="172.90" y2="789.31" stroke="#c4c4c4" stroke-width="0.3" stroke-dasharray="0.5,1"/>
<line x1="91.04" y1="724.60" x2="91.04" y2="796.50" stroke="#c4c4c4" stroke-width="0.3" stroke-dasharray="0.5,1"/>
<line x1="98.48" y1="724.60" x2="98.48" y2="796.50" stroke="#c4c4c4" stroke-width="0.3" stroke-dasharray="0.5,1"/>
<line x1="105.92" y1="724.60" x2="105.92" y2="796.50" stroke="#c4c4c4" stroke-width="0.3" stroke-dasharray="0.5,1"/>
<line x1="113.37" y1="724.60" x2="113.37" y2="796.50" stroke="#c4c4c4" stroke-width="0.3" stroke-dasharray="0.5,1"/>
<line x1="120.81" y1="724.60" x2="120.81" y2="796.50" stroke="#c4c4c4" stroke-width="0.3" stroke-dasharray="0.5,1"/>
<line x1="128.25" y1="724.60" x2="128.25" y2="796.50" stroke="#c4c4c4" stroke-width="0.3" stroke-dasharray="0.5,1"/>
<line x1="135.69" y1="724.60" x2="135.69" y2="796.50" stroke="#c4c4c4" stroke-width="0.3" stroke-dasharray="0.5,1"/>
<line x1="143.13" y1="724.60" x2="143.13" y2="796.50" stroke="#c4c4c4" stroke-width="0.3" stroke-dasharray="0.5,1"/>
<line x1="150.57" y1="724.60" x2="150.57" y2="796.50" stroke="#c4c4c4" stroke-width="0.3" stroke-dasharray="0.5,1"/>
<line x1="158.02" y1="724.60" x2="158.02" y2="796.50" stroke="#c4c4c4" stroke-width="0.3" stroke-dasharray="0.5,1"/>
<line x1="165.46" y1="724.60" x2="165.46" y2="796.50" stroke="#c4c4c4" stroke-width="0.3" stroke-dasharray="0.5,1"/>
<rect x="93.97" y="796.19" width="0.85" height="0.31" fill="#4a140e" stroke="#6a1c14" stroke-width="0.12"/>
<rect x="94.82" y="796.17" width="0.85" height="0.33" fill="#4a140e" stroke="#6a1c14" stroke-width="0.12"/>
<rect x="95.67" y="796.12" width="0.85" height="0.38" fill="#4a140e" stroke="#6a1c14" stroke-width="0.12"/>
<rect x="96.52" y="796.07" width="0.85" height="0.43" fill="#4a140e" stroke="#6a1c14" stroke-width="0.12"/>
<rect x="97.37" y="796.05" width="0.85" height="0.45" fill="#4a140e" stroke="#6a1c14" stroke-width="0.12"/>
<rect x="98.22" y="795.99" width="0.85" height="0.51" fill="#4a140e" stroke="#6a1c14" stroke-width="0.12"/>
<rect x="99.07" y="795.93" width="0.85" height="0.57" fill="#4a140e" stroke="#6a1c14" stroke-width="0.12"/>
<rect x="99.92" y="795.83" width="0.85" height="0.67" fill="#4a140e" stroke="#6a1c14" stroke-width="0.12"/>
<rect x="100.77" y="795.80" width="0.85" height="0.70" fill="#4a140e" stroke="#6a1c14" stroke-width="0.12"/>
<rect x="101.62" y="795.74" width="0.85" height="0.76" fill="#4a140e" stroke="#6a1c14" stroke-width="0.12"/>
<rect x="102.47" y="795.59" width="0.85" height="0.91" fill="#4a140e" stroke="#6a1c14" stroke-width="0.12"/>
<rect x="103.32" y="795.48" width="0.85" height="1.02" fill="#4a140e" stroke="#6a1c14" stroke-width="0.12"/>
<rect x="104.17" y="795.43" width="0.85" height="1.07" fill="#4a140e" stroke="#6a1c14" stroke-width="0.12"/>
<rect x="105.02" y="795.26" width="0.85" height="1.24" fill="#4a140e" stroke="#6a1c14" stroke-width="0.12"/>
<rect x="105.87" y="795.08" width="0.85" height="1.42" fill="#4a140e" stroke="#6a1c14" stroke-width="0.12"/>
<rect x="106.72" y="795.01" width="0.85" height="1.49" fill="#4a140e" stroke="#6a1c14" stroke-width="0.12"/>
<rect x="107.57" y="794.80" width="0.85" height="1.70" fill="#4a140e" stroke="#6a1c14" stroke-width="0.12"/>
<rect x="108.42" y="794.62" width="0.85" height="1.88" fill="#4a140e" stroke="#6a1c14" stroke-width="0.12"/>
<rect x="109.27" y="794.40" width="0.85" height="2.10" fill="#4a140e" stroke="#6a1c14" stroke-width="0.12"/>
<rect x="110.12" y="794.14" width="0.85" height="2.36" fill="#4a140e" stroke="#6a1c14" stroke-width="0.12"/>
<rect x="110.97" y="793.76" width="0.85" height="2.74" fill="#4a140e" stroke="#6a1c14" stroke-width="0.12"/>
<rect x="111.82" y="793.57" width="0.85" height="2.93" fill="#4a140e" stroke="#6a1c14" stroke-width="0.12"/>
<rect x="112.67" y="793.80" width="0.85" height="2.70" fill="#4a140e" stroke="#6a1c14" stroke-width="0.12"/>
<rect x="113.52" y="794.08" width="0.85" height="2.42" fill="#4a140e" stroke="#6a1c14" stroke-width="0.12"/>
<rect x="114.37" y="793.80" width="0.85" height="2.70" fill="#4a140e" stroke="#6a1c14" stroke-width="0.12"/>
<rect x="115.22" y="793.65" width="0.85" height="2.85" fill="#4a140e" stroke="#6a1c14" stroke-width="0.12"/>
<rect x="116.07" y="792.96" width="0.85" height="3.54" fill="#4a140e" stroke="#6a1c14" stroke-width="0.12"/>
<rect x="116.92" y="791.79" width="0.85" height="4.71" fill="#4a140e" stroke="#6a1c14" stroke-width="0.12"/>
<rect x="117.77" y="790.00" width="0.85" height="6.50" fill="#4a140e" stroke="#6a1c14" stroke-width="0.12"/>
<rect x="118.62" y="786.98" width="0.85" height="9.52" fill="#4a140e" stroke="#6a1c14" stroke-width="0.12"/>
<rect x="119.47" y="783.54" width="0.85" height="12.96" fill="#4a140e" stroke="#6a1c14" stroke-width="0.12"/>
<rect x="120.32" y="777.87" width="0.85" height="18.63" fill="#4a140e" stroke="#6a1c14" stroke-width="0.12"/>
<rect x="121.17" y="770.10" width="0.85" height="26.40" fill="#4a140e" stroke="#6a1c14" stroke-width="0.12"/>
<rect x="122.02" y="763.48" width="0.85" height="33.02" fill="#4a140e" stroke="#6a1c14" stroke-width="0.12"/>
<rect x="122.87" y="756.31" width="0.85" height="40.19" fill="#4a140e" stroke="#6a1c14" stroke-width="0.12"/>
<rect x="123.72" y="745.00" width="0.85" height="51.50" fill="#4a140e" stroke="#6a1c14" stroke-width="0.12"/>
<rect x="124.57" y="740.58" width="0.85" height="55.92" fill="#4a140e" stroke="#6a1c14" stroke-width="0.12"/>
<rect x="125.42" y="745.14" width="0.85" height="51.36" fill="#4a140e" stroke="#6a1c14" stroke-width="0.12"/>
<rect x="126.27" y="753.40" width="0.85" height="43.10" fill="#4a140e" stroke="#6a1c14" stroke-width="0.12"/>
<rect x="127.12" y="759.99" width="0.85" height="36.51" fill="#4a140e" stroke="#6a1c14" stroke-width="0.12"/>
<rect x="127.97" y="767.31" width="0.85" height="29.19" fill="#4a140e" stroke="#6a1c14" stroke-width="0.12"/>
<rect x="128.82" y="772.90" width="0.85" height="23.60" fill="#4a140e" stroke="#6a1c14" stroke-width="0.12"/>
<rect x="129.67" y="777.83" width="0.85" height="18.67" fill="#4a140e" stroke="#6a1c14" stroke-width="0.12"/>
<rect x="130.52" y="783.56" width="0.85" height="12.94" fill="#4a140e" stroke="#6a1c14" stroke-width="0.12"/>
<rect x="131.37" y="786.80" width="0.85" height="9.70" fill="#4a140e" stroke="#6a1c14" stroke-width="0.12"/>
<rect x="132.22" y="789.67" width="0.85" height="6.83" fill="#4a140e" stroke="#6a1c14" stroke-width="0.12"/>
<rect x="133.07" y="791.52" width="0.85" height="4.98" fill="#4a140e" stroke="#6a1c14" stroke-width="0.12"/>
<rect x="133.92" y="792.97" width="0.85" height="3.53" fill="#4a140e" stroke="#6a1c14" stroke-width="0.12"/>
<rect x="134.77" y="794.26" width="0.85" height="2.24" fill="#4a140e" stroke="#6a1c14" stroke-width="0.12"/>
<rect x="135.62" y="795.01" width="0.85" height="1.49" fill="#4a140e" stroke="#6a1c14" stroke-width="0.12"/>
<rect x="136.47" y="795.49" width="0.85" height="1.01" fill="#4a140e" stroke="#6a1c14" stroke-width="0.12"/>
<rect x="137.32" y="795.83" width="0.85" height="0.67" fill="#4a140e" stroke="#6a1c14" stroke-width="0.12"/>
<rect x="138.17" y="796.07" width="0.85" height="0.43" fill="#4a140e" stroke="#6a1c14" stroke-width="0.12"/>
<rect x="138.42" y="796.11" width="0.85" height="0.39" fill="#2e2e2e" stroke="#444" stroke-width="0.12"/>
<rect x="139.27" y="795.82" width="0.85" height="0.68" fill="#2e2e2e" stroke="#444" stroke-width="0.12"/>
<rect x="140.12" y="795.25" width="0.85" height="1.25" fill="#2e2e2e" stroke="#444" stroke-width="0.12"/>
<rect x="140.97" y="794.12" width="0.85" height="2.38" fill="#2e2e2e" stroke="#444" stroke-width="0.12"/>
<rect x="141.82" y="792.18" width="0.85" height="4.32" fill="#2e2e2e" stroke="#444" stroke-width="0.12"/>
<rect x="142.67" y="788.92" width="0.85" height="7.58" fill="#2e2e2e" stroke="#444" stroke-width="0.12"/>
<rect x="143.52" y="784.44" width="0.85" height="12.06" fill="#2e2e2e" stroke="#444" stroke-width="0.12"/>
<rect x="144.37" y="776.58" width="0.85" height="19.92" fill="#2e2e2e" stroke="#444" stroke-width="0.12"/>
<rect x="145.22" y="768.40" width="0.85" height="28.10" fill="#2e2e2e" stroke="#444" stroke-width="0.12"/>
<rect x="146.07" y="756.51" width="0.85" height="39.99" fill="#2e2e2e" stroke="#444" stroke-width="0.12"/>
<rect x="146.92" y="745.53" width="0.85" height="50.97" fill="#2e2e2e" stroke="#444" stroke-width="0.12"/>
<rect x="147.77" y="734.52" width="0.85" height="61.98" fill="#2e2e2e" stroke="#444" stroke-width="0.12"/>
<rect x="148.62" y="739.24" width="0.85" height="57.26" fill="#2e2e2e" stroke="#444" stroke-width="0.12"/>
<rect x="149.47" y="745.83" width="0.85" height="50.67" fill="#2e2e2e" stroke="#444" stroke-width="0.12"/>
<rect x="150.32" y="754.63" width="0.85" height="41.87" fill="#2e2e2e" stroke="#444" stroke-width="0.12"/>
<rect x="151.17" y="760.81" width="0.85" height="35.69" fill="#2e2e2e" stroke="#444" stroke-width="0.12"/>
<rect x="152.02" y="767.02" width="0.85" height="29.48" fill="#2e2e2e" stroke="#444" stroke-width="0.12"/>
<rect x="152.87" y="773.83" width="0.85" height="22.67" fill="#2e2e2e" stroke="#444" stroke-width="0.12"/>
<rect x="153.72" y="776.81" width="0.85" height="19.69" fill="#2e2e2e" stroke="#444" stroke-width="0.12"/>
<rect x="154.57" y="781.01" width="0.85" height="15.49" fill="#2e2e2e" stroke="#444" stroke-width="0.12"/>
<rect x="155.42" y="782.05" width="0.85" height="14.45" fill="#2e2e2e" stroke="#444" stroke-width="0.12"/>
<rect x="156.27" y="783.81" width="0.85" height="12.69" fill="#2e2e2e" stroke="#444" stroke-width="0.12"/>
<rect x="157.12" y="785.44" width="0.85" height="11.06" fill="#2e2e2e" stroke="#444" stroke-width="0.12"/>
<rect x="157.97" y="787.45" width="0.85" height="9.05" fill="#2e2e2e" stroke="#444" stroke-width="0.12"/>
<rect x="158.82" y="789.00" width="0.85" height="7.50" fill="#2e2e2e" stroke="#444" stroke-width="0.12"/>
<rect x="159.67" y="789.85" width="0.85" height="6.65" fill="#2e2e2e" stroke="#444" stroke-width="0.12"/>
<rect x="160.52" y="786.91" width="0.85" height="9.59" fill="#2e2e2e" stroke="#444" stroke-width="0.12"/>
<rect x="161.37" y="788.67" width="0.85" height="7.83" fill="#2e2e2e" stroke="#444" stroke-width="0.12"/>
<rect x="162.22" y="792.50" width="0.85" height="4.00" fill="#2e2e2e" stroke="#444" stroke-width="0.12"/>
<rect x="163.07" y="794.07" width="0.85" height="2.43" fill="#2e2e2e" stroke="#444" stroke-width="0.12"/>
<rect x="163.92" y="794.51" width="0.85" height="1.99" fill="#2e2e2e" stroke="#444" stroke-width="0.12"/>
<rect x="164.77" y="794.97" width="0.85" height="1.53" fill="#2e2e2e" stroke="#444" stroke-width="0.12"/>
<rect x="165.62" y="795.13" width="0.85" height="1.37" fill="#2e2e2e" stroke="#444" stroke-width="0.12"/>
<rect x="166.47" y="795.43" width="0.85" height="1.07" fill="#2e2e2e" stroke="#444" stroke-width="0.12"/>
<rect x="167.32" y="795.59" width="0.85" height="0.91" fill="#2e2e2e" stroke="#444" stroke-width="0.12"/>
<rect x="168.17" y="795.71" width="0.85" height="0.79" fill="#2e2e2e" stroke="#444" stroke-width="0.12"/>
<rect x="169.02" y="795.86" width="0.85" height="0.64" fill="#2e2e2e" stroke="#444" stroke-width="0.12"/>
<rect x="169.87" y="795.97" width="0.85" height="0.53" fill="#2e2e2e" stroke="#444" stroke-width="0.12"/>
<rect x="170.72" y="796.06" width="0.85" height="0.44" fill="#2e2e2e" stroke="#444" stroke-width="0.12"/>
<rect x="171.57" y="796.12" width="0.85" height="0.38" fill="#2e2e2e" stroke="#444" stroke-width="0.12"/>
<rect x="83.60" y="724.60" width="89.30" height="71.90" fill="none" stroke="#222" stroke-width="0.5" />
<text x="128.25" y="724.10" font-size="2.3" text-anchor="middle" font-weight="bold" fill="#222" textLength="50" lengthAdjust="spacingAndGlyphs">H2O [c] + trehalose [c] -> 2 glucose [c]</text>
<rect x="86.90" y="729.30" width="7.00" height="2.60" fill="#555" stroke="none" stroke-width="1" />
<rect x="86.90" y="733.20" width="7.00" height="2.60" fill="#d04030" stroke="none" stroke-width="1" />
<text x="94.40" y="731.50" font-size="2.2" text-anchor="start" fill="#111" >NSD</text>
<text x="94.40" y="735.40" font-size="2.2" text-anchor="start" fill="#111" >HSD</text>
<line x1="82.90" y1="796.50" x2="83.60" y2="796.50" stroke="#333" stroke-width="0.3" />
<text x="82.60" y="797.10" font-size="1.8" text-anchor="end" fill="#333" >0.00</text>
<line x1="82.90" y1="788.93" x2="83.60" y2="788.93" stroke="#333" stroke-width="0.3" />
<text x="82.60" y="789.53" font-size="1.8" text-anchor="end" fill="#333" >0.01</text>
<line x1="82.90" y1="781.36" x2="83.60" y2="781.36" stroke="#333" stroke-width="0.3" />
<text x="82.60" y="781.96" font-size="1.8" text-anchor="end" fill="#333" >0.02</text>
<line x1="82.90" y1="773.79" x2="83.60" y2="773.79" stroke="#333" stroke-width="0.3" />
<text x="82.60" y="774.39" font-size="1.8" text-anchor="end" fill="#333" >0.03</text>
<line x1="82.90" y1="766.23" x2="83.60" y2="766.23" stroke="#333" stroke-width="0.3" />
<text x="82.60" y="766.83" font-size="1.8" text-anchor="end" fill="#333" >0.04</text>
<line x1="82.90" y1="758.66" x2="83.60" y2="758.66" stroke="#333" stroke-width="0.3" />
<text x="82.60" y="759.26" font-size="1.8" text-anchor="end" fill="#333" >0.05</text>
<line x1="82.90" y1="751.09" x2="83.60" y2="751.09" stroke="#333" stroke-width="0.3" />
<text x="82.60" y="751.69" font-size="1.8" text-anchor="end" fill="#333" >0.06</text>
<line x1="82.90" y1="743.52" x2="83.60" y2="743.52" stroke="#333" stroke-width="0.3" />
<text x="82.60" y="744.12" font-size="1.8" text-anchor="end" fill="#333" >0.07</text>
<line x1="82.90" y1="735.95" x2="83.60" y2="735.95" stroke="#333" stroke-width="0.3" />
<text x="82.60" y="736.55" font-size="1.8" text-anchor="end" fill="#333" >0.08</text>
<line x1="82.90" y1="728.38" x2="83.60" y2="728.38" stroke="#333" stroke-width="0.3" />
<text x="82.60" y="728.98" font-size="1.8" text-anchor="end" fill="#333" >0.09</text>
<line x1="93.00" y1="796.50" x2="93.00" y2="797.20" stroke="#333" stroke-width="0.3" />
<text x="93.00" y="799.60" font-size="2.4" text-anchor="middle" fill="#333" >-4</text>
<line x1="106.00" y1="796.50" x2="106.00" y2="797.20" stroke="#333" stroke-width="0.3" />
<text x="106.00" y="799.60" font-size="2.4" text-anchor="middle" fill="#333" >-3</text>
<line x1="119.00" y1="796.50" x2="119.00" y2="797.20" stroke="#333" stroke-width="0.3" />
<text x="119.00" y="799.60" font-size="2.4" text-anchor="middle" fill="#333" >-2</text>
<line x1="132.00" y1="796.50" x2="132.00" y2="797.20" stroke="#333" stroke-width="0.3" />
<text x="132.00" y="799.60" font-size="2.4" text-anchor="middle" fill="#333" >-1</text>
<line x1="145.00" y1="796.50" x2="145.00" y2="797.20" stroke="#333" stroke-width="0.3" />
<text x="145.00" y="799.60" font-size="2.4" text-anchor="middle" fill="#333" >0</text>
<line x1="158.00" y1="796.50" x2="158.00" y2="797.20" stroke="#333" stroke-width="0.3" />
<text x="158.00" y="799.60" font-size="2.4" text-anchor="middle" fill="#333" >1</text>
<line x1="170.00" y1="796.50" x2="170.00" y2="797.20" stroke="#333" stroke-width="0.3" />
<text x="170.00" y="799.60" font-size="2.4" text-anchor="middle" fill="#333" >2</text>
<text x="0" y="0" font-size="2.6" text-anchor="middle" fill="#111" transform="translate(78.00,760.55) rotate(-90)">Frequency</text>
<text x="128.25" y="802.80" font-size="2.6" text-anchor="middle" fill="#111" >log<tspan font-size="1.7" dy="0.6">10</tspan><tspan dy="-0.6"> Flux (mmol/g DCW</tspan><tspan font-size="1.6" dy="-0.9">-1</tspan><tspan dy="0.9"> hr</tspan><tspan font-size="1.6" dy="-0.9">-1</tspan><tspan dy="0.9">)</tspan></text>
<rect x="367.30" y="608.40" width="146.10" height="75.90" fill="#fff" stroke="#3cb44b" stroke-width="0.8" />
<text x="382.00" y="613.81" font-size="5.05" text-anchor="start" fill="#111" >Pfk oxidation</text>
<rect x="379.10" y="615.30" width="16.80" height="1.20" fill="#222" stroke="none" stroke-width="1" />
<rect x="395.90" y="615.30" width="17.60" height="1.20" fill="#d42020" stroke="none" stroke-width="1" />
<rect x="379.10" y="617.70" width="2.92" height="7.32" fill="#a9a9db"/>
<rect x="379.10" y="624.98" width="2.92" height="7.32" fill="#4848b2"/>
<rect x="379.10" y="632.25" width="2.92" height="7.32" fill="#4848b2"/>
<rect x="379.10" y="639.52" width="2.92" height="7.32" fill="#4848b2"/>
<rect x="379.10" y="646.80" width="2.92" height="7.32" fill="#4848b2"/>
<rect x="379.10" y="654.08" width="2.92" height="7.32" fill="#5d5dbb"/>
<rect x="379.10" y="661.35" width="2.92" height="7.32" fill="#4848b2"/>
<rect x="379.10" y="668.62" width="2.92" height="7.32" fill="#5d5dbb"/>
<rect x="381.97" y="617.70" width="2.92" height="7.32" fill="#7e7ec9"/>
<rect x="381.97" y="624.98" width="2.92" height="7.32" fill="#5d5dbb"/>
<rect x="381.97" y="632.25" width="2.92" height="7.32" fill="#5353b7"/>
<rect x="381.97" y="639.52" width="2.92" height="7.32" fill="#5353b7"/>
<rect x="381.97" y="646.80" width="2.92" height="7.32" fill="#4848b2"/>
<rect x="381.97" y="654.08" width="2.92" height="7.32" fill="#6868c0"/>
<rect x="381.97" y="661.35" width="2.92" height="7.32" fill="#5d5dbb"/>
<rect x="381.97" y="668.62" width="2.92" height="7.32" fill="#6868c0"/>
<rect x="384.83" y="617.70" width="2.92" height="7.32" fill="#7e7ec9"/>
<rect x="384.83" y="624.98" width="2.92" height="7.32" fill="#6868c0"/>
<rect x="384.83" y="632.25" width="2.92" height="7.32" fill="#5353b7"/>
<rect x="384.83" y="639.52" width="2.92" height="7.32" fill="#6868c0"/>
<rect x="384.83" y="646.80" width="2.92" height="7.32" fill="#7373c4"/>
<rect x="384.83" y="654.08" width="2.92" height="7.32" fill="#a9a9db"/>
<rect x="384.83" y="661.35" width="2.92" height="7.32" fill="#9393d2"/>
<rect x="384.83" y="668.62" width="2.92" height="7.32" fill="#6868c0"/>
<rect x="387.70" y="617.70" width="2.92" height="7.32" fill="#4848b2"/>
<rect x="387.70" y="624.98" width="2.92" height="7.32" fill="#5d5dbb"/>
<rect x="387.70" y="632.25" width="2.92" height="7.32" fill="#5d5dbb"/>
<rect x="387.70" y="639.52" width="2.92" height="7.32" fill="#6868c0"/>
<rect x="387.70" y="646.80" width="2.92" height="7.32" fill="#9e9ed6"/>
<rect x="387.70" y="654.08" width="2.92" height="7.32" fill="#5353b7"/>
<rect x="387.70" y="661.35" width="2.92" height="7.32" fill="#6868c0"/>
<rect x="387.70" y="668.62" width="2.92" height="7.32" fill="#7373c4"/>
<rect x="390.57" y="617.70" width="2.92" height="7.32" fill="#4848b2"/>
<rect x="390.57" y="624.98" width="2.92" height="7.32" fill="#6868c0"/>
<rect x="390.57" y="632.25" width="2.92" height="7.32" fill="#6868c0"/>
<rect x="390.57" y="639.52" width="2.92" height="7.32" fill="#7373c4"/>
<rect x="390.57" y="646.80" width="2.92" height="7.32" fill="#7373c4"/>
<rect x="390.57" y="654.08" width="2.92" height="7.32" fill="#dedef1"/>
<rect x="390.57" y="661.35" width="2.92" height="7.32" fill="#7373c4"/>
<rect x="390.57" y="668.62" width="2.92" height="7.32" fill="#9393d2"/>
<rect x="393.43" y="617.70" width="2.92" height="7.32" fill="#e9e9f6"/>
<rect x="393.43" y="624.98" width="2.92" height="7.32" fill="#6868c0"/>
<rect x="393.43" y="632.25" width="2.92" height="7.32" fill="#7373c4"/>
<rect x="393.43" y="639.52" width="2.92" height="7.32" fill="#7373c4"/>
<rect x="393.43" y="646.80" width="2.92" height="7.32" fill="#6868c0"/>
<rect x="393.43" y="654.08" width="2.92" height="7.32" fill="#bebee4"/>
<rect x="393.43" y="661.35" width="2.92" height="7.32" fill="#7e7ec9"/>
<rect x="393.43" y="668.62" width="2.92" height="7.32" fill="#5d5dbb"/>
<rect x="396.30" y="617.70" width="2.92" height="7.32" fill="#f09793"/>
<rect x="396.30" y="624.98" width="2.92" height="7.32" fill="#fadcdb"/>
<rect x="396.30" y="632.25" width="2.92" height="7.32" fill="#f5bab7"/>
<rect x="396.30" y="639.52" width="2.92" height="7.32" fill="#f4f4fa"/>
<rect x="396.30" y="646.80" width="2.92" height="7.32" fill="#f4f4fa"/>
<rect x="396.30" y="654.08" width="2.92" height="7.32" fill="#f4f4fa"/>
<rect x="396.30" y="661.35" width="2.92" height="7.32" fill="#ffffff"/>
<rect x="396.30" y="668.62" width="2.92" height="7.32" fill="#dedef1"/>
<rect x="399.17" y="617.70" width="2.92" height="7.32" fill="#f6c5c3"/>
<rect x="399.17" y="624.98" width="2.92" height="7.32" fill="#f1a39f"/>
<rect x="399.17" y="632.25" width="2.92" height="7.32" fill="#f5bab7"/>
<rect x="399.17" y="639.52" width="2.92" height="7.32" fill="#fadcdb"/>
<rect x="399.17" y="646.80" width="2.92" height="7.32" fill="#ffffff"/>
<rect x="399.17" y="654.08" width="2.92" height="7.32" fill="#f4f4fa"/>
<rect x="399.17" y="661.35" width="2.92" height="7.32" fill="#dedef1"/>
<rect x="399.17" y="668.62" width="2.92" height="7.32" fill="#e9e9f6"/>
<rect x="402.03" y="617.70" width="2.92" height="7.32" fill="#d4d4ed"/>
<rect x="402.03" y="624.98" width="2.92" height="7.32" fill="#ffffff"/>
<rect x="402.03" y="632.25" width="2.92" height="7.32" fill="#dedef1"/>
<rect x="402.03" y="639.52" width="2.92" height="7.32" fill="#f4f4fa"/>
<rect x="402.03" y="646.80" width="2.92" height="7.32" fill="#f4f4fa"/>
<rect x="402.03" y="654.08" width="2.92" height="7.32" fill="#5353b7"/>
<rect x="402.03" y="661.35" width="2.92" height="7.32" fill="#e9e9f6"/>
<rect x="402.03" y="668.62" width="2.92" height="7.32" fill="#c9c9e8"/>
<rect x="404.90" y="617.70" width="2.92" height="7.32" fill="#f5bab7"/>
<rect x="404.90" y="624.98" width="2.92" height="7.32" fill="#f6c5c3"/>
<rect x="404.90" y="632.25" width="2.92" height="7.32" fill="#eb756f"/>
<rect x="404.90" y="639.52" width="2.92" height="7.32" fill="#e4473f"/>
<rect x="404.90" y="646.80" width="2.92" height="7.32" fill="#eb756f"/>
<rect x="404.90" y="654.08" width="2.92" height="7.32" fill="#eb756f"/>
<rect x="404.90" y="661.35" width="2.92" height="7.32" fill="#df241b"/>
<rect x="404.90" y="668.62" width="2.92" height="7.32" fill="#df241b"/>
<rect x="407.77" y="617.70" width="2.92" height="7.32" fill="#5353b7"/>
<rect x="407.77" y="624.98" width="2.92" height="7.32" fill="#e9e9f6"/>
<rect x="407.77" y="632.25" width="2.92" height="7.32" fill="#dedef1"/>
<rect x="407.77" y="639.52" width="2.92" height="7.32" fill="#ffffff"/>
<rect x="407.77" y="646.80" width="2.92" height="7.32" fill="#f1a39f"/>
<rect x="407.77" y="654.08" width="2.92" height="7.32" fill="#ee8c87"/>
<rect x="407.77" y="661.35" width="2.92" height="7.32" fill="#f4f4fa"/>
<rect x="407.77" y="668.62" width="2.92" height="7.32" fill="#f4f4fa"/>
<rect x="410.63" y="617.70" width="2.92" height="7.32" fill="#ffffff"/>
<rect x="410.63" y="624.98" width="2.92" height="7.32" fill="#fbe8e7"/>
<rect x="410.63" y="632.25" width="2.92" height="7.32" fill="#e9e9f6"/>
<rect x="410.63" y="639.52" width="2.92" height="7.32" fill="#a9a9db"/>
<rect x="410.63" y="646.80" width="2.92" height="7.32" fill="#f4f4fa"/>
<rect x="410.63" y="654.08" width="2.92" height="7.32" fill="#dedef1"/>
<rect x="410.63" y="661.35" width="2.92" height="7.32" fill="#f4f4fa"/>
<rect x="410.63" y="668.62" width="2.92" height="7.32" fill="#f4f4fa"/>
<text x="414.20" y="622.45" font-size="2.4" text-anchor="start" fill="#222" textLength="77.6" lengthAdjust="spacingAndGlyphs">Pfk_EGYQGMIQ[15.9949]VDGSDQCIQ[15.9949]TQDLRMYKQHGGKHR</text>
<text x="414.20" y="630.05" font-size="2.4" text-anchor="start" fill="#222" textLength="38.9" lengthAdjust="spacingAndGlyphs">Pfk_GI.0GDVTPIM[15.9949]QNR</text>
<text x="414.20" y="637.05" font-size="2.4" text-anchor="start" fill="#222" textLength="31.6" lengthAdjust="spacingAndGlyphs">Pfk_TFGE[15.9949]ETVMIQR</text>
<text x="414.20" y="643.85" font-size="2.4" text-anchor="start" fill="#222" textLength="55.4" lengthAdjust="spacingAndGlyphs">Pfk_QKGLAYTDDSDGM[15.9949]AHHR</text>
<text x="414.20" y="651.65" font-size="2.4" text-anchor="start" fill="#222" textLength="60.0" lengthAdjust="spacingAndGlyphs">Pfk_M[15.9949]GLGHM[15.9949]QGGDGTPTGR</text>
<text x="414.20" y="658.95" font-size="2.4" text-anchor="start" fill="#222" textLength="71.7" lengthAdjust="spacingAndGlyphs">Pfk_LAVM[15.9949]GAPAC[15.9949]TQ[15.9949]GGDKVR</text>
<text x="414.20" y="666.25" font-size="2.4" text-anchor="start" fill="#222" textLength="49.8" lengthAdjust="spacingAndGlyphs">Pfk_M[15.9949]GLGHM[15.9949]QGGDGTPTGR</text>
<text x="414.20" y="673.55" font-size="2.4" text-anchor="start" fill="#222" textLength="45.4" lengthAdjust="spacingAndGlyphs">Pfk_VPLM[15.9949]DQ[15.9949]TQQTGR</text>
<text x="493.80" y="630.60" font-size="2.8" text-anchor="start" font-weight="bold" fill="#111" textLength="15.9" lengthAdjust="spacingAndGlyphs">Condition</text>
<rect x="493.80" y="632.50" width="5.00" height="4.70" fill="#3a3a3a" stroke="none" stroke-width="1" />
<rect x="493.80" y="637.20" width="5.00" height="5.00" fill="#d42020" stroke="none" stroke-width="1" />
<text x="499.90" y="635.80" font-size="2.6" text-anchor="start" fill="#333" >NSD</text>
<text x="499.90" y="640.60" font-size="2.6" text-anchor="start" fill="#333" >HSD</text>
<text x="496.60" y="653.50" font-size="1.6" text-anchor="start" fill="#444" >2</text>
<text x="496.60" y="660.50" font-size="1.6" text-anchor="start" fill="#444" >1</text>
<text x="496.60" y="667.50" font-size="1.6" text-anchor="start" fill="#444" >0</text>
<text x="496.60" y="674.50" font-size="1.6" text-anchor="start" fill="#444" >-1</text>
<defs><linearGradient id="brg" x1="0" y1="0" x2="0" y2="1"><stop offset="0" stop-color="#e02828"/><stop offset="0.5" stop-color="#ffffff"/><stop offset="1" stop-color="#3c3caf"/></linearGradient></defs>
<rect x="493.80" y="648.00" width="2.00" height="29.70" fill="url(#brg)" stroke="none" stroke-width="1" />
<rect x="73.30" y="663.70" width="103.00" height="51.80" fill="#fff" stroke="#3cb44b" stroke-width="0.8" />
<text x="79.00" y="673.11" font-size="5.06" text-anchor="start" fill="#111" >Treh oxidation</text>
<rect x="78.00" y="675.30" width="15.70" height="1.00" fill="#444" stroke="none" stroke-width="1" />
<rect x="93.70" y="675.30" width="15.50" height="1.00" fill="#d42020" stroke="none" stroke-width="1" />
<rect x="78.00" y="676.80" width="2.55" height="33.05" fill="#4848b2"/>
<rect x="80.50" y="676.80" width="2.75" height="33.05" fill="#9e9ed6"/>
<rect x="83.20" y="676.80" width="2.95" height="33.05" fill="#8888cd"/>
<rect x="86.10" y="676.80" width="2.65" height="33.05" fill="#9e9ed6"/>
<rect x="88.70" y="676.80" width="5.05" height="33.05" fill="#6868c0"/>
<rect x="93.70" y="676.80" width="2.35" height="33.05" fill="#e6524b"/>
<rect x="96.00" y="676.80" width="2.95" height="33.05" fill="#ffffff"/>
<rect x="98.90" y="676.80" width="5.05" height="33.05" fill="#dedef1"/>
<rect x="103.90" y="676.80" width="2.95" height="33.05" fill="#e6524b"/>
<rect x="106.80" y="676.80" width="2.45" height="33.05" fill="#df241b"/>
<text x="112.20" y="694.75" font-size="4.06" text-anchor="start" fill="#222" >Treh_AGAESGM[15.9949]DFSSR</text>
<text x="163.10" y="665.90" font-size="1.3" text-anchor="start" font-weight="bold" fill="#222" textLength="8.2" lengthAdjust="spacingAndGlyphs">Condition</text>
<rect x="163.10" y="667.00" width="2.80" height="2.00" fill="#333" stroke="none" stroke-width="1" />
<rect x="163.10" y="669.20" width="2.80" height="2.60" fill="#d42020" stroke="none" stroke-width="1" />
<text x="166.30" y="668.60" font-size="1.3" text-anchor="start" fill="#444" >NSD</text>
<text x="166.30" y="671.00" font-size="1.3" text-anchor="start" fill="#444" >HSD</text>
<rect x="163.10" y="673.90" width="1.70" height="15.20" fill="url(#brg)" stroke="none" stroke-width="1" />
<rect x="383.30" y="727.20" width="110.30" height="85.30" fill="#fff" stroke="#3cb44b" stroke-width="0.8" />
<text x="388.80" y="733.91" font-size="5.05" text-anchor="start" fill="#111" >Aldo oxidation</text>
<rect x="389.00" y="736.10" width="13.20" height="1.20" fill="#222" stroke="none" stroke-width="1" />
<rect x="402.20" y="736.10" width="13.80" height="1.20" fill="#d42020" stroke="none" stroke-width="1" />
<rect x="389.00" y="737.80" width="3.65" height="35.80" fill="#4848b2"/>
<rect x="389.00" y="773.55" width="3.65" height="35.80" fill="#4848b2"/>
<rect x="392.60" y="737.80" width="1.95" height="35.80" fill="#5d5dbb"/>
<rect x="392.60" y="773.55" width="1.95" height="35.80" fill="#5353b7"/>
<rect x="394.50" y="737.80" width="2.45" height="35.80" fill="#6868c0"/>
<rect x="394.50" y="773.55" width="2.45" height="35.80" fill="#7373c4"/>
<rect x="396.90" y="737.80" width="3.35" height="35.80" fill="#7e7ec9"/>
<rect x="396.90" y="773.55" width="3.35" height="35.80" fill="#9393d2"/>
<rect x="400.20" y="737.80" width="2.05" height="35.80" fill="#a9a9db"/>
<rect x="400.20" y="773.55" width="2.05" height="35.80" fill="#bebee4"/>
<rect x="402.20" y="737.80" width="2.35" height="35.80" fill="#e5e5f4"/>
<rect x="402.20" y="773.55" width="2.35" height="35.80" fill="#f4f4fa"/>
<rect x="404.50" y="737.80" width="2.35" height="35.80" fill="#e9e9f6"/>
<rect x="404.50" y="773.55" width="2.35" height="35.80" fill="#f6c5c3"/>
<rect x="406.80" y="737.80" width="2.05" height="35.80" fill="#e9e9f6"/>
<rect x="406.80" y="773.55" width="2.05" height="35.80" fill="#f1a39f"/>
<rect x="408.80" y="737.80" width="2.45" height="35.80" fill="#df241b"/>
<rect x="408.80" y="773.55" width="2.45" height="35.80" fill="#bebee4"/>
<rect x="411.20" y="737.80" width="2.45" height="35.80" fill="#ffffff"/>
<rect x="411.20" y="773.55" width="2.45" height="35.80" fill="#f09793"/>
<rect x="413.60" y="737.80" width="2.45" height="35.80" fill="#9e9ed6"/>
<rect x="413.60" y="773.55" width="2.45" height="35.80" fill="#4848b2"/>
<text x="416.60" y="756.50" font-size="2.4" text-anchor="start" fill="#333" textLength="74" lengthAdjust="spacingAndGlyphs">Aldo_ALEDHVVYLEGTLLKPNM[15.9949]VTAGQAK</text>
<text x="416.60" y="792.60" font-size="2.4" text-anchor="start" fill="#333" textLength="51" lengthAdjust="spacingAndGlyphs">Aldo_GLAKDSGPTM[15.9949]DKR</text>
<text x="477.20" y="772.90" font-size="2.3" text-anchor="start" font-weight="bold" fill="#111" textLength="13.1" lengthAdjust="spacingAndGlyphs">Condition</text>
<rect x="477.20" y="774.10" width="4.00" height="3.80" fill="#3a3a3a" stroke="none" stroke-width="1" />
<rect x="477.20" y="777.90" width="4.00" height="4.00" fill="#d42020" stroke="none" stroke-width="1" />
<text x="482.00" y="777.10" font-size="2.1" text-anchor="start" fill="#333" >NSD</text>
<text x="482.00" y="780.90" font-size="2.1" text-anchor="start" fill="#333" >HSD</text>
<rect x="477.20" y="786.60" width="2.00" height="23.50" fill="url(#brg)" stroke="none" stroke-width="1" />
<text x="479.80" y="791.50" font-size="1.4" text-anchor="start" fill="#444" >2</text>
<text x="479.80" y="797.00" font-size="1.4" text-anchor="start" fill="#444" >1</text>
<text x="479.80" y="802.50" font-size="1.4" text-anchor="start" fill="#444" >0</text>
<text x="479.80" y="808.00" font-size="1.4" text-anchor="start" fill="#444" >-1</text>
<text x="623.70" y="751.41" font-size="6.72" text-anchor="start" font-weight="bold" fill="#111" stroke="#111" stroke-width="0.134" >Log2(FC)</text>
<rect x="623.70" y="755.30" width="7.10" height="7.52" fill="#c0202a" stroke="#222" stroke-width="0.35" />
<rect x="623.70" y="762.82" width="7.10" height="7.52" fill="#e84030" stroke="#222" stroke-width="0.35" />
<rect x="623.70" y="770.34" width="7.10" height="7.52" fill="#f59000" stroke="#222" stroke-width="0.35" />
<rect x="623.70" y="777.86" width="7.10" height="7.52" fill="#111111" stroke="#222" stroke-width="0.35" />
<rect x="623.70" y="785.38" width="7.10" height="7.52" fill="#52aee0" stroke="#222" stroke-width="0.35" />
<rect x="623.70" y="792.90" width="7.10" height="7.52" fill="#3372c0" stroke="#222" stroke-width="0.35" />
<rect x="623.70" y="800.42" width="7.10" height="7.52" fill="#2b2b9b" stroke="#222" stroke-width="0.35" />
<text x="633.30" y="761.66" font-size="6.6" text-anchor="start" fill="#111" stroke="#111" stroke-width="0.1" >1</text>
<text x="646.70" y="761.66" font-size="6.6" text-anchor="start" fill="#111" stroke="#111" stroke-width="0.1" >≤ x</text>
<text x="633.30" y="769.18" font-size="6.6" text-anchor="start" fill="#111" stroke="#111" stroke-width="0.1" >0.5</text>
<text x="646.70" y="769.18" font-size="6.6" text-anchor="start" fill="#111" stroke="#111" stroke-width="0.1" >≤ x &lt; 1</text>
<text x="633.30" y="776.70" font-size="6.6" text-anchor="start" fill="#111" stroke="#111" stroke-width="0.1" >0</text>
<text x="646.70" y="776.70" font-size="6.6" text-anchor="start" fill="#111" stroke="#111" stroke-width="0.1" >&lt; x &lt; 0.5</text>
<text x="633.30" y="784.22" font-size="6.6" text-anchor="start" fill="#111" stroke="#111" stroke-width="0.1" >N.D</text>
<text x="633.30" y="791.74" font-size="6.6" text-anchor="start" fill="#111" stroke="#111" stroke-width="0.1" >-0.5</text>
<text x="646.70" y="791.74" font-size="6.6" text-anchor="start" fill="#111" stroke="#111" stroke-width="0.1" >&lt; x &lt; 0</text>
<text x="633.30" y="799.26" font-size="6.6" text-anchor="start" fill="#111" stroke="#111" stroke-width="0.1" >-1</text>
<text x="646.70" y="799.26" font-size="6.6" text-anchor="start" fill="#111" stroke="#111" stroke-width="0.1" >&lt; x ≤ -0.5</text>
<text x="653.00" y="806.78" font-size="6.6" text-anchor="start" fill="#111" stroke="#111" stroke-width="0.1" >x ≤ -1</text>
<text x="113.50" y="595.09" font-size="9.2" text-anchor="start" fill="#d1302f" stroke="#d1302f" stroke-width="0.18" >Sucrose</text>
<line x1="156.80" y1="592.20" x2="210.79" y2="592.20" stroke="#111" stroke-width="1.7" />
<path d="M216.60,592.20 L208.10,587.30 L210.14,592.20 L208.10,597.10 Z" fill="#111"/>
<line x1="169.90" y1="591.50" x2="169.90" y2="630.79" stroke="#111" stroke-width="1.7" />
<path d="M169.90,636.60 L174.80,628.10 L169.90,630.14 L165.00,628.10 Z" fill="#111"/>
<text x="226.40" y="594.99" font-size="9.2" text-anchor="start" fill="#1a1a1a" stroke="#1a1a1a" stroke-width="0.18" >Fructose</text>
<text x="46.80" y="650.79" font-size="9.2" text-anchor="start" fill="#d1302f" stroke="#d1302f" stroke-width="0.18" >Trehalose</text>
<line x1="99.80" y1="647.00" x2="139.49" y2="647.00" stroke="#2b2f96" stroke-width="1.7" />
<path d="M145.30,647.00 L136.80,642.10 L138.84,647.00 L136.80,651.90 Z" fill="#2b2f96"/>
<text x="115.00" y="661.79" font-size="9.2" text-anchor="start" fill="#1a1a1a" stroke="#1a1a1a" stroke-width="0.18" >Treh</text>
<text x="148.90" y="650.89" font-size="9.2" text-anchor="start" fill="#1a1a1a" stroke="#1a1a1a" stroke-width="0.18" >Glucose</text>
<line x1="222.20" y1="644.10" x2="195.71" y2="644.10" stroke="#111" stroke-width="1.7" />
<path d="M189.90,644.10 L198.40,649.00 L196.36,644.10 L198.40,639.20 Z" fill="#111"/>
<line x1="189.90" y1="650.60" x2="215.89" y2="650.60" stroke="#111" stroke-width="1.7" />
<path d="M221.70,650.60 L213.20,645.70 L215.24,650.60 L213.20,655.50 Z" fill="#111"/>
<text x="179.70" y="629.29" font-size="9.2" text-anchor="start" fill="#1a1a1a" stroke="#1a1a1a" stroke-width="0.18" >NADPH</text>
<path d="M197.2,635.5 Q206.9,647.2 216.6,635.8" fill="none" stroke="#111" stroke-width="1.4"/>
<path d="M195.10,631.40 L194.38,638.16 L196.72,635.41 L200.31,635.76 Z" fill="#111"/>
<path d="M217.80,632.20 L212.90,636.92 L216.47,636.31 L218.99,638.90 Z" fill="#111"/>
<text x="226.60" y="650.89" font-size="9.2" text-anchor="start" fill="#d1302f" stroke="#d1302f" stroke-width="0.18" >Sorbitol</text>
<line x1="232.80" y1="604.40" x2="232.80" y2="630.29" stroke="#111" stroke-width="1.7" />
<path d="M232.80,636.10 L237.70,627.60 L232.80,629.64 L227.90,627.60 Z" fill="#111"/>
<line x1="240.50" y1="636.70" x2="240.50" y2="610.21" stroke="#111" stroke-width="1.7" />
<path d="M240.50,604.40 L235.60,612.90 L240.50,610.86 L245.40,612.90 Z" fill="#111"/>
<path d="M241,623.5 Q242,617.5 248.5,616.6 M241,623.5 Q242,630 248.5,631.6" fill="none" stroke="#111" stroke-width="1.2"/>
<path d="M251.80,616.00 L246.78,614.51 L248.56,616.69 L247.82,619.40 Z" fill="#111"/>
<path d="M251.80,632.30 L247.94,628.76 L248.59,631.50 L246.73,633.61 Z" fill="#111"/>
<text x="253.80" y="621.89" font-size="9.2" text-anchor="start" fill="#1a1a1a" stroke="#1a1a1a" stroke-width="0.18" >NADH</text>
<text x="275.20" y="576.29" font-size="8.9" text-anchor="start" fill="#1a1a1a" stroke="#1a1a1a" stroke-width="0.18" >ATP</text>
<line x1="262.80" y1="577.60" x2="294.50" y2="590.90" stroke="#111" stroke-width="1.15" />
<line x1="283.00" y1="590.80" x2="309.59" y2="590.80" stroke="#2b2f96" stroke-width="1.7" />
<path d="M315.40,590.80 L306.90,585.90 L308.94,590.80 L306.90,595.70 Z" fill="#2b2f96"/>
<path d="M289.4,580.3 Q291.5,590.4 301,590.7" fill="none" stroke="#2b2f96" stroke-width="1.75"/>
<text x="290.60" y="604.89" font-size="9.2" text-anchor="start" fill="#1a1a1a" stroke="#1a1a1a" stroke-width="0.18" >Hex-A</text>
<text x="328.40" y="594.29" font-size="9.2" text-anchor="start" fill="#f39c1f" stroke="#f39c1f" stroke-width="0.18" >Fructose-6P</text>
<text x="390.30" y="578.39" font-size="8.9" text-anchor="start" fill="#1a1a1a" stroke="#1a1a1a" stroke-width="0.18" >ATP</text>
<line x1="391.70" y1="591.10" x2="418.09" y2="591.10" stroke="#2b2f96" stroke-width="1.7" />
<path d="M423.90,591.10 L415.40,586.20 L417.44,591.10 L415.40,596.00 Z" fill="#2b2f96"/>
<path d="M402.2,581 Q404,590.8 413.5,591" fill="none" stroke="#2b2f96" stroke-width="1.75"/>
<text x="397.00" y="604.16" font-size="9.1" text-anchor="start" fill="#1a1a1a" stroke="#1a1a1a" stroke-width="0.18" >Pfk</text>
<text x="438.40" y="595.99" font-size="9.2" text-anchor="start" fill="#d1302f" stroke="#d1302f" stroke-width="0.18" >Fructose-1,6P</text>
<line x1="514.30" y1="591.10" x2="541.49" y2="591.10" stroke="#3a80c8" stroke-width="1.7" />
<path d="M547.30,591.10 L538.80,586.20 L540.84,591.10 L538.80,596.00 Z" fill="#3a80c8"/>
<text x="519.00" y="602.79" font-size="9.2" text-anchor="start" fill="#1a1a1a" stroke="#1a1a1a" stroke-width="0.18" >Aldo</text>
<text x="560.00" y="594.89" font-size="9.2" text-anchor="start" fill="#f39c1f" stroke="#f39c1f" stroke-width="0.18" >GAP</text>
<line x1="585.90" y1="591.10" x2="619.50" y2="591.10" stroke="#111" stroke-width="1.5" stroke-dasharray="0.9,0.9"/>
<path d="M625.60,591.10 L618.60,587.10 L620.56,591.10 L618.60,595.10 Z" fill="#111"/>
<text x="628.30" y="589.99" font-size="9.2" text-anchor="start" fill="#1a1a1a" stroke="#1a1a1a" stroke-width="0.18" >Lower</text>
<text x="628.30" y="600.79" font-size="9.2" text-anchor="start" fill="#1a1a1a" stroke="#1a1a1a" stroke-width="0.18" >glycolysis</text>
<line x1="515.20" y1="608.50" x2="548.22" y2="685.75" stroke="#3a80c8" stroke-width="1.7" />
<path d="M550.50,691.10 L551.67,681.36 L547.96,685.16 L542.65,685.21 Z" fill="#3a80c8"/>
<line x1="570.10" y1="692.70" x2="570.10" y2="608.31" stroke="#2b2f96" stroke-width="1.7" />
<path d="M570.10,602.50 L565.20,611.00 L570.10,608.96 L575.00,611.00 Z" fill="#2b2f96"/>
<text x="549.40" y="714.79" font-size="9.2" text-anchor="start" fill="#f39c1f" stroke="#f39c1f" stroke-width="0.18" >DHAP</text>
<line x1="282.70" y1="603.30" x2="328.32" y2="695.49" stroke="#111" stroke-width="1.7" />
<path d="M330.90,700.70 L331.52,690.91 L328.03,694.91 L322.74,695.26 Z" fill="#111"/>
<text x="316.00" y="714.99" font-size="9.2" text-anchor="start" fill="#1a1a1a" stroke="#1a1a1a" stroke-width="0.18" >Fructose-1P</text>
<line x1="375.10" y1="711.20" x2="533.39" y2="711.20" stroke="#111" stroke-width="1.7" />
<path d="M539.20,711.20 L530.70,706.30 L532.74,711.20 L530.70,716.10 Z" fill="#111"/>
<text x="430.90" y="722.69" font-size="9.2" text-anchor="start" fill="#1a1a1a" stroke="#1a1a1a" stroke-width="0.18" >Aldo</text>
</svg></body></html>
